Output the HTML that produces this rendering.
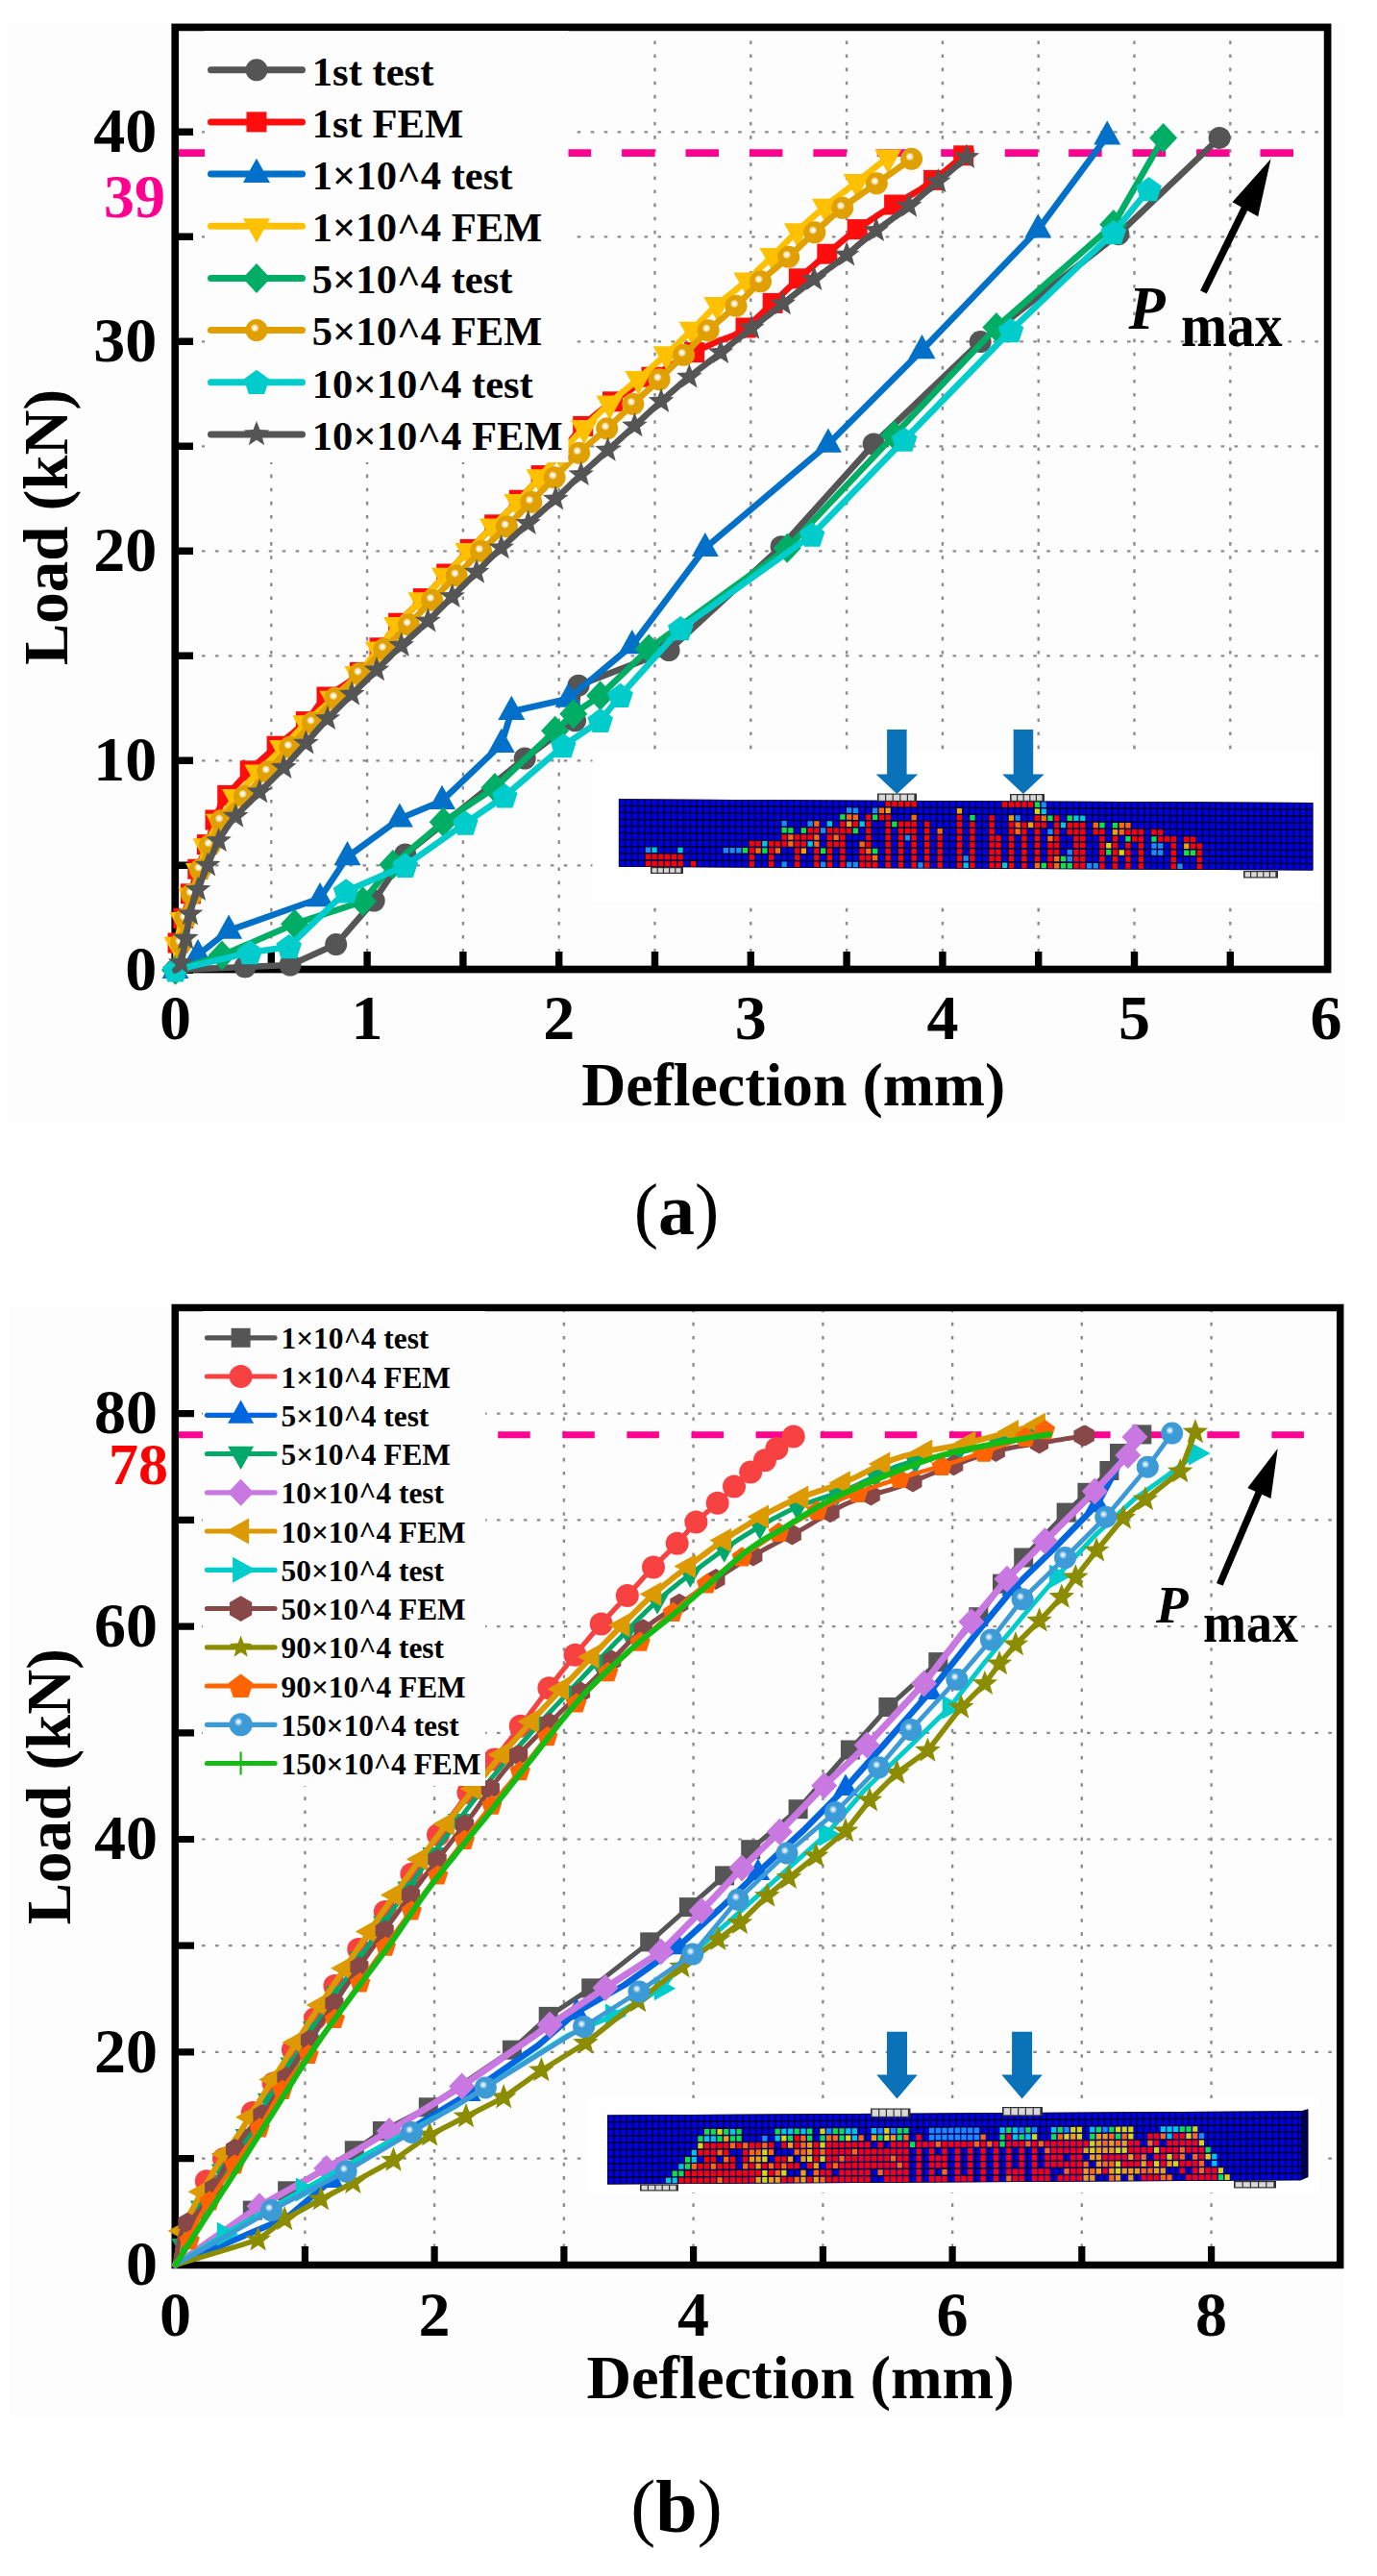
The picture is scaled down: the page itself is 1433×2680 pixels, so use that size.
<!DOCTYPE html>
<html><head><meta charset="utf-8"><title>Load-deflection curves</title>
<style>html,body{margin:0;padding:0;background:#fff;overflow:hidden}svg{display:block}text{font-family:"Liberation Serif",serif;font-weight:bold}</style>
</head><body>
<svg width="1433" height="2680" viewBox="0 0 1433 2680">
<defs>
<radialGradient id="hl"><stop offset="0" stop-color="#fff" stop-opacity="1"/><stop offset="0.5" stop-color="#fff" stop-opacity="0.8"/><stop offset="1" stop-color="#fff" stop-opacity="0"/></radialGradient>
<radialGradient id="hl2"><stop offset="0" stop-color="#fff" stop-opacity="0.95"/><stop offset="0.4" stop-color="#fff" stop-opacity="0.7"/><stop offset="1" stop-color="#fff" stop-opacity="0"/></radialGradient>
<pattern id="meshA" x="0" y="0" width="6.752" height="7.05" patternUnits="userSpaceOnUse"><rect width="6.752" height="7.05" fill="#000028"/><rect x="0.75" y="0.75" width="5.25" height="5.55" fill="#0000e6"/></pattern>
<pattern id="meshB" x="0" y="0" width="6.722" height="7.2" patternUnits="userSpaceOnUse"><rect width="6.722" height="7.2" fill="#000028"/><rect x="0.75" y="0.75" width="5.22" height="5.7" fill="#0000e6"/></pattern>
</defs>
<rect x="0" y="0" width="1433" height="2680" fill="#ffffff"/><rect x="7" y="24" width="1394" height="1144" fill="#fdfdfd"/><rect x="10" y="1357" width="1389" height="1157" fill="#fdfdfd"/><path d="M282.3,1004.8 V32 M382.1,1004.8 V32 M481.9,1004.8 V32 M581.7,1004.8 V32 M681.5,1004.8 V32 M781.3,1004.8 V32 M881.1,1004.8 V32 M980.9,1004.8 V32 M1080.7,1004.8 V32 M1180.5,1004.8 V32 M1280.3,1004.8 V32" stroke="#8c8c8c" stroke-width="2.4" stroke-dasharray="3.6 10.5" fill="none"/><path d="M182.05,900.3 H1378 M182.05,791.3 H1378 M182.05,682.3 H1378 M182.05,573.3 H1378 M182.05,464.3 H1378 M182.05,355.3 H1378 M182.05,246.3 H1378 M182.05,137.3 H1378" stroke="#8c8c8c" stroke-width="2.2" stroke-dasharray="3.6 10.356" fill="none"/><path d="M182,159.1 H1346" stroke="#ff0090" stroke-width="7.6" stroke-dasharray="34.5 31.94" fill="none"/><rect x="616.5" y="783" width="756.5" height="155" fill="#ffffff"/><g transform="translate(643.9,831.3) skewY(0.301)"><rect x="0" y="0" width="722.5" height="70.5" fill="#000028"/><rect x="0" y="0" width="722.5" height="70.5" fill="url(#meshA)"/><rect x="27.8" y="50.1" width="5.3" height="5.5" fill="#1a8cf0"/><rect x="27.8" y="57.1" width="5.3" height="5.5" fill="#ff0000"/><rect x="27.8" y="64.2" width="5.3" height="5.5" fill="#ff0000"/><rect x="34.5" y="50.1" width="5.3" height="5.5" fill="#00c8d8"/><rect x="34.5" y="57.1" width="5.3" height="5.5" fill="#ff0000"/><rect x="34.5" y="64.2" width="5.3" height="5.5" fill="#ff0000"/><rect x="41.3" y="57.1" width="5.3" height="5.5" fill="#ff0000"/><rect x="41.3" y="64.2" width="5.3" height="5.5" fill="#ff0000"/><rect x="48" y="57.1" width="5.3" height="5.5" fill="#ff0000"/><rect x="48" y="64.2" width="5.3" height="5.5" fill="#ff0000"/><rect x="54.8" y="57.1" width="5.3" height="5.5" fill="#ff0000"/><rect x="54.8" y="64.2" width="5.3" height="5.5" fill="#ff0000"/><rect x="61.5" y="50.1" width="5.3" height="5.5" fill="#00c8d8"/><rect x="61.5" y="57.1" width="5.3" height="5.5" fill="#ff0000"/><rect x="61.5" y="64.2" width="5.3" height="5.5" fill="#ff0000"/><rect x="75" y="64.2" width="5.3" height="5.5" fill="#ff0000"/><rect x="108.8" y="50.1" width="5.3" height="5.5" fill="#1a8cf0"/><rect x="115.5" y="50.1" width="5.3" height="5.5" fill="#1a8cf0"/><rect x="122.3" y="50.1" width="5.3" height="5.5" fill="#1a8cf0"/><rect x="129" y="50.1" width="5.3" height="5.5" fill="#10e040"/><rect x="135.8" y="43" width="5.3" height="5.5" fill="#ff0000"/><rect x="135.8" y="50.1" width="5.3" height="5.5" fill="#ff0000"/><rect x="135.8" y="57.1" width="5.3" height="5.5" fill="#ff0000"/><rect x="135.8" y="64.2" width="5.3" height="5.5" fill="#ff0000"/><rect x="142.5" y="43" width="5.3" height="5.5" fill="#ff0000"/><rect x="142.5" y="50.1" width="5.3" height="5.5" fill="#ff6a00"/><rect x="149.3" y="43" width="5.3" height="5.5" fill="#00c8d8"/><rect x="149.3" y="50.1" width="5.3" height="5.5" fill="#10e040"/><rect x="156.1" y="43" width="5.3" height="5.5" fill="#ff0000"/><rect x="156.1" y="50.1" width="5.3" height="5.5" fill="#ff0000"/><rect x="156.1" y="57.1" width="5.3" height="5.5" fill="#ff0000"/><rect x="156.1" y="64.2" width="5.3" height="5.5" fill="#ff0000"/><rect x="162.8" y="43" width="5.3" height="5.5" fill="#ff0000"/><rect x="162.8" y="50.1" width="5.3" height="5.5" fill="#ff6a00"/><rect x="169.6" y="21.9" width="5.3" height="5.5" fill="#1a8cf0"/><rect x="169.6" y="28.9" width="5.3" height="5.5" fill="#10e040"/><rect x="169.6" y="36" width="5.3" height="5.5" fill="#ff0000"/><rect x="169.6" y="43" width="5.3" height="5.5" fill="#ff0000"/><rect x="169.6" y="64.2" width="5.3" height="5.5" fill="#1a8cf0"/><rect x="176.3" y="28.9" width="5.3" height="5.5" fill="#10e040"/><rect x="176.3" y="36" width="5.3" height="5.5" fill="#ff6a00"/><rect x="176.3" y="43" width="5.3" height="5.5" fill="#ff6a00"/><rect x="183.1" y="36" width="5.3" height="5.5" fill="#ff0000"/><rect x="183.1" y="43" width="5.3" height="5.5" fill="#ff0000"/><rect x="183.1" y="50.1" width="5.3" height="5.5" fill="#ff0000"/><rect x="183.1" y="57.1" width="5.3" height="5.5" fill="#ff0000"/><rect x="183.1" y="64.2" width="5.3" height="5.5" fill="#ff0000"/><rect x="189.8" y="28.9" width="5.3" height="5.5" fill="#10e040"/><rect x="189.8" y="36" width="5.3" height="5.5" fill="#ff0000"/><rect x="189.8" y="43" width="5.3" height="5.5" fill="#ff0000"/><rect x="189.8" y="50.1" width="5.3" height="5.5" fill="#f0a000"/><rect x="196.6" y="21.9" width="5.3" height="5.5" fill="#1a8cf0"/><rect x="196.6" y="28.9" width="5.3" height="5.5" fill="#ff0000"/><rect x="196.6" y="36" width="5.3" height="5.5" fill="#ff0000"/><rect x="196.6" y="43" width="5.3" height="5.5" fill="#00c8d8"/><rect x="203.3" y="21.9" width="5.3" height="5.5" fill="#ff6a00"/><rect x="203.3" y="28.9" width="5.3" height="5.5" fill="#ff0000"/><rect x="203.3" y="36" width="5.3" height="5.5" fill="#ff6a00"/><rect x="203.3" y="43" width="5.3" height="5.5" fill="#ff6a00"/><rect x="203.3" y="50.1" width="5.3" height="5.5" fill="#ff0000"/><rect x="203.3" y="57.1" width="5.3" height="5.5" fill="#ff0000"/><rect x="203.3" y="64.2" width="5.3" height="5.5" fill="#ff0000"/><rect x="210.1" y="28.9" width="5.3" height="5.5" fill="#1a8cf0"/><rect x="210.1" y="50.1" width="5.3" height="5.5" fill="#10e040"/><rect x="210.1" y="64.2" width="5.3" height="5.5" fill="#1a8cf0"/><rect x="216.8" y="21.9" width="5.3" height="5.5" fill="#00c8d8"/><rect x="216.8" y="28.9" width="5.3" height="5.5" fill="#ff0000"/><rect x="216.8" y="36" width="5.3" height="5.5" fill="#ff0000"/><rect x="216.8" y="43" width="5.3" height="5.5" fill="#ff0000"/><rect x="216.8" y="50.1" width="5.3" height="5.5" fill="#ff0000"/><rect x="216.8" y="57.1" width="5.3" height="5.5" fill="#ff0000"/><rect x="216.8" y="64.2" width="5.3" height="5.5" fill="#ff0000"/><rect x="223.6" y="28.9" width="5.3" height="5.5" fill="#ff0000"/><rect x="223.6" y="36" width="5.3" height="5.5" fill="#ff6a00"/><rect x="223.6" y="43" width="5.3" height="5.5" fill="#ff0000"/><rect x="230.3" y="14.8" width="5.3" height="5.5" fill="#10e040"/><rect x="230.3" y="21.9" width="5.3" height="5.5" fill="#ff0000"/><rect x="230.3" y="28.9" width="5.3" height="5.5" fill="#ff0000"/><rect x="230.3" y="36" width="5.3" height="5.5" fill="#ff0000"/><rect x="230.3" y="43" width="5.3" height="5.5" fill="#ff0000"/><rect x="230.3" y="50.1" width="5.3" height="5.5" fill="#ff0000"/><rect x="230.3" y="57.1" width="5.3" height="5.5" fill="#ff0000"/><rect x="230.3" y="64.2" width="5.3" height="5.5" fill="#ff0000"/><rect x="237.1" y="7.8" width="5.3" height="5.5" fill="#1a8cf0"/><rect x="237.1" y="14.8" width="5.3" height="5.5" fill="#ff6a00"/><rect x="237.1" y="21.9" width="5.3" height="5.5" fill="#f0a000"/><rect x="237.1" y="28.9" width="5.3" height="5.5" fill="#ff0000"/><rect x="237.1" y="64.2" width="5.3" height="5.5" fill="#1a8cf0"/><rect x="243.8" y="7.8" width="5.3" height="5.5" fill="#1a8cf0"/><rect x="243.8" y="14.8" width="5.3" height="5.5" fill="#ff6a00"/><rect x="243.8" y="21.9" width="5.3" height="5.5" fill="#ff0000"/><rect x="243.8" y="28.9" width="5.3" height="5.5" fill="#10e040"/><rect x="243.8" y="64.2" width="5.3" height="5.5" fill="#1a8cf0"/><rect x="250.6" y="21.9" width="5.3" height="5.5" fill="#00c8d8"/><rect x="250.6" y="43" width="5.3" height="5.5" fill="#ff6a00"/><rect x="250.6" y="50.1" width="5.3" height="5.5" fill="#ff0000"/><rect x="250.6" y="57.1" width="5.3" height="5.5" fill="#ff0000"/><rect x="250.6" y="64.2" width="5.3" height="5.5" fill="#ff0000"/><rect x="257.3" y="14.8" width="5.3" height="5.5" fill="#ff0000"/><rect x="257.3" y="21.9" width="5.3" height="5.5" fill="#ff0000"/><rect x="257.3" y="28.9" width="5.3" height="5.5" fill="#ff0000"/><rect x="257.3" y="36" width="5.3" height="5.5" fill="#ff0000"/><rect x="257.3" y="43" width="5.3" height="5.5" fill="#ff0000"/><rect x="257.3" y="50.1" width="5.3" height="5.5" fill="#ff6a00"/><rect x="257.3" y="57.1" width="5.3" height="5.5" fill="#ff0000"/><rect x="257.3" y="64.2" width="5.3" height="5.5" fill="#ff0000"/><rect x="264.1" y="7.8" width="5.3" height="5.5" fill="#1a8cf0"/><rect x="264.1" y="14.8" width="5.3" height="5.5" fill="#10e040"/><rect x="264.1" y="50.1" width="5.3" height="5.5" fill="#10e040"/><rect x="264.1" y="57.1" width="5.3" height="5.5" fill="#ff6a00"/><rect x="264.1" y="64.2" width="5.3" height="5.5" fill="#ff0000"/><rect x="270.8" y="7.8" width="5.3" height="5.5" fill="#ff6a00"/><rect x="270.8" y="14.8" width="5.3" height="5.5" fill="#ff0000"/><rect x="277.6" y="0.8" width="5.3" height="5.5" fill="#ff0000"/><rect x="277.6" y="7.8" width="5.3" height="5.5" fill="#f0a000"/><rect x="277.6" y="14.8" width="5.3" height="5.5" fill="#ff0000"/><rect x="277.6" y="21.9" width="5.3" height="5.5" fill="#ff0000"/><rect x="277.6" y="28.9" width="5.3" height="5.5" fill="#ff0000"/><rect x="277.6" y="36" width="5.3" height="5.5" fill="#ff0000"/><rect x="277.6" y="43" width="5.3" height="5.5" fill="#ff0000"/><rect x="277.6" y="50.1" width="5.3" height="5.5" fill="#ff0000"/><rect x="277.6" y="57.1" width="5.3" height="5.5" fill="#ff0000"/><rect x="277.6" y="64.2" width="5.3" height="5.5" fill="#ff0000"/><rect x="284.3" y="0.8" width="5.3" height="5.5" fill="#ff0000"/><rect x="284.3" y="21.9" width="5.3" height="5.5" fill="#10e040"/><rect x="291.1" y="0.8" width="5.3" height="5.5" fill="#ff0000"/><rect x="291.1" y="21.9" width="5.3" height="5.5" fill="#ff0000"/><rect x="291.1" y="28.9" width="5.3" height="5.5" fill="#ff0000"/><rect x="291.1" y="36" width="5.3" height="5.5" fill="#ff0000"/><rect x="291.1" y="43" width="5.3" height="5.5" fill="#ff0000"/><rect x="291.1" y="50.1" width="5.3" height="5.5" fill="#ff0000"/><rect x="291.1" y="57.1" width="5.3" height="5.5" fill="#ff0000"/><rect x="291.1" y="64.2" width="5.3" height="5.5" fill="#ff0000"/><rect x="297.9" y="0.8" width="5.3" height="5.5" fill="#ff0000"/><rect x="297.9" y="21.9" width="5.3" height="5.5" fill="#ff0000"/><rect x="297.9" y="28.9" width="5.3" height="5.5" fill="#ff0000"/><rect x="297.9" y="36" width="5.3" height="5.5" fill="#1a8cf0"/><rect x="304.6" y="0.8" width="5.3" height="5.5" fill="#ff0000"/><rect x="304.6" y="14.8" width="5.3" height="5.5" fill="#ff6a00"/><rect x="304.6" y="21.9" width="5.3" height="5.5" fill="#ff0000"/><rect x="304.6" y="28.9" width="5.3" height="5.5" fill="#ff0000"/><rect x="304.6" y="36" width="5.3" height="5.5" fill="#ff0000"/><rect x="304.6" y="43" width="5.3" height="5.5" fill="#ff0000"/><rect x="304.6" y="50.1" width="5.3" height="5.5" fill="#ff0000"/><rect x="304.6" y="57.1" width="5.3" height="5.5" fill="#ff0000"/><rect x="304.6" y="64.2" width="5.3" height="5.5" fill="#ff0000"/><rect x="311.4" y="64.2" width="5.3" height="5.5" fill="#1a8cf0"/><rect x="318.1" y="21.9" width="5.3" height="5.5" fill="#ff0000"/><rect x="318.1" y="28.9" width="5.3" height="5.5" fill="#ff0000"/><rect x="318.1" y="36" width="5.3" height="5.5" fill="#ff0000"/><rect x="318.1" y="43" width="5.3" height="5.5" fill="#ff0000"/><rect x="318.1" y="50.1" width="5.3" height="5.5" fill="#ff0000"/><rect x="318.1" y="57.1" width="5.3" height="5.5" fill="#ff0000"/><rect x="318.1" y="64.2" width="5.3" height="5.5" fill="#ff0000"/><rect x="331.6" y="28.9" width="5.3" height="5.5" fill="#ff6a00"/><rect x="331.6" y="36" width="5.3" height="5.5" fill="#ff0000"/><rect x="331.6" y="43" width="5.3" height="5.5" fill="#ff0000"/><rect x="331.6" y="50.1" width="5.3" height="5.5" fill="#ff0000"/><rect x="331.6" y="57.1" width="5.3" height="5.5" fill="#ff0000"/><rect x="331.6" y="64.2" width="5.3" height="5.5" fill="#ff0000"/><rect x="351.9" y="7.8" width="5.3" height="5.5" fill="#f0a000"/><rect x="351.9" y="14.8" width="5.3" height="5.5" fill="#ff0000"/><rect x="351.9" y="21.9" width="5.3" height="5.5" fill="#ff0000"/><rect x="351.9" y="28.9" width="5.3" height="5.5" fill="#ff0000"/><rect x="351.9" y="36" width="5.3" height="5.5" fill="#ff0000"/><rect x="351.9" y="43" width="5.3" height="5.5" fill="#ff0000"/><rect x="351.9" y="50.1" width="5.3" height="5.5" fill="#ff0000"/><rect x="351.9" y="57.1" width="5.3" height="5.5" fill="#ff0000"/><rect x="351.9" y="64.2" width="5.3" height="5.5" fill="#ff0000"/><rect x="358.6" y="57.1" width="5.3" height="5.5" fill="#1a8cf0"/><rect x="358.6" y="64.2" width="5.3" height="5.5" fill="#00c8d8"/><rect x="365.4" y="14.8" width="5.3" height="5.5" fill="#10e040"/><rect x="365.4" y="21.9" width="5.3" height="5.5" fill="#ff0000"/><rect x="365.4" y="28.9" width="5.3" height="5.5" fill="#ff0000"/><rect x="365.4" y="36" width="5.3" height="5.5" fill="#ff0000"/><rect x="365.4" y="43" width="5.3" height="5.5" fill="#ff0000"/><rect x="365.4" y="50.1" width="5.3" height="5.5" fill="#ff0000"/><rect x="365.4" y="57.1" width="5.3" height="5.5" fill="#ff0000"/><rect x="365.4" y="64.2" width="5.3" height="5.5" fill="#ff0000"/><rect x="385.6" y="14.8" width="5.3" height="5.5" fill="#ff0000"/><rect x="385.6" y="21.9" width="5.3" height="5.5" fill="#ff0000"/><rect x="385.6" y="28.9" width="5.3" height="5.5" fill="#ff0000"/><rect x="385.6" y="36" width="5.3" height="5.5" fill="#ff0000"/><rect x="385.6" y="43" width="5.3" height="5.5" fill="#ff0000"/><rect x="385.6" y="50.1" width="5.3" height="5.5" fill="#ff0000"/><rect x="385.6" y="57.1" width="5.3" height="5.5" fill="#ff0000"/><rect x="385.6" y="64.2" width="5.3" height="5.5" fill="#ff0000"/><rect x="392.4" y="36" width="5.3" height="5.5" fill="#ff0000"/><rect x="392.4" y="43" width="5.3" height="5.5" fill="#ff0000"/><rect x="392.4" y="50.1" width="5.3" height="5.5" fill="#ff0000"/><rect x="392.4" y="57.1" width="5.3" height="5.5" fill="#ff0000"/><rect x="392.4" y="64.2" width="5.3" height="5.5" fill="#ff0000"/><rect x="399.1" y="0.8" width="5.3" height="5.5" fill="#ff0000"/><rect x="399.1" y="64.2" width="5.3" height="5.5" fill="#00c8d8"/><rect x="405.9" y="0.8" width="5.3" height="5.5" fill="#ff0000"/><rect x="405.9" y="14.8" width="5.3" height="5.5" fill="#f0a000"/><rect x="405.9" y="21.9" width="5.3" height="5.5" fill="#ff0000"/><rect x="405.9" y="28.9" width="5.3" height="5.5" fill="#ff0000"/><rect x="405.9" y="36" width="5.3" height="5.5" fill="#ff0000"/><rect x="405.9" y="43" width="5.3" height="5.5" fill="#ff0000"/><rect x="405.9" y="50.1" width="5.3" height="5.5" fill="#ff0000"/><rect x="405.9" y="57.1" width="5.3" height="5.5" fill="#ff0000"/><rect x="405.9" y="64.2" width="5.3" height="5.5" fill="#ff0000"/><rect x="412.6" y="0.8" width="5.3" height="5.5" fill="#ff0000"/><rect x="412.6" y="14.8" width="5.3" height="5.5" fill="#1a8cf0"/><rect x="412.6" y="21.9" width="5.3" height="5.5" fill="#ff6a00"/><rect x="412.6" y="28.9" width="5.3" height="5.5" fill="#ff6a00"/><rect x="419.4" y="0.8" width="5.3" height="5.5" fill="#ff0000"/><rect x="419.4" y="21.9" width="5.3" height="5.5" fill="#ff0000"/><rect x="419.4" y="28.9" width="5.3" height="5.5" fill="#ff0000"/><rect x="419.4" y="36" width="5.3" height="5.5" fill="#ff0000"/><rect x="419.4" y="43" width="5.3" height="5.5" fill="#ff0000"/><rect x="419.4" y="50.1" width="5.3" height="5.5" fill="#ff0000"/><rect x="419.4" y="57.1" width="5.3" height="5.5" fill="#ff0000"/><rect x="419.4" y="64.2" width="5.3" height="5.5" fill="#ff0000"/><rect x="426.1" y="0.8" width="5.3" height="5.5" fill="#ff0000"/><rect x="426.1" y="21.9" width="5.3" height="5.5" fill="#f0a000"/><rect x="432.9" y="0.8" width="5.3" height="5.5" fill="#10e040"/><rect x="432.9" y="7.8" width="5.3" height="5.5" fill="#d8d800"/><rect x="432.9" y="14.8" width="5.3" height="5.5" fill="#ff0000"/><rect x="432.9" y="21.9" width="5.3" height="5.5" fill="#ff0000"/><rect x="432.9" y="28.9" width="5.3" height="5.5" fill="#ff0000"/><rect x="432.9" y="36" width="5.3" height="5.5" fill="#ff0000"/><rect x="432.9" y="43" width="5.3" height="5.5" fill="#ff0000"/><rect x="432.9" y="50.1" width="5.3" height="5.5" fill="#ff0000"/><rect x="432.9" y="57.1" width="5.3" height="5.5" fill="#ff0000"/><rect x="432.9" y="64.2" width="5.3" height="5.5" fill="#ff6a00"/><rect x="439.7" y="0.8" width="5.3" height="5.5" fill="#1a8cf0"/><rect x="439.7" y="7.8" width="5.3" height="5.5" fill="#00c8d8"/><rect x="439.7" y="14.8" width="5.3" height="5.5" fill="#ff6a00"/><rect x="439.7" y="21.9" width="5.3" height="5.5" fill="#ff0000"/><rect x="439.7" y="64.2" width="5.3" height="5.5" fill="#10e040"/><rect x="446.4" y="14.8" width="5.3" height="5.5" fill="#10e040"/><rect x="446.4" y="28.9" width="5.3" height="5.5" fill="#1a8cf0"/><rect x="446.4" y="36" width="5.3" height="5.5" fill="#ff6a00"/><rect x="446.4" y="43" width="5.3" height="5.5" fill="#ff0000"/><rect x="446.4" y="50.1" width="5.3" height="5.5" fill="#ff0000"/><rect x="446.4" y="57.1" width="5.3" height="5.5" fill="#ff0000"/><rect x="446.4" y="64.2" width="5.3" height="5.5" fill="#ff0000"/><rect x="453.2" y="14.8" width="5.3" height="5.5" fill="#ff0000"/><rect x="453.2" y="21.9" width="5.3" height="5.5" fill="#ff0000"/><rect x="453.2" y="28.9" width="5.3" height="5.5" fill="#ff0000"/><rect x="453.2" y="36" width="5.3" height="5.5" fill="#ff0000"/><rect x="453.2" y="43" width="5.3" height="5.5" fill="#ff0000"/><rect x="453.2" y="50.1" width="5.3" height="5.5" fill="#ff0000"/><rect x="453.2" y="57.1" width="5.3" height="5.5" fill="#ff6a00"/><rect x="453.2" y="64.2" width="5.3" height="5.5" fill="#ff6a00"/><rect x="459.9" y="21.9" width="5.3" height="5.5" fill="#00c8d8"/><rect x="459.9" y="57.1" width="5.3" height="5.5" fill="#10e040"/><rect x="459.9" y="64.2" width="5.3" height="5.5" fill="#10e040"/><rect x="466.7" y="14.8" width="5.3" height="5.5" fill="#10e040"/><rect x="466.7" y="21.9" width="5.3" height="5.5" fill="#ff0000"/><rect x="466.7" y="28.9" width="5.3" height="5.5" fill="#ff0000"/><rect x="466.7" y="50.1" width="5.3" height="5.5" fill="#1a8cf0"/><rect x="466.7" y="57.1" width="5.3" height="5.5" fill="#1a8cf0"/><rect x="466.7" y="64.2" width="5.3" height="5.5" fill="#10e040"/><rect x="473.4" y="14.8" width="5.3" height="5.5" fill="#00c8d8"/><rect x="473.4" y="21.9" width="5.3" height="5.5" fill="#ff0000"/><rect x="473.4" y="28.9" width="5.3" height="5.5" fill="#ff0000"/><rect x="473.4" y="36" width="5.3" height="5.5" fill="#ff0000"/><rect x="473.4" y="43" width="5.3" height="5.5" fill="#ff0000"/><rect x="473.4" y="50.1" width="5.3" height="5.5" fill="#ff0000"/><rect x="473.4" y="57.1" width="5.3" height="5.5" fill="#ff0000"/><rect x="473.4" y="64.2" width="5.3" height="5.5" fill="#ff0000"/><rect x="480.2" y="14.8" width="5.3" height="5.5" fill="#00c8d8"/><rect x="480.2" y="21.9" width="5.3" height="5.5" fill="#ff0000"/><rect x="480.2" y="28.9" width="5.3" height="5.5" fill="#ff0000"/><rect x="480.2" y="36" width="5.3" height="5.5" fill="#ff0000"/><rect x="480.2" y="43" width="5.3" height="5.5" fill="#ff0000"/><rect x="480.2" y="50.1" width="5.3" height="5.5" fill="#ff0000"/><rect x="480.2" y="57.1" width="5.3" height="5.5" fill="#ff0000"/><rect x="480.2" y="64.2" width="5.3" height="5.5" fill="#ff0000"/><rect x="486.9" y="64.2" width="5.3" height="5.5" fill="#1a8cf0"/><rect x="493.7" y="21.9" width="5.3" height="5.5" fill="#ff6a00"/><rect x="493.7" y="28.9" width="5.3" height="5.5" fill="#ff0000"/><rect x="493.7" y="64.2" width="5.3" height="5.5" fill="#1a8cf0"/><rect x="500.4" y="21.9" width="5.3" height="5.5" fill="#10e040"/><rect x="500.4" y="28.9" width="5.3" height="5.5" fill="#ff0000"/><rect x="500.4" y="36" width="5.3" height="5.5" fill="#ff0000"/><rect x="500.4" y="43" width="5.3" height="5.5" fill="#ff0000"/><rect x="500.4" y="50.1" width="5.3" height="5.5" fill="#ff0000"/><rect x="500.4" y="57.1" width="5.3" height="5.5" fill="#ff0000"/><rect x="500.4" y="64.2" width="5.3" height="5.5" fill="#ff0000"/><rect x="507.2" y="43" width="5.3" height="5.5" fill="#d8d800"/><rect x="507.2" y="50.1" width="5.3" height="5.5" fill="#10e040"/><rect x="513.9" y="21.9" width="5.3" height="5.5" fill="#10e040"/><rect x="513.9" y="28.9" width="5.3" height="5.5" fill="#f0a000"/><rect x="513.9" y="36" width="5.3" height="5.5" fill="#ff0000"/><rect x="513.9" y="43" width="5.3" height="5.5" fill="#ff0000"/><rect x="513.9" y="50.1" width="5.3" height="5.5" fill="#ff0000"/><rect x="513.9" y="57.1" width="5.3" height="5.5" fill="#ff0000"/><rect x="513.9" y="64.2" width="5.3" height="5.5" fill="#ff0000"/><rect x="520.7" y="21.9" width="5.3" height="5.5" fill="#ff6a00"/><rect x="520.7" y="28.9" width="5.3" height="5.5" fill="#ff6a00"/><rect x="520.7" y="50.1" width="5.3" height="5.5" fill="#d8d800"/><rect x="527.4" y="21.9" width="5.3" height="5.5" fill="#ff6a00"/><rect x="527.4" y="28.9" width="5.3" height="5.5" fill="#ff0000"/><rect x="527.4" y="36" width="5.3" height="5.5" fill="#10e040"/><rect x="527.4" y="43" width="5.3" height="5.5" fill="#ff0000"/><rect x="527.4" y="50.1" width="5.3" height="5.5" fill="#ff0000"/><rect x="527.4" y="57.1" width="5.3" height="5.5" fill="#ff0000"/><rect x="527.4" y="64.2" width="5.3" height="5.5" fill="#ff0000"/><rect x="534.2" y="28.9" width="5.3" height="5.5" fill="#ff0000"/><rect x="534.2" y="36" width="5.3" height="5.5" fill="#ff0000"/><rect x="540.9" y="28.9" width="5.3" height="5.5" fill="#ff0000"/><rect x="540.9" y="36" width="5.3" height="5.5" fill="#ff0000"/><rect x="540.9" y="43" width="5.3" height="5.5" fill="#ff0000"/><rect x="540.9" y="50.1" width="5.3" height="5.5" fill="#ff0000"/><rect x="540.9" y="57.1" width="5.3" height="5.5" fill="#ff0000"/><rect x="540.9" y="64.2" width="5.3" height="5.5" fill="#ff0000"/><rect x="554.4" y="28.9" width="5.3" height="5.5" fill="#ff0000"/><rect x="554.4" y="36" width="5.3" height="5.5" fill="#10e040"/><rect x="554.4" y="43" width="5.3" height="5.5" fill="#1a8cf0"/><rect x="554.4" y="50.1" width="5.3" height="5.5" fill="#1a8cf0"/><rect x="561.2" y="28.9" width="5.3" height="5.5" fill="#ff0000"/><rect x="561.2" y="36" width="5.3" height="5.5" fill="#ff0000"/><rect x="561.2" y="43" width="5.3" height="5.5" fill="#1a8cf0"/><rect x="561.2" y="50.1" width="5.3" height="5.5" fill="#1a8cf0"/><rect x="567.9" y="36" width="5.3" height="5.5" fill="#ff0000"/><rect x="574.7" y="36" width="5.3" height="5.5" fill="#ff0000"/><rect x="574.7" y="43" width="5.3" height="5.5" fill="#ff0000"/><rect x="574.7" y="50.1" width="5.3" height="5.5" fill="#ff0000"/><rect x="574.7" y="57.1" width="5.3" height="5.5" fill="#ff0000"/><rect x="574.7" y="64.2" width="5.3" height="5.5" fill="#ff0000"/><rect x="581.5" y="64.2" width="5.3" height="5.5" fill="#1a8cf0"/><rect x="588.2" y="36" width="5.3" height="5.5" fill="#ff0000"/><rect x="588.2" y="43" width="5.3" height="5.5" fill="#f0a000"/><rect x="588.2" y="50.1" width="5.3" height="5.5" fill="#10e040"/><rect x="595" y="36" width="5.3" height="5.5" fill="#ff0000"/><rect x="595" y="43" width="5.3" height="5.5" fill="#ff0000"/><rect x="595" y="50.1" width="5.3" height="5.5" fill="#10e040"/><rect x="601.7" y="43" width="5.3" height="5.5" fill="#ff0000"/><rect x="601.7" y="50.1" width="5.3" height="5.5" fill="#ff0000"/><rect x="601.7" y="57.1" width="5.3" height="5.5" fill="#ff0000"/><rect x="601.7" y="64.2" width="5.3" height="5.5" fill="#ff0000"/></g><rect x="913" y="825.5" width="41" height="8.5" fill="#303030"/><rect x="914.6" y="826.7" width="6.4" height="6.1" fill="#d8d8d8"/><rect x="922.2" y="826.7" width="6.4" height="6.1" fill="#d8d8d8"/><rect x="929.8" y="826.7" width="6.4" height="6.1" fill="#d8d8d8"/><rect x="937.4" y="826.7" width="6.4" height="6.1" fill="#d8d8d8"/><rect x="945" y="826.7" width="6.4" height="6.1" fill="#d8d8d8"/><rect x="1051" y="826" width="36" height="8" fill="#303030"/><rect x="1052.6" y="827.2" width="5.4" height="5.6" fill="#d8d8d8"/><rect x="1059.2" y="827.2" width="5.4" height="5.6" fill="#d8d8d8"/><rect x="1065.8" y="827.2" width="5.4" height="5.6" fill="#d8d8d8"/><rect x="1072.4" y="827.2" width="5.4" height="5.6" fill="#d8d8d8"/><rect x="1079" y="827.2" width="5.4" height="5.6" fill="#d8d8d8"/><rect x="677" y="902" width="34" height="7" fill="#303030"/><rect x="678.6" y="903.2" width="5" height="4.6" fill="#d8d8d8"/><rect x="684.8" y="903.2" width="5" height="4.6" fill="#d8d8d8"/><rect x="691" y="903.2" width="5" height="4.6" fill="#d8d8d8"/><rect x="697.2" y="903.2" width="5" height="4.6" fill="#d8d8d8"/><rect x="703.4" y="903.2" width="5" height="4.6" fill="#d8d8d8"/><rect x="1294" y="906" width="36" height="7.5" fill="#303030"/><rect x="1295.6" y="907.2" width="5.4" height="5.1" fill="#d8d8d8"/><rect x="1302.2" y="907.2" width="5.4" height="5.1" fill="#d8d8d8"/><rect x="1308.8" y="907.2" width="5.4" height="5.1" fill="#d8d8d8"/><rect x="1315.4" y="907.2" width="5.4" height="5.1" fill="#d8d8d8"/><rect x="1322" y="907.2" width="5.4" height="5.1" fill="#d8d8d8"/><polygon points="923.1,759 943.6,759 943.6,805.4 955.2,805.4 933.4,826 911.6,805.4 923.1,805.4" fill="#0a72b8"/><polygon points="1054.7,759 1075.2,759 1075.2,805.4 1086.7,805.4 1064.9,826 1043.1,805.4 1054.7,805.4" fill="#0a72b8"/><rect x="182.25" y="28.4" width="1199.35" height="980.1" fill="none" stroke="#000" stroke-width="7.7"/><path d="M186,1009.3 H201 M186,900.3 H201 M186,791.3 H201 M186,682.3 H201 M186,573.3 H201 M186,464.3 H201 M186,355.3 H201 M186,246.3 H201 M186,137.3 H201 M282.3,1005 V990 M382.1,1005 V990 M481.9,1005 V990 M581.7,1005 V990 M681.5,1005 V990 M781.3,1005 V990 M881.1,1005 V990 M980.9,1005 V990 M1080.7,1005 V990 M1180.5,1005 V990 M1280.3,1005 V990" stroke="#000" stroke-width="7.4" fill="none"/><path d="M182.5,1009.3 L255,1006 L302,1004 L349.7,982.6 L389.2,937.1 L421.7,889 L546.2,789 L598.5,749.8 L602,713.2 L696.1,676.6 L813.1,568.7 L909.2,462 L1020.2,355.6 L1163.9,243.7 L1269.1,143.4" fill="none" stroke="#555555" stroke-width="6.6" stroke-linejoin="round" stroke-linecap="round"/><circle cx="182.5" cy="1009.3" r="11.5" fill="#555555"/><circle cx="255" cy="1006" r="11.5" fill="#555555"/><circle cx="302" cy="1004" r="11.5" fill="#555555"/><circle cx="349.7" cy="982.6" r="11.5" fill="#555555"/><circle cx="389.2" cy="937.1" r="11.5" fill="#555555"/><circle cx="421.7" cy="889" r="11.5" fill="#555555"/><circle cx="546.2" cy="789" r="11.5" fill="#555555"/><circle cx="598.5" cy="749.8" r="11.5" fill="#555555"/><circle cx="602" cy="713.2" r="11.5" fill="#555555"/><circle cx="696.1" cy="676.6" r="11.5" fill="#555555"/><circle cx="813.1" cy="568.7" r="11.5" fill="#555555"/><circle cx="909.2" cy="462" r="11.5" fill="#555555"/><circle cx="1020.2" cy="355.6" r="11.5" fill="#555555"/><circle cx="1163.9" cy="243.7" r="11.5" fill="#555555"/><circle cx="1269.1" cy="143.4" r="11.5" fill="#555555"/><path d="M182.5,1009.3 L182.7,1007.3 L182.9,1004.6 L183.2,1001.4 L183.5,997.9 L183.8,994.1 L184.1,990.2 L184.5,986.3 L184.9,982.6 L185.4,979.1 L185.8,976 L186.3,973.3 L186.8,970.7 L187.3,968.3 L187.9,966 L188.5,963.8 L189.1,961.6 L189.7,959.5 L190.3,957.3 L190.9,955 L191.6,952.7 L192.3,950.3 L193,947.8 L193.7,945.4 L194.4,942.9 L195.2,940.4 L195.9,937.9 L196.7,935.5 L197.4,933 L198.2,930.5 L198.9,928 L199.6,925.5 L200.3,923 L201,920.5 L201.7,918 L202.4,915.6 L203.1,913.1 L203.8,910.6 L204.6,908.1 L205.3,905.7 L206.1,903.3 L206.9,900.9 L207.8,898.6 L208.6,896.3 L209.5,894.1 L210.4,891.8 L211.3,889.5 L212.2,887.2 L213.1,884.9 L214,882.5 L214.9,880.1 L215.8,877.6 L216.6,875 L217.5,872.4 L218.3,869.7 L219.2,867 L220,864.3 L220.9,861.7 L221.8,859 L222.7,856.5 L223.6,854 L224.5,851.6 L225.3,849.3 L226.1,847.1 L226.8,845 L227.7,842.8 L228.5,840.6 L229.6,838.4 L230.7,836.2 L232.1,833.9 L233.7,831.4 L235.6,828.8 L237.7,826.1 L240,823.4 L242.4,820.5 L245,817.7 L247.6,814.8 L250.3,811.9 L253,809.1 L255.7,806.4 L258.3,803.7 L260.8,801.1 L263.3,798.7 L265.8,796.2 L268.3,793.9 L270.9,791.5 L273.4,789.2 L276.1,786.8 L278.8,784.4 L281.6,781.9 L284.5,779.3 L287.6,776.6 L290.9,773.9 L294.3,771.1 L297.9,768.2 L301.4,765.3 L305,762.5 L308.4,759.6 L311.7,756.8 L314.8,754.1 L317.6,751.4 L320.1,748.8 L322.2,746.3 L324.2,743.8 L326,741.3 L327.7,738.9 L329.4,736.5 L331.1,734.1 L333.1,731.7 L335.2,729.4 L337.6,727 L340.3,724.7 L343.3,722.4 L346.5,720.3 L349.9,718.1 L353.3,715.9 L356.7,713.7 L360.1,711.5 L363.4,709.2 L366.5,706.9 L369.4,704.4 L372.1,701.8 L374.7,699.2 L377.2,696.4 L379.5,693.6 L381.9,690.8 L384.1,687.9 L386.4,685 L388.6,682.2 L390.8,679.3 L393,676.5 L395.2,673.7 L397.3,670.9 L399.4,668 L401.5,665.2 L403.6,662.4 L405.6,659.6 L407.7,656.8 L409.8,654 L412,651.3 L414.2,648.7 L416.5,646.1 L418.9,643.6 L421.2,641.2 L423.7,638.8 L426.1,636.4 L428.6,634.1 L431.1,631.7 L433.6,629.3 L436.1,626.8 L438.6,624.3 L441.1,621.7 L443.7,619.1 L446.2,616.4 L448.8,613.7 L451.4,611 L454,608.2 L456.6,605.5 L459.1,602.8 L461.7,600.1 L464.2,597.5 L466.7,594.9 L469.1,592.3 L471.6,589.8 L474,587.2 L476.4,584.7 L478.8,582.1 L481.2,579.6 L483.7,577.1 L486.1,574.5 L488.6,572 L491.1,569.4 L493.6,566.9 L496.2,564.3 L498.7,561.8 L501.3,559.2 L503.8,556.6 L506.4,554.1 L509,551.5 L511.5,549 L514.1,546.4 L516.7,543.8 L519.3,541.3 L521.9,538.7 L524.5,536.2 L527.1,533.6 L529.6,531 L532.2,528.5 L534.8,525.9 L537.2,523.4 L539.7,520.8 L542.1,518.2 L544.5,515.7 L546.8,513.1 L549.1,510.6 L551.4,508.1 L553.6,505.5 L555.9,503 L558.1,500.4 L560.4,497.9 L562.6,495.3 L564.8,492.8 L567,490.2 L569.2,487.7 L571.3,485.2 L573.5,482.7 L575.6,480.1 L577.8,477.6 L580,475 L582.2,472.4 L584.5,469.7 L586.8,467 L589.1,464.2 L591.3,461.3 L593.6,458.5 L596,455.6 L598.3,452.7 L600.8,449.8 L603.3,447 L605.9,444.2 L608.6,441.5 L611.4,438.8 L614.3,436.2 L617.2,433.6 L620.2,431.1 L623.3,428.6 L626.5,426 L629.7,423.5 L633.1,421 L636.5,418.5 L640,416 L643.7,413.5 L647.4,410.9 L651.4,408.4 L655.4,405.9 L659.5,403.3 L663.6,400.8 L667.7,398.3 L671.9,395.9 L676,393.4 L680,391 L684.1,388.6 L688.2,386.1 L692.5,383.6 L696.7,381.1 L700.9,378.7 L705.1,376.3 L709.1,374 L713,371.9 L716.6,369.8 L720,368 L723.1,366.4 L725.9,364.9 L728.6,363.6 L731,362.4 L733.4,361.3 L735.7,360.2 L737.9,359.2 L740.2,358.2 L742.5,357.1 L745,356 L747.5,354.9 L750.1,353.9 L752.6,353.1 L755.1,352.2 L757.7,351.3 L760.2,350.3 L762.8,349.2 L765.5,348 L768.2,346.5 L770.9,344.8 L773.7,342.8 L776.6,340.5 L779.6,338.1 L782.6,335.4 L785.6,332.7 L788.6,329.9 L791.6,327 L794.6,324.2 L797.6,321.4 L800.5,318.7 L803.4,316.1 L806.2,313.4 L809,310.8 L811.8,308.1 L814.6,305.5 L817.3,302.9 L820.1,300.2 L822.8,297.6 L825.6,295 L828.4,292.5 L831.2,290 L833.9,287.5 L836.7,285.1 L839.4,282.7 L842.1,280.3 L844.9,277.9 L847.7,275.5 L850.5,273.1 L853.4,270.6 L856.3,268.1 L859.3,265.6 L862.2,263 L865.2,260.4 L868.2,257.8 L871.3,255.2 L874.4,252.5 L877.6,249.9 L880.8,247.2 L884.2,244.6 L887.6,242 L891.1,239.4 L894.8,236.8 L898.5,234.1 L902.4,231.5 L906.3,228.8 L910.2,226.2 L914.1,223.6 L918.1,221 L922.1,218.4 L926,215.9 L930,213.4 L934,211 L938,208.6 L942.1,206.3 L946.2,203.9 L950.2,201.6 L954.3,199.2 L958.3,196.7 L962.2,194.1 L966.1,191.5 L970.1,188.6 L974.2,185.4 L978.5,182 L982.7,178.6 L986.9,175.1 L990.9,171.8 L994.5,168.7 L997.8,165.9 L1000.5,163.6 L1002.7,161.8" fill="none" stroke="#ff0d0d" stroke-width="6.6" stroke-linejoin="round" stroke-linecap="round"/><rect x="992.2" y="151.3" width="21" height="21" fill="#ff0d0d"/><rect x="961.1" y="176.9" width="21" height="21" fill="#ff0d0d"/><rect x="920.1" y="202.5" width="21" height="21" fill="#ff0d0d"/><rect x="881.7" y="228.1" width="21" height="21" fill="#ff0d0d"/><rect x="850.3" y="253.7" width="21" height="21" fill="#ff0d0d"/><rect x="820.9" y="279.3" width="21" height="21" fill="#ff0d0d"/><rect x="793.6" y="304.9" width="21" height="21" fill="#ff0d0d"/><rect x="765.5" y="330.5" width="21" height="21" fill="#ff0d0d"/><rect x="712.1" y="356.1" width="21" height="21" fill="#ff0d0d"/><rect x="667.5" y="381.7" width="21" height="21" fill="#ff0d0d"/><rect x="627" y="407.3" width="21" height="21" fill="#ff0d0d"/><rect x="596.2" y="432.9" width="21" height="21" fill="#ff0d0d"/><rect x="574.6" y="458.5" width="21" height="21" fill="#ff0d0d"/><rect x="552.7" y="484.1" width="21" height="21" fill="#ff0d0d"/><rect x="529.8" y="509.7" width="21" height="21" fill="#ff0d0d"/><rect x="504.2" y="535.3" width="21" height="21" fill="#ff0d0d"/><rect x="478.7" y="560.9" width="21" height="21" fill="#ff0d0d"/><rect x="454.2" y="586.5" width="21" height="21" fill="#ff0d0d"/><rect x="429.8" y="612.1" width="21" height="21" fill="#ff0d0d"/><rect x="404.1" y="637.7" width="21" height="21" fill="#ff0d0d"/><rect x="384.6" y="663.3" width="21" height="21" fill="#ff0d0d"/><rect x="363.9" y="688.9" width="21" height="21" fill="#ff0d0d"/><rect x="329.5" y="714.5" width="21" height="21" fill="#ff0d0d"/><rect x="307.9" y="740.1" width="21" height="21" fill="#ff0d0d"/><rect x="277.6" y="765.7" width="21" height="21" fill="#ff0d0d"/><rect x="249.7" y="791.3" width="21" height="21" fill="#ff0d0d"/><rect x="226.2" y="816.9" width="21" height="21" fill="#ff0d0d"/><rect x="213.5" y="842.5" width="21" height="21" fill="#ff0d0d"/><rect x="204.9" y="868.1" width="21" height="21" fill="#ff0d0d"/><rect x="195.3" y="893.7" width="21" height="21" fill="#ff0d0d"/><rect x="187.9" y="919.3" width="21" height="21" fill="#ff0d0d"/><rect x="180.3" y="944.9" width="21" height="21" fill="#ff0d0d"/><rect x="174.6" y="970.5" width="21" height="21" fill="#ff0d0d"/><path d="M182.5,1009.3 L206,993.5 L238.1,968 L333,934.5 L361.5,891.5 L415.9,851.8 L460,833.2 L521.8,774.2 L532.3,740.2 L591.5,727 L657.8,671.4 L733.8,570.3 L861.9,462 L959.5,364.4 L1080.3,238.7 L1152.2,141.8" fill="none" stroke="#0070c8" stroke-width="6.6" stroke-linejoin="round" stroke-linecap="round"/><polygon points="182.5,992.9 168.5,1018.1 196.5,1018.1" fill="#0070c8"/><polygon points="206,977.1 192,1002.3 220,1002.3" fill="#0070c8"/><polygon points="238.1,951.6 224.1,976.8 252.1,976.8" fill="#0070c8"/><polygon points="333,918.1 319,943.3 347,943.3" fill="#0070c8"/><polygon points="361.5,875.1 347.5,900.3 375.5,900.3" fill="#0070c8"/><polygon points="415.9,835.4 401.9,860.6 429.9,860.6" fill="#0070c8"/><polygon points="460,816.8 446,842 474,842" fill="#0070c8"/><polygon points="521.8,757.8 507.8,783 535.8,783" fill="#0070c8"/><polygon points="532.3,723.8 518.3,749 546.3,749" fill="#0070c8"/><polygon points="591.5,710.6 577.5,735.8 605.5,735.8" fill="#0070c8"/><polygon points="657.8,655 643.8,680.2 671.8,680.2" fill="#0070c8"/><polygon points="733.8,553.9 719.8,579.1 747.8,579.1" fill="#0070c8"/><polygon points="861.9,445.6 847.9,470.8 875.9,470.8" fill="#0070c8"/><polygon points="959.5,348 945.5,373.2 973.5,373.2" fill="#0070c8"/><polygon points="1080.3,222.3 1066.3,247.5 1094.3,247.5" fill="#0070c8"/><polygon points="1152.2,125.4 1138.2,150.6 1166.2,150.6" fill="#0070c8"/><path d="M182.5,1009.3 L182.7,1007 L182.9,1003.9 L183.1,1000.3 L183.4,996.2 L183.7,991.8 L184,987.3 L184.4,982.9 L184.8,978.7 L185.3,974.9 L185.8,971.6 L186.4,968.8 L187,966.3 L187.7,964 L188.4,961.9 L189.1,960 L189.9,958.1 L190.7,956.2 L191.5,954.2 L192.3,952.1 L193.1,949.8 L193.9,947.4 L194.8,944.8 L195.7,942.2 L196.6,939.6 L197.5,936.9 L198.4,934.2 L199.3,931.6 L200.1,928.9 L201,926.3 L201.8,923.7 L202.6,921.2 L203.3,918.6 L204.1,916.1 L204.8,913.7 L205.5,911.2 L206.2,908.7 L206.9,906.3 L207.6,903.8 L208.3,901.4 L209,899 L209.7,896.6 L210.4,894.2 L211,891.9 L211.6,889.6 L212.3,887.3 L213,884.9 L213.7,882.6 L214.5,880.3 L215.3,878 L216.3,875.7 L217.4,873.4 L218.5,871.1 L219.7,868.8 L220.9,866.5 L222.3,864.2 L223.6,861.9 L225,859.6 L226.5,857.2 L227.9,854.9 L229.4,852.5 L230.9,850.1 L232.4,847.6 L234,845.2 L235.6,842.7 L237.2,840.2 L238.9,837.7 L240.6,835.2 L242.4,832.7 L244.2,830.2 L246.1,827.8 L248.1,825.4 L250.1,823 L252.2,820.6 L254.4,818.2 L256.6,815.8 L258.8,813.5 L261.1,811.1 L263.4,808.8 L265.7,806.4 L268,804 L270.3,801.6 L272.7,799.3 L275.1,796.9 L277.5,794.6 L279.9,792.2 L282.4,789.9 L284.9,787.5 L287.3,785.1 L289.8,782.6 L292.3,780.1 L294.8,777.5 L297.3,774.9 L299.8,772.1 L302.3,769.4 L304.8,766.6 L307.3,763.8 L309.9,761.1 L312.4,758.4 L315,755.7 L317.6,753.1 L320.2,750.6 L322.8,748.1 L325.5,745.7 L328.2,743.3 L330.8,740.9 L333.5,738.5 L336.2,736.2 L338.9,733.8 L341.5,731.4 L344.1,729 L346.7,726.6 L349.3,724.2 L351.8,721.8 L354.4,719.4 L356.9,716.9 L359.5,714.5 L362,712 L364.5,709.5 L366.9,707 L369.4,704.4 L371.8,701.7 L374.3,699 L376.7,696.3 L379.1,693.5 L381.5,690.6 L383.8,687.8 L386.1,685 L388.5,682.1 L390.7,679.3 L393,676.5 L395.2,673.7 L397.3,670.9 L399.4,668 L401.5,665.2 L403.6,662.4 L405.6,659.6 L407.7,656.8 L409.8,654 L412,651.3 L414.2,648.7 L416.5,646.1 L418.9,643.6 L421.2,641.2 L423.7,638.8 L426.1,636.4 L428.6,634.1 L431.1,631.7 L433.6,629.3 L436.1,626.8 L438.6,624.3 L441.1,621.7 L443.7,619.1 L446.2,616.4 L448.8,613.7 L451.4,611 L454,608.2 L456.6,605.5 L459.1,602.8 L461.7,600.1 L464.2,597.5 L466.7,594.9 L469.1,592.3 L471.6,589.8 L474,587.2 L476.4,584.7 L478.8,582.1 L481.2,579.6 L483.7,577.1 L486.1,574.5 L488.6,572 L491.1,569.4 L493.6,566.9 L496.2,564.3 L498.7,561.8 L501.3,559.2 L503.8,556.6 L506.4,554.1 L509,551.5 L511.5,549 L514.1,546.4 L516.7,543.8 L519.3,541.3 L521.9,538.7 L524.5,536.2 L527.1,533.6 L529.6,531 L532.2,528.5 L534.8,525.9 L537.2,523.4 L539.7,520.8 L542.1,518.2 L544.5,515.7 L546.8,513.1 L549.1,510.6 L551.4,508.1 L553.6,505.5 L555.9,503 L558.1,500.4 L560.4,497.9 L562.6,495.3 L564.8,492.7 L567,490.2 L569.1,487.7 L571.3,485.1 L573.4,482.6 L575.5,480 L577.7,477.5 L579.9,474.9 L582.2,472.3 L584.5,469.7 L586.9,467.1 L589.4,464.4 L591.9,461.7 L594.5,459 L597.1,456.3 L599.7,453.6 L602.3,450.9 L604.9,448.2 L607.5,445.6 L610.1,443 L612.6,440.5 L615.2,438 L617.7,435.5 L620.2,433 L622.8,430.6 L625.3,428.2 L627.8,425.8 L630.4,423.4 L633,421 L635.6,418.6 L638.2,416.2 L640.9,413.9 L643.6,411.6 L646.3,409.3 L649,407 L651.8,404.7 L654.5,402.4 L657.3,400.1 L660,397.8 L662.8,395.4 L665.6,393 L668.3,390.6 L671.1,388.2 L673.9,385.8 L676.7,383.4 L679.5,380.9 L682.3,378.5 L685.1,376 L687.9,373.5 L690.7,371 L693.5,368.5 L696.3,365.9 L699.1,363.3 L701.9,360.6 L704.8,358 L707.6,355.4 L710.4,352.7 L713.1,350.1 L715.9,347.4 L718.6,344.8 L721.3,342.2 L723.9,339.5 L726.4,336.9 L729,334.3 L731.5,331.6 L734.1,329 L736.7,326.4 L739.3,323.8 L742,321.2 L744.7,318.7 L747.5,316.2 L750.4,313.8 L753.3,311.4 L756.3,309 L759.3,306.6 L762.4,304.2 L765.4,301.8 L768.4,299.4 L771.4,296.9 L774.4,294.3 L777.4,291.6 L780.4,288.9 L783.4,286.1 L786.4,283.3 L789.4,280.5 L792.4,277.6 L795.4,274.8 L798.3,271.9 L801.2,269.1 L804,266.4 L806.7,263.7 L809.4,261 L812,258.4 L814.5,255.8 L817,253.2 L819.6,250.6 L822.1,248 L824.7,245.4 L827.4,242.8 L830.1,240.2 L832.9,237.6 L835.8,234.9 L838.7,232.3 L841.6,229.7 L844.6,227 L847.6,224.4 L850.7,221.8 L853.7,219.2 L856.7,216.6 L859.8,214.1 L862.9,211.6 L865.9,209.1 L869,206.7 L872.1,204.3 L875.2,201.9 L878.4,199.5 L881.5,197.1 L884.7,194.7 L887.9,192.2 L891.1,189.7 L894.5,187 L898.1,184.2 L901.9,181.2 L905.8,178.1 L909.6,175.1 L913.3,172.2 L916.6,169.6 L919.7,167.2 L922.2,165.2 L924.2,163.6" fill="none" stroke="#ffc000" stroke-width="6.6" stroke-linejoin="round" stroke-linecap="round"/><polygon points="924.2,180.7 910.2,155.5 938.2,155.5" fill="#ffc000"/><polygon points="891.7,206.3 877.7,181.1 905.7,181.1" fill="#ffc000"/><polygon points="859,231.9 845,206.7 873,206.7" fill="#ffc000"/><polygon points="829.9,257.5 815.9,232.3 843.9,232.3" fill="#ffc000"/><polygon points="804.4,283.1 790.4,257.9 818.4,257.9" fill="#ffc000"/><polygon points="777.4,308.7 763.4,283.5 791.4,283.5" fill="#ffc000"/><polygon points="746.4,334.3 732.4,309.1 760.4,309.1" fill="#ffc000"/><polygon points="720.6,359.9 706.6,334.7 734.6,334.7" fill="#ffc000"/><polygon points="693.6,385.5 679.6,360.3 707.6,360.3" fill="#ffc000"/><polygon points="664.4,411.1 650.4,385.9 678.4,385.9" fill="#ffc000"/><polygon points="634.5,436.7 620.5,411.5 648.5,411.5" fill="#ffc000"/><polygon points="607.9,462.3 593.9,437.1 621.9,437.1" fill="#ffc000"/><polygon points="583.5,487.9 569.5,462.7 597.5,462.7" fill="#ffc000"/><polygon points="561.6,513.5 547.6,488.3 575.6,488.3" fill="#ffc000"/><polygon points="538.5,539.1 524.5,513.9 552.5,513.9" fill="#ffc000"/><polygon points="512.9,564.7 498.9,539.5 526.9,539.5" fill="#ffc000"/><polygon points="487.4,590.3 473.4,565.1 501.4,565.1" fill="#ffc000"/><polygon points="463,615.9 449,590.7 477,590.7" fill="#ffc000"/><polygon points="438.5,641.5 424.5,616.3 452.5,616.3" fill="#ffc000"/><polygon points="413.1,667.1 399.1,641.9 427.1,641.9" fill="#ffc000"/><polygon points="393.7,692.7 379.7,667.5 407.7,667.5" fill="#ffc000"/><polygon points="372.3,718.3 358.3,693.1 386.3,693.1" fill="#ffc000"/><polygon points="346.4,743.9 332.4,718.7 360.4,718.7" fill="#ffc000"/><polygon points="318.3,769.5 304.3,744.3 332.3,744.3" fill="#ffc000"/><polygon points="294.3,795.1 280.3,769.9 308.3,769.9" fill="#ffc000"/><polygon points="268.4,820.7 254.4,795.5 282.4,795.5" fill="#ffc000"/><polygon points="245,846.3 231,821.1 259,821.1" fill="#ffc000"/><polygon points="228,871.9 214,846.7 242,846.7" fill="#ffc000"/><polygon points="214.4,897.5 200.4,872.3 228.4,872.3" fill="#ffc000"/><polygon points="207,923.1 193,897.9 221,897.9" fill="#ffc000"/><polygon points="199.2,948.7 185.2,923.5 213.2,923.5" fill="#ffc000"/><polygon points="190.2,974.3 176.2,949.1 204.2,949.1" fill="#ffc000"/><polygon points="184.4,999.9 170.4,974.7 198.4,974.7" fill="#ffc000"/><path d="M182.5,1009.3 L231,994 L306.6,961.2 L377.5,937.8 L408.9,899.4 L461.2,855.3 L514.9,819.5 L577.6,760.3 L596.8,742.8 L624.7,723.7 L675.2,674.9 L819.2,570.3 L930.5,452.8 L1036.9,340.6 L1158.8,233.6 L1210.6,143.4" fill="none" stroke="#00ad65" stroke-width="6.6" stroke-linejoin="round" stroke-linecap="round"/><polygon points="182.5,993.8 197,1009.3 182.5,1024.8 168,1009.3" fill="#00ad65"/><polygon points="231,978.5 245.5,994 231,1009.5 216.5,994" fill="#00ad65"/><polygon points="306.6,945.7 321.1,961.2 306.6,976.7 292.1,961.2" fill="#00ad65"/><polygon points="377.5,922.3 392,937.8 377.5,953.3 363,937.8" fill="#00ad65"/><polygon points="408.9,883.9 423.4,899.4 408.9,914.9 394.4,899.4" fill="#00ad65"/><polygon points="461.2,839.8 475.7,855.3 461.2,870.8 446.7,855.3" fill="#00ad65"/><polygon points="514.9,804 529.4,819.5 514.9,835 500.4,819.5" fill="#00ad65"/><polygon points="577.6,744.8 592.1,760.3 577.6,775.8 563.1,760.3" fill="#00ad65"/><polygon points="596.8,727.3 611.3,742.8 596.8,758.3 582.3,742.8" fill="#00ad65"/><polygon points="624.7,708.2 639.2,723.7 624.7,739.2 610.2,723.7" fill="#00ad65"/><polygon points="675.2,659.4 689.7,674.9 675.2,690.4 660.7,674.9" fill="#00ad65"/><polygon points="819.2,554.8 833.7,570.3 819.2,585.8 804.7,570.3" fill="#00ad65"/><polygon points="930.5,437.3 945,452.8 930.5,468.3 916,452.8" fill="#00ad65"/><polygon points="1036.9,325.1 1051.4,340.6 1036.9,356.1 1022.4,340.6" fill="#00ad65"/><polygon points="1158.8,218.1 1173.3,233.6 1158.8,249.1 1144.3,233.6" fill="#00ad65"/><polygon points="1210.6,127.9 1225.1,143.4 1210.6,158.9 1196.1,143.4" fill="#00ad65"/><path d="M182.5,1009.3 L182.7,1008.6 L182.9,1007.8 L183.2,1007 L183.4,1006.1 L183.8,1005 L184.1,1003.6 L184.5,1002 L185,1000.1 L185.5,997.7 L186,995 L186.6,991.7 L187.3,987.7 L188,983.3 L188.8,978.5 L189.7,973.5 L190.5,968.4 L191.4,963.4 L192.3,958.5 L193.1,954 L194,950 L194.9,946.4 L195.8,942.9 L196.7,939.6 L197.6,936.5 L198.5,933.6 L199.4,930.7 L200.3,927.9 L201.2,925.2 L202.1,922.6 L203,920 L203.8,917.5 L204.6,915.1 L205.4,912.8 L206.2,910.6 L207,908.5 L207.8,906.4 L208.6,904.3 L209.4,902.3 L210.2,900.2 L211,898 L211.8,895.8 L212.7,893.7 L213.5,891.6 L214.3,889.4 L215.2,887.3 L216.1,885.2 L217,883 L217.9,880.7 L218.9,878.4 L220,876 L221.1,873.5 L222.2,870.9 L223.2,868.2 L224.4,865.4 L225.5,862.6 L226.8,859.9 L228.2,857.1 L229.6,854.3 L231.3,851.6 L233.1,849 L235.1,846.5 L237.4,844 L239.8,841.5 L242.3,839.1 L245,836.8 L247.7,834.4 L250.4,832 L253.1,829.6 L255.8,827.1 L258.3,824.6 L260.8,822 L263.3,819.5 L265.7,816.8 L268.2,814.2 L270.7,811.6 L273.1,808.9 L275.5,806.2 L277.9,803.6 L280.3,801 L282.7,798.4 L285,795.8 L287.3,793.3 L289.6,790.8 L291.9,788.3 L294.1,785.7 L296.3,783.2 L298.6,780.7 L300.8,778.2 L303.1,775.7 L305.4,773.2 L307.7,770.7 L310.1,768.1 L312.4,765.6 L314.8,763.1 L317.1,760.5 L319.5,758 L321.9,755.5 L324.2,752.9 L326.6,750.4 L328.9,747.9 L331.2,745.4 L333.5,742.9 L335.8,740.4 L338.1,737.9 L340.4,735.4 L342.7,732.9 L345,730.4 L347.3,727.9 L349.7,725.5 L352,723 L354.4,720.6 L356.7,718.2 L359.1,715.8 L361.5,713.4 L363.9,711 L366.3,708.6 L368.7,706.2 L371.1,703.8 L373.6,701.4 L376,699 L378.5,696.6 L380.9,694.1 L383.4,691.6 L385.9,689.2 L388.4,686.7 L390.8,684.2 L393.4,681.7 L395.9,679.2 L398.4,676.7 L400.9,674.2 L403.4,671.7 L406,669.1 L408.6,666.6 L411.2,664 L413.8,661.4 L416.4,658.9 L419,656.3 L421.5,653.7 L424,651.2 L426.5,648.7 L428.9,646.2 L431.3,643.8 L433.6,641.3 L435.8,638.9 L438.1,636.5 L440.4,634.1 L442.6,631.7 L444.9,629.2 L447.3,626.8 L449.7,624.3 L452.2,621.8 L454.7,619.3 L457.2,616.7 L459.8,614.1 L462.4,611.6 L465,609 L467.6,606.4 L470.1,603.8 L472.7,601.3 L475.3,598.7 L477.8,596.1 L480.4,593.6 L482.9,591 L485.4,588.5 L488,585.9 L490.5,583.3 L493.1,580.8 L495.6,578.2 L498.2,575.7 L500.8,573.1 L503.4,570.5 L506.1,568 L508.8,565.4 L511.5,562.9 L514.2,560.4 L516.9,557.8 L519.6,555.3 L522.3,552.7 L525,550.2 L527.6,547.6 L530.2,545 L532.8,542.5 L535.4,539.9 L537.9,537.4 L540.5,534.8 L543,532.2 L545.6,529.7 L548.1,527.1 L550.6,524.6 L553.1,522 L555.6,519.4 L558,516.9 L560.5,514.3 L562.9,511.8 L565.3,509.2 L567.7,506.7 L570.1,504.1 L572.5,501.5 L575,499 L577.5,496.4 L580,493.8 L582.5,491.2 L585,488.7 L587.6,486.1 L590.1,483.5 L592.7,480.9 L595.3,478.3 L597.9,475.8 L600.6,473.2 L603.3,470.6 L606.1,468 L609,465.5 L611.9,462.9 L614.9,460.3 L617.9,457.8 L620.9,455.2 L623.9,452.6 L626.9,450.1 L629.8,447.5 L632.6,445 L635.4,442.5 L638.1,439.9 L640.8,437.4 L643.5,434.9 L646.1,432.3 L648.8,429.8 L651.4,427.3 L654,424.8 L656.7,422.3 L659.3,419.8 L661.9,417.3 L664.6,414.9 L667.2,412.5 L669.8,410.1 L672.4,407.7 L675.1,405.3 L677.7,402.8 L680.3,400.4 L682.9,397.9 L685.5,395.4 L688.1,392.9 L690.7,390.3 L693.3,387.7 L695.9,385 L698.5,382.4 L701.2,379.8 L703.8,377.1 L706.4,374.5 L709,371.8 L711.6,369.2 L714.2,366.6 L716.8,363.9 L719.4,361.3 L722,358.7 L724.6,356 L727.2,353.4 L729.8,350.8 L732.5,348.2 L735.1,345.6 L737.8,343.1 L740.5,340.6 L743.3,338.1 L746.1,335.7 L748.9,333.3 L751.7,330.9 L754.5,328.5 L757.3,326.1 L760.1,323.7 L762.9,321.2 L765.6,318.7 L768.3,316.1 L770.9,313.5 L773.5,310.9 L776.1,308.3 L778.7,305.6 L781.3,302.9 L783.9,300.3 L786.5,297.7 L789.1,295.1 L791.8,292.5 L794.5,290 L797.3,287.5 L800,285.1 L802.8,282.7 L805.6,280.3 L808.5,277.9 L811.3,275.5 L814.1,273.1 L816.9,270.6 L819.7,268.1 L822.5,265.6 L825.3,263 L828,260.4 L830.8,257.8 L833.5,255.2 L836.3,252.5 L839.1,249.9 L841.9,247.2 L844.7,244.6 L847.6,242 L850.5,239.4 L853.3,236.8 L856.2,234.1 L859.1,231.5 L862,228.8 L865,226.2 L867.9,223.6 L871,221 L874.1,218.4 L877.2,215.9 L880.4,213.4 L883.7,210.9 L887,208.5 L890.4,206.1 L893.8,203.7 L897.2,201.3 L900.7,198.9 L904.2,196.5 L907.7,194 L911.3,191.5 L915.1,188.8 L919.2,186 L923.4,182.9 L927.8,179.9 L932.1,176.9 L936.2,174 L940.1,171.3 L943.5,168.9 L946.4,166.9 L948.6,165.3" fill="none" stroke="#e0a000" stroke-width="6.6" stroke-linejoin="round" stroke-linecap="round"/><circle cx="948.6" cy="165.3" r="11.5" fill="#e0a000"/><circle cx="946.8" cy="163" r="4.6" fill="url(#hl)"/><circle cx="912.3" cy="190.8" r="11.5" fill="#e0a000"/><circle cx="910.4" cy="188.5" r="4.6" fill="url(#hl)"/><circle cx="876.7" cy="216.3" r="11.5" fill="#e0a000"/><circle cx="874.9" cy="214" r="4.6" fill="url(#hl)"/><circle cx="847.8" cy="241.8" r="11.5" fill="#e0a000"/><circle cx="846" cy="239.5" r="4.6" fill="url(#hl)"/><circle cx="820.6" cy="267.3" r="11.5" fill="#e0a000"/><circle cx="818.7" cy="265" r="4.6" fill="url(#hl)"/><circle cx="791.5" cy="292.8" r="11.5" fill="#e0a000"/><circle cx="789.6" cy="290.5" r="4.6" fill="url(#hl)"/><circle cx="766" cy="318.3" r="11.5" fill="#e0a000"/><circle cx="764.2" cy="316" r="4.6" fill="url(#hl)"/><circle cx="737.1" cy="343.8" r="11.5" fill="#e0a000"/><circle cx="735.2" cy="341.5" r="4.6" fill="url(#hl)"/><circle cx="711.5" cy="369.3" r="11.5" fill="#e0a000"/><circle cx="709.7" cy="367" r="4.6" fill="url(#hl)"/><circle cx="686.1" cy="394.8" r="11.5" fill="#e0a000"/><circle cx="684.3" cy="392.5" r="4.6" fill="url(#hl)"/><circle cx="658.8" cy="420.3" r="11.5" fill="#e0a000"/><circle cx="656.9" cy="418" r="4.6" fill="url(#hl)"/><circle cx="631.7" cy="445.8" r="11.5" fill="#e0a000"/><circle cx="629.9" cy="443.5" r="4.6" fill="url(#hl)"/><circle cx="602.6" cy="471.3" r="11.5" fill="#e0a000"/><circle cx="600.7" cy="469" r="4.6" fill="url(#hl)"/><circle cx="577.1" cy="496.8" r="11.5" fill="#e0a000"/><circle cx="575.3" cy="494.5" r="4.6" fill="url(#hl)"/><circle cx="552.8" cy="522.3" r="11.5" fill="#e0a000"/><circle cx="551" cy="520" r="4.6" fill="url(#hl)"/><circle cx="527.4" cy="547.8" r="11.5" fill="#e0a000"/><circle cx="525.6" cy="545.5" r="4.6" fill="url(#hl)"/><circle cx="500.6" cy="573.3" r="11.5" fill="#e0a000"/><circle cx="498.8" cy="571" r="4.6" fill="url(#hl)"/><circle cx="475.2" cy="598.8" r="11.5" fill="#e0a000"/><circle cx="473.4" cy="596.5" r="4.6" fill="url(#hl)"/><circle cx="449.7" cy="624.3" r="11.5" fill="#e0a000"/><circle cx="447.9" cy="622" r="4.6" fill="url(#hl)"/><circle cx="425.4" cy="649.8" r="11.5" fill="#e0a000"/><circle cx="423.6" cy="647.5" r="4.6" fill="url(#hl)"/><circle cx="399.8" cy="675.3" r="11.5" fill="#e0a000"/><circle cx="398" cy="673" r="4.6" fill="url(#hl)"/><circle cx="374.2" cy="700.8" r="11.5" fill="#e0a000"/><circle cx="372.4" cy="698.5" r="4.6" fill="url(#hl)"/><circle cx="348.9" cy="726.3" r="11.5" fill="#e0a000"/><circle cx="347" cy="724" r="4.6" fill="url(#hl)"/><circle cx="325.3" cy="751.8" r="11.5" fill="#e0a000"/><circle cx="323.4" cy="749.5" r="4.6" fill="url(#hl)"/><circle cx="301.7" cy="777.3" r="11.5" fill="#e0a000"/><circle cx="299.8" cy="775" r="4.6" fill="url(#hl)"/><circle cx="278.7" cy="802.8" r="11.5" fill="#e0a000"/><circle cx="276.8" cy="800.5" r="4.6" fill="url(#hl)"/><circle cx="254.5" cy="828.3" r="11.5" fill="#e0a000"/><circle cx="252.6" cy="826" r="4.6" fill="url(#hl)"/><circle cx="230" cy="853.8" r="11.5" fill="#e0a000"/><circle cx="228.1" cy="851.5" r="4.6" fill="url(#hl)"/><circle cx="218.5" cy="879.3" r="11.5" fill="#e0a000"/><circle cx="216.7" cy="877" r="4.6" fill="url(#hl)"/><circle cx="208.4" cy="904.8" r="11.5" fill="#e0a000"/><circle cx="206.5" cy="902.5" r="4.6" fill="url(#hl)"/><circle cx="199.6" cy="930.3" r="11.5" fill="#e0a000"/><circle cx="197.7" cy="928" r="4.6" fill="url(#hl)"/><circle cx="192.8" cy="955.8" r="11.5" fill="#e0a000"/><circle cx="191" cy="953.5" r="4.6" fill="url(#hl)"/><circle cx="188.4" cy="981.3" r="11.5" fill="#e0a000"/><circle cx="186.5" cy="979" r="4.6" fill="url(#hl)"/><path d="M182.5,1009.3 L260,991 L300.7,984.9 L360.1,927.3 L421.7,900.6 L484.4,856.4 L525.3,828.2 L586.3,776 L624.7,749.8 L645.6,723.7 L708.3,654 L845.1,556.5 L941.2,457.4 L1052,343.9 L1158.8,242 L1195.6,196.9" fill="none" stroke="#00cccc" stroke-width="6.6" stroke-linejoin="round" stroke-linecap="round"/><polygon points="182.5,996.3 195.8,1006 190.7,1021.6 174.3,1021.6 169.2,1006" fill="#00cccc"/><polygon points="260,978 273.3,987.7 268.2,1003.3 251.8,1003.3 246.7,987.7" fill="#00cccc"/><polygon points="300.7,971.9 314,981.6 308.9,997.2 292.5,997.2 287.4,981.6" fill="#00cccc"/><polygon points="360.1,914.3 373.4,924 368.3,939.6 351.9,939.6 346.8,924" fill="#00cccc"/><polygon points="421.7,887.6 435,897.3 429.9,912.9 413.5,912.9 408.4,897.3" fill="#00cccc"/><polygon points="484.4,843.4 497.7,853.1 492.6,868.7 476.2,868.7 471.1,853.1" fill="#00cccc"/><polygon points="525.3,815.2 538.6,824.9 533.5,840.5 517.1,840.5 512,824.9" fill="#00cccc"/><polygon points="586.3,763 599.6,772.7 594.5,788.3 578.1,788.3 573,772.7" fill="#00cccc"/><polygon points="624.7,736.8 638,746.5 632.9,762.1 616.5,762.1 611.4,746.5" fill="#00cccc"/><polygon points="645.6,710.7 658.9,720.4 653.8,736 637.4,736 632.3,720.4" fill="#00cccc"/><polygon points="708.3,641 721.6,650.7 716.5,666.3 700.1,666.3 695,650.7" fill="#00cccc"/><polygon points="845.1,543.5 858.4,553.2 853.3,568.8 836.9,568.8 831.8,553.2" fill="#00cccc"/><polygon points="941.2,444.4 954.5,454.1 949.4,469.7 933,469.7 927.9,454.1" fill="#00cccc"/><polygon points="1052,330.9 1065.3,340.6 1060.2,356.2 1043.8,356.2 1038.7,340.6" fill="#00cccc"/><polygon points="1158.8,229 1172.1,238.7 1167,254.3 1150.6,254.3 1145.5,238.7" fill="#00cccc"/><polygon points="1195.6,183.9 1208.9,193.6 1203.8,209.2 1187.4,209.2 1182.3,193.6" fill="#00cccc"/><path d="M182.5,1009.3 L182.9,1008.9 L183.3,1008.7 L183.8,1008.6 L184.3,1008.4 L185,1008 L185.6,1007.3 L186.4,1006.3 L187.1,1004.8 L187.9,1002.7 L188.7,1000 L189.6,996.4 L190.5,991.8 L191.5,986.5 L192.5,980.8 L193.6,974.7 L194.6,968.5 L195.7,962.4 L196.8,956.7 L197.9,951.4 L198.9,946.9 L199.9,943 L200.9,939.4 L202,936.2 L203,933.2 L204,930.4 L205.1,927.8 L206.1,925.3 L207.1,922.9 L208,920.4 L209,917.9 L209.9,915.4 L210.8,913.1 L211.7,910.8 L212.6,908.7 L213.4,906.6 L214.2,904.5 L215.1,902.4 L216,900.3 L216.9,898.2 L217.8,896.1 L218.7,893.9 L219.7,891.7 L220.6,889.5 L221.6,887.3 L222.5,885.2 L223.5,883 L224.5,880.8 L225.6,878.6 L226.7,876.4 L227.9,874.3 L229.1,872.2 L230.3,870.1 L231.5,868 L232.8,866 L234.1,863.9 L235.4,861.8 L236.9,859.8 L238.4,857.6 L240,855.5 L241.8,853.3 L243.7,851.1 L245.7,848.8 L247.9,846.5 L250.1,844.2 L252.4,841.8 L254.7,839.4 L257.1,837.1 L259.6,834.7 L262,832.2 L264.4,829.8 L266.8,827.3 L269.3,824.8 L271.9,822.3 L274.5,819.7 L277.1,817.1 L279.7,814.6 L282.3,812 L284.8,809.5 L287.3,807 L289.7,804.5 L292,802.1 L294.2,799.8 L296.4,797.5 L298.5,795.2 L300.6,793 L302.7,790.7 L304.8,788.4 L307,786 L309.2,783.6 L311.5,781 L313.9,778.3 L316.4,775.5 L318.9,772.6 L321.4,769.7 L324,766.7 L326.6,763.7 L329.2,760.7 L331.8,757.8 L334.3,754.9 L336.8,752.2 L339.3,749.6 L341.7,747 L344.1,744.5 L346.5,742.1 L348.9,739.6 L351.2,737.2 L353.6,734.8 L356.1,732.4 L358.5,730 L361,727.5 L363.5,725 L366.1,722.5 L368.6,720 L371.2,717.5 L373.8,714.9 L376.4,712.4 L379,709.8 L381.6,707.3 L384.3,704.6 L387,702 L389.7,699.3 L392.5,696.5 L395.3,693.7 L398.1,690.8 L401,688 L403.8,685.1 L406.6,682.3 L409.4,679.5 L412.2,676.8 L414.9,674.2 L417.5,671.7 L420.2,669.3 L422.7,667 L425.3,664.7 L427.8,662.5 L430.3,660.2 L432.8,658 L435.3,655.7 L437.9,653.4 L440.4,651 L443,648.5 L445.5,646 L448.1,643.5 L450.6,640.9 L453.2,638.3 L455.8,635.7 L458.3,633.1 L460.9,630.6 L463.4,628 L466,625.4 L468.6,622.8 L471.1,620.3 L473.7,617.7 L476.2,615.2 L478.7,612.6 L481.3,610.1 L483.8,607.6 L486.4,605 L488.9,602.5 L491.5,599.9 L494,597.3 L496.6,594.8 L499.1,592.2 L501.6,589.7 L504.1,587.1 L506.7,584.5 L509.2,582 L511.8,579.4 L514.4,576.9 L517.1,574.3 L519.8,571.7 L522.5,569.2 L525.2,566.7 L528,564.1 L530.8,561.6 L533.6,559 L536.4,556.5 L539.2,553.9 L542.1,551.3 L545,548.7 L547.9,546.1 L550.9,543.4 L554,540.7 L557.1,538 L560.2,535.4 L563.3,532.7 L566.3,530 L569.3,527.3 L572.3,524.6 L575.2,522 L578,519.4 L580.7,516.8 L583.4,514.2 L586.1,511.7 L588.7,509.1 L591.3,506.6 L593.9,504 L596.5,501.5 L599.2,499 L601.9,496.4 L604.6,493.8 L607.4,491.3 L610.2,488.7 L613,486.1 L615.8,483.6 L618.7,481 L621.5,478.5 L624.3,475.9 L627,473.4 L629.8,470.9 L632.5,468.4 L635.2,466 L637.9,463.5 L640.6,461.1 L643.2,458.7 L645.9,456.3 L648.5,453.9 L651.2,451.4 L653.9,449 L656.6,446.5 L659.3,444 L662.1,441.5 L664.8,438.9 L667.6,436.3 L670.4,433.8 L673.1,431.2 L675.9,428.6 L678.7,426 L681.6,423.5 L684.4,420.9 L687.2,418.3 L690.1,415.8 L692.9,413.2 L695.8,410.6 L698.7,408.1 L701.6,405.5 L704.5,403 L707.4,400.4 L710.4,397.9 L713.4,395.4 L716.4,392.9 L719.5,390.5 L722.6,388.1 L725.7,385.6 L728.8,383.2 L731.9,380.8 L735.1,378.4 L738.3,376 L741.5,373.5 L744.7,371 L747.9,368.4 L751.2,365.8 L754.6,363.2 L757.9,360.6 L761.2,357.9 L764.6,355.2 L767.9,352.6 L771.3,350 L774.6,347.4 L777.8,344.8 L781,342.3 L784.2,339.8 L787.3,337.4 L790.4,335 L793.5,332.6 L796.6,330.2 L799.7,327.8 L802.8,325.4 L806,322.9 L809.2,320.4 L812.4,317.9 L815.7,315.3 L819,312.6 L822.3,310 L825.6,307.3 L829,304.7 L832.3,302.1 L835.7,299.4 L839,296.8 L842.3,294.3 L845.6,291.8 L848.9,289.3 L852.3,286.9 L855.6,284.5 L859,282.1 L862.3,279.7 L865.6,277.3 L868.9,274.9 L872.2,272.4 L875.4,269.9 L878.6,267.3 L881.8,264.7 L884.9,262.1 L888,259.5 L891.1,256.8 L894.2,254.1 L897.3,251.5 L900.4,248.9 L903.6,246.3 L906.8,243.7 L910,241.2 L913.3,238.7 L916.7,236.3 L920,233.9 L923.4,231.5 L926.7,229.1 L930,226.7 L933.4,224.3 L936.7,221.8 L939.9,219.3 L943.1,216.8 L946.2,214.2 L949.3,211.7 L952.4,209.2 L955.5,206.6 L958.6,204 L961.7,201.3 L964.8,198.7 L968,196 L971.3,193.2 L974.8,190.2 L978.6,187 L982.6,183.6 L986.6,180.2 L990.6,176.8 L994.5,173.5 L998,170.4 L1001.2,167.7 L1003.9,165.4 L1006,163.6" fill="none" stroke="#555555" stroke-width="6.6" stroke-linejoin="round" stroke-linecap="round"/><polygon points="1006,149.6 1009.5,158.8 1019.3,159.3 1011.6,165.4 1014.2,174.9 1006,169.5 997.8,174.9 1000.4,165.4 992.7,159.3 1002.5,158.8" fill="#555555"/><polygon points="976.3,175 979.7,184.2 989.6,184.7 981.9,190.8 984.5,200.3 976.3,194.9 968,200.3 970.7,190.8 962.9,184.7 972.8,184.2" fill="#555555"/><polygon points="946,200.4 949.5,209.6 959.4,210.1 951.6,216.2 954.3,225.7 946,220.3 937.8,225.7 940.5,216.2 932.7,210.1 942.6,209.6" fill="#555555"/><polygon points="911.9,225.8 915.4,235 925.2,235.5 917.5,241.6 920.1,251.1 911.9,245.7 903.7,251.1 906.3,241.6 898.6,235.5 908.5,235" fill="#555555"/><polygon points="881.2,251.2 884.7,260.4 894.5,260.9 886.8,267 889.4,276.5 881.2,271.1 873,276.5 875.6,267 867.9,260.9 877.8,260.4" fill="#555555"/><polygon points="847.2,276.6 850.7,285.8 860.6,286.3 852.8,292.4 855.5,301.9 847.2,296.5 839,301.9 841.7,292.4 833.9,286.3 843.8,285.8" fill="#555555"/><polygon points="814.8,302 818.2,311.2 828.1,311.7 820.4,317.8 823,327.3 814.8,321.9 806.5,327.3 809.2,317.8 801.5,311.7 811.3,311.2" fill="#555555"/><polygon points="782.1,327.4 785.6,336.6 795.5,337.1 787.7,343.2 790.4,352.7 782.1,347.3 773.9,352.7 776.6,343.2 768.8,337.1 778.7,336.6" fill="#555555"/><polygon points="750,352.8 753.5,362 763.3,362.5 755.6,368.6 758.3,378.1 750,372.7 741.8,378.1 744.4,368.6 736.7,362.5 746.6,362" fill="#555555"/><polygon points="717.3,378.2 720.8,387.4 730.6,387.9 722.9,394 725.6,403.5 717.3,398.1 709.1,403.5 711.7,394 704,387.9 713.9,387.4" fill="#555555"/><polygon points="688.1,403.6 691.5,412.8 701.4,413.3 693.7,419.4 696.3,428.9 688.1,423.5 679.8,428.9 682.5,419.4 674.7,413.3 684.6,412.8" fill="#555555"/><polygon points="660.4,429 663.9,438.2 673.7,438.7 666,444.8 668.6,454.3 660.4,448.9 652.2,454.3 654.8,444.8 647.1,438.7 657,438.2" fill="#555555"/><polygon points="632.5,454.4 636,463.6 645.9,464.1 638.1,470.2 640.8,479.7 632.5,474.3 624.3,479.7 627,470.2 619.2,464.1 629.1,463.6" fill="#555555"/><polygon points="604.7,479.8 608.1,489 618,489.5 610.3,495.6 612.9,505.1 604.7,499.7 596.5,505.1 599.1,495.6 591.4,489.5 601.2,489" fill="#555555"/><polygon points="578.2,505.2 581.7,514.4 591.5,514.9 583.8,521 586.4,530.5 578.2,525.1 570,530.5 572.6,521 564.9,514.9 574.8,514.4" fill="#555555"/><polygon points="549.6,530.6 553.1,539.8 562.9,540.3 555.2,546.4 557.8,555.9 549.6,550.5 541.4,555.9 544,546.4 536.3,540.3 546.2,539.8" fill="#555555"/><polygon points="521.6,556 525.1,565.2 535,565.7 527.2,571.8 529.9,581.3 521.6,575.9 513.4,581.3 516.1,571.8 508.3,565.7 518.2,565.2" fill="#555555"/><polygon points="496,581.4 499.4,590.6 509.3,591.1 501.6,597.2 504.2,606.7 496,601.3 487.7,606.7 490.4,597.2 482.7,591.1 492.5,590.6" fill="#555555"/><polygon points="470.6,606.8 474.1,616 483.9,616.5 476.2,622.6 478.8,632.1 470.6,626.7 462.4,632.1 465,622.6 457.3,616.5 467.1,616" fill="#555555"/><polygon points="445.3,632.2 448.8,641.4 458.7,641.9 450.9,648 453.6,657.5 445.3,652.1 437.1,657.5 439.8,648 432,641.9 441.9,641.4" fill="#555555"/><polygon points="417.7,657.6 421.1,666.8 431,667.3 423.2,673.4 425.9,682.9 417.7,677.5 409.4,682.9 412.1,673.4 404.3,667.3 414.2,666.8" fill="#555555"/><polygon points="392,683 395.5,692.2 405.3,692.7 397.6,698.8 400.2,708.3 392,702.9 383.8,708.3 386.4,698.8 378.7,692.7 388.6,692.2" fill="#555555"/><polygon points="366.1,708.4 369.6,717.6 379.5,718.1 371.7,724.2 374.4,733.7 366.1,728.3 357.9,733.7 360.6,724.2 352.8,718.1 362.7,717.6" fill="#555555"/><polygon points="340.9,733.8 344.4,743 354.2,743.5 346.5,749.6 349.2,759.1 340.9,753.7 332.7,759.1 335.3,749.6 327.6,743.5 337.5,743" fill="#555555"/><polygon points="318.4,759.2 321.8,768.4 331.7,768.9 324,775 326.6,784.5 318.4,779.1 310.1,784.5 312.8,775 305,768.9 314.9,768.4" fill="#555555"/><polygon points="295.3,784.6 298.8,793.8 308.6,794.3 300.9,800.4 303.6,809.9 295.3,804.5 287.1,809.9 289.7,800.4 282,794.3 291.9,793.8" fill="#555555"/><polygon points="270.2,810 273.6,819.2 283.5,819.7 275.8,825.8 278.4,835.3 270.2,829.9 261.9,835.3 264.6,825.8 256.9,819.7 266.7,819.2" fill="#555555"/><polygon points="245.2,835.4 248.6,844.6 258.5,845.1 250.8,851.2 253.4,860.7 245.2,855.3 236.9,860.7 239.6,851.2 231.9,845.1 241.7,844.6" fill="#555555"/><polygon points="227.6,860.8 231.1,870 240.9,870.5 233.2,876.6 235.9,886.1 227.6,880.7 219.4,886.1 222,876.6 214.3,870.5 224.2,870" fill="#555555"/><polygon points="216,886.2 219.5,895.4 229.4,895.9 221.6,902 224.3,911.5 216,906.1 207.8,911.5 210.5,902 202.7,895.9 212.6,895.4" fill="#555555"/><polygon points="206,911.6 209.4,920.8 219.3,921.3 211.5,927.4 214.2,936.9 206,931.5 197.7,936.9 200.4,927.4 192.6,921.3 202.5,920.8" fill="#555555"/><polygon points="198,937 201.4,946.2 211.3,946.7 203.6,952.8 206.2,962.3 198,956.9 189.7,962.3 192.4,952.8 184.6,946.7 194.5,946.2" fill="#555555"/><polygon points="193.3,962.4 196.7,971.6 206.6,972.1 198.8,978.2 201.5,987.7 193.3,982.3 185,987.7 187.7,978.2 179.9,972.1 189.8,971.6" fill="#555555"/><polygon points="188.2,987.8 191.6,997 201.5,997.5 193.8,1003.6 196.4,1013.1 188.2,1007.7 179.9,1013.1 182.6,1003.6 174.9,997.5 184.7,997" fill="#555555"/><rect x="213" y="32" width="378.5" height="449" fill="#fdfdfd"/><path d="M219.5,72.8 L314.5,72.8" fill="none" stroke="#555555" stroke-width="7" stroke-linejoin="round" stroke-linecap="round"/><circle cx="267" cy="72.8" r="11.5" fill="#555555"/><text x="324.8" y="88.6" font-size="42.6" fill="#000">1st test</text><path d="M219.5,126.9 L314.5,126.9" fill="none" stroke="#ff0d0d" stroke-width="7" stroke-linejoin="round" stroke-linecap="round"/><rect x="256.5" y="116.4" width="21" height="21" fill="#ff0d0d"/><text x="324.8" y="142.8" font-size="42.6" fill="#000">1st FEM</text><path d="M219.5,181.1 L314.5,181.1" fill="none" stroke="#0070c8" stroke-width="7" stroke-linejoin="round" stroke-linecap="round"/><polygon points="267,164.7 253,189.9 281,189.9" fill="#0070c8"/><text x="324.8" y="196.9" font-size="42.6" fill="#000">1×10^4 test</text><path d="M219.5,235.2 L314.5,235.2" fill="none" stroke="#ffc000" stroke-width="7" stroke-linejoin="round" stroke-linecap="round"/><polygon points="267,252.4 253,227.2 281,227.2" fill="#ffc000"/><text x="324.8" y="251.1" font-size="42.6" fill="#000">1×10^4 FEM</text><path d="M219.5,289.4 L314.5,289.4" fill="none" stroke="#00ad65" stroke-width="7" stroke-linejoin="round" stroke-linecap="round"/><polygon points="267,273.9 281.5,289.4 267,304.9 252.5,289.4" fill="#00ad65"/><text x="324.8" y="305.2" font-size="42.6" fill="#000">5×10^4 test</text><path d="M219.5,343.6 L314.5,343.6" fill="none" stroke="#e0a000" stroke-width="7" stroke-linejoin="round" stroke-linecap="round"/><circle cx="267" cy="343.6" r="11.5" fill="#e0a000"/><circle cx="265.2" cy="341.2" r="4.6" fill="url(#hl)"/><text x="324.8" y="359.4" font-size="42.6" fill="#000">5×10^4 FEM</text><path d="M219.5,397.7 L314.5,397.7" fill="none" stroke="#00cccc" stroke-width="7" stroke-linejoin="round" stroke-linecap="round"/><polygon points="267,384.7 280.3,394.4 275.2,410 258.8,410 253.7,394.4" fill="#00cccc"/><text x="324.8" y="413.5" font-size="42.6" fill="#000">10×10^4 test</text><path d="M219.5,451.9 L314.5,451.9" fill="none" stroke="#555555" stroke-width="7" stroke-linejoin="round" stroke-linecap="round"/><polygon points="267,437.9 270.5,447.1 280.3,447.5 272.6,453.7 275.2,463.2 267,457.7 258.8,463.2 261.4,453.7 253.7,447.5 263.5,447.1" fill="#555555"/><text x="324.8" y="467.7" font-size="42.6" fill="#000">10×10^4 FEM</text><text x="163.2" y="1029.9" font-size="66" text-anchor="end" fill="#000">0</text><text x="163.2" y="811.9" font-size="66" text-anchor="end" fill="#000">10</text><text x="163.2" y="593.9" font-size="66" text-anchor="end" fill="#000">20</text><text x="163.2" y="375.9" font-size="66" text-anchor="end" fill="#000">30</text><text x="163.2" y="157.9" font-size="66" text-anchor="end" fill="#000">40</text><text x="182.5" y="1081" font-size="66" text-anchor="middle" fill="#000">0</text><text x="382.1" y="1081" font-size="66" text-anchor="middle" fill="#000">1</text><text x="581.7" y="1081" font-size="66" text-anchor="middle" fill="#000">2</text><text x="781.3" y="1081" font-size="66" text-anchor="middle" fill="#000">3</text><text x="980.9" y="1081" font-size="66" text-anchor="middle" fill="#000">4</text><text x="1180.5" y="1081" font-size="66" text-anchor="middle" fill="#000">5</text><text x="1380.1" y="1081" font-size="66" text-anchor="middle" fill="#000">6</text><text x="172" y="225.8" font-size="64" text-anchor="end" fill="#ff0090">39</text><text transform="translate(70.4,548.5) rotate(-90)" font-size="65" text-anchor="middle" fill="#000">Load (kN)</text><text x="825.7" y="1149.8" font-size="63.8" text-anchor="middle" fill="#000">Deflection (mm)</text><text x="704.1" y="1283.5" font-size="76" text-anchor="middle" fill="#000"><tspan font-weight="normal">(</tspan>a<tspan font-weight="normal">)</tspan></text><path d="M1252.4,303.8 L1300,207" fill="none" stroke="#000" stroke-width="7.4" stroke-linejoin="round" stroke-linecap="butt"/><polygon points="1322.6,165.2 1282.5,210.3 1309.2,225.3" fill="#000"/><text x="1174.5" y="341.7" font-size="62.5" font-style="italic" fill="#000">P</text><text transform="translate(1229,359.6) scale(0.915,1)" font-size="63" fill="#000">max</text><path d="M317.4,2352.3 V1364 M452.1,2352.3 V1364 M586.9,2352.3 V1364 M721.6,2352.3 V1364 M856.4,2352.3 V1364 M991.1,2352.3 V1364 M1125.8,2352.3 V1364 M1260.6,2352.3 V1364" stroke="#8c8c8c" stroke-width="2.4" stroke-dasharray="3.6 10.5" fill="none"/><path d="M182.05,2245.6 H1390 M182.05,2134.9 H1390 M182.05,2024.2 H1390 M182.05,1913.5 H1390 M182.05,1802.8 H1390 M182.05,1692.1 H1390 M182.05,1581.4 H1390 M182.05,1470.7 H1390" stroke="#8c8c8c" stroke-width="2.2" stroke-dasharray="3.6 10.356" fill="none"/><path d="M182.7,1492.8 H1359" stroke="#ff0090" stroke-width="7" stroke-dasharray="33.5 33.6" fill="none"/><rect x="612" y="2183" width="761" height="98" fill="#ffffff"/><g transform="translate(632,2200.5) skewY(-0.333)"><rect x="0" y="0" width="722" height="72" fill="#000028"/><rect x="0" y="0" width="722" height="72" fill="url(#meshB)"/><rect x="60.9" y="65.5" width="5.2" height="5.7" fill="#00c8d8"/><rect x="67.6" y="58.4" width="5.2" height="5.7" fill="#10e040"/><rect x="67.6" y="65.5" width="5.2" height="5.7" fill="#00c8d8"/><rect x="74.3" y="51.1" width="5.2" height="5.7" fill="#00c8d8"/><rect x="74.3" y="58.4" width="5.2" height="5.7" fill="#10e040"/><rect x="74.3" y="65.5" width="5.2" height="5.7" fill="#ff0000"/><rect x="81" y="44" width="5.2" height="5.7" fill="#10e040"/><rect x="81" y="51.1" width="5.2" height="5.7" fill="#10e040"/><rect x="81" y="58.4" width="5.2" height="5.7" fill="#ff0000"/><rect x="81" y="65.5" width="5.2" height="5.7" fill="#ff0000"/><rect x="87.7" y="36.8" width="5.2" height="5.7" fill="#00c8d8"/><rect x="87.7" y="44" width="5.2" height="5.7" fill="#00c8d8"/><rect x="87.7" y="51.1" width="5.2" height="5.7" fill="#ff6a00"/><rect x="87.7" y="58.4" width="5.2" height="5.7" fill="#ff0000"/><rect x="87.7" y="65.5" width="5.2" height="5.7" fill="#ff0000"/><rect x="94.3" y="22.4" width="5.2" height="5.7" fill="#10e040"/><rect x="94.3" y="29.6" width="5.2" height="5.7" fill="#d8d800"/><rect x="94.3" y="36.8" width="5.2" height="5.7" fill="#ff0000"/><rect x="94.3" y="51.1" width="5.2" height="5.7" fill="#ff0000"/><rect x="94.3" y="58.4" width="5.2" height="5.7" fill="#ff0000"/><rect x="94.3" y="65.5" width="5.2" height="5.7" fill="#ff0000"/><rect x="101" y="15.2" width="5.2" height="5.7" fill="#10e040"/><rect x="101" y="22.4" width="5.2" height="5.7" fill="#00c8d8"/><rect x="101" y="29.6" width="5.2" height="5.7" fill="#ff0000"/><rect x="101" y="36.8" width="5.2" height="5.7" fill="#ff0000"/><rect x="101" y="44" width="5.2" height="5.7" fill="#ff0000"/><rect x="101" y="51.1" width="5.2" height="5.7" fill="#ff0000"/><rect x="101" y="58.4" width="5.2" height="5.7" fill="#ff0000"/><rect x="101" y="65.5" width="5.2" height="5.7" fill="#ff0000"/><rect x="107.7" y="15.2" width="5.2" height="5.7" fill="#10e040"/><rect x="107.7" y="22.4" width="5.2" height="5.7" fill="#00c8d8"/><rect x="107.7" y="29.6" width="5.2" height="5.7" fill="#ff0000"/><rect x="107.7" y="36.8" width="5.2" height="5.7" fill="#ff0000"/><rect x="107.7" y="44" width="5.2" height="5.7" fill="#ff0000"/><rect x="107.7" y="51.1" width="5.2" height="5.7" fill="#ff6a00"/><rect x="107.7" y="58.4" width="5.2" height="5.7" fill="#ff0000"/><rect x="107.7" y="65.5" width="5.2" height="5.7" fill="#ff0000"/><rect x="114.4" y="15.2" width="5.2" height="5.7" fill="#d8d800"/><rect x="114.4" y="22.4" width="5.2" height="5.7" fill="#10e040"/><rect x="114.4" y="29.6" width="5.2" height="5.7" fill="#ff0000"/><rect x="114.4" y="36.8" width="5.2" height="5.7" fill="#ff6a00"/><rect x="114.4" y="51.1" width="5.2" height="5.7" fill="#ff0000"/><rect x="114.4" y="58.4" width="5.2" height="5.7" fill="#ff0000"/><rect x="114.4" y="65.5" width="5.2" height="5.7" fill="#ff6a00"/><rect x="121.1" y="15.2" width="5.2" height="5.7" fill="#10e040"/><rect x="121.1" y="22.4" width="5.2" height="5.7" fill="#f0a000"/><rect x="121.1" y="29.6" width="5.2" height="5.7" fill="#ff0000"/><rect x="121.1" y="36.8" width="5.2" height="5.7" fill="#ff0000"/><rect x="121.1" y="44" width="5.2" height="5.7" fill="#ff6a00"/><rect x="121.1" y="51.1" width="5.2" height="5.7" fill="#ff0000"/><rect x="121.1" y="58.4" width="5.2" height="5.7" fill="#ff0000"/><rect x="121.1" y="65.5" width="5.2" height="5.7" fill="#ff0000"/><rect x="127.8" y="15.2" width="5.2" height="5.7" fill="#00c8d8"/><rect x="127.8" y="22.4" width="5.2" height="5.7" fill="#10e040"/><rect x="127.8" y="29.6" width="5.2" height="5.7" fill="#ff6a00"/><rect x="127.8" y="44" width="5.2" height="5.7" fill="#ff0000"/><rect x="127.8" y="51.1" width="5.2" height="5.7" fill="#ff0000"/><rect x="127.8" y="58.4" width="5.2" height="5.7" fill="#ff0000"/><rect x="127.8" y="65.5" width="5.2" height="5.7" fill="#ff0000"/><rect x="134.5" y="15.2" width="5.2" height="5.7" fill="#10e040"/><rect x="134.5" y="22.4" width="5.2" height="5.7" fill="#10e040"/><rect x="134.5" y="29.6" width="5.2" height="5.7" fill="#ff0000"/><rect x="134.5" y="58.4" width="5.2" height="5.7" fill="#ff0000"/><rect x="134.5" y="65.5" width="5.2" height="5.7" fill="#ff0000"/><rect x="141.1" y="29.6" width="5.2" height="5.7" fill="#ff6a00"/><rect x="141.1" y="36.8" width="5.2" height="5.7" fill="#ff0000"/><rect x="141.1" y="44" width="5.2" height="5.7" fill="#ff0000"/><rect x="141.1" y="51.1" width="5.2" height="5.7" fill="#ff6a00"/><rect x="141.1" y="58.4" width="5.2" height="5.7" fill="#ff0000"/><rect x="141.1" y="65.5" width="5.2" height="5.7" fill="#ff0000"/><rect x="147.8" y="29.6" width="5.2" height="5.7" fill="#ff0000"/><rect x="147.8" y="36.8" width="5.2" height="5.7" fill="#ff6a00"/><rect x="147.8" y="44" width="5.2" height="5.7" fill="#f0a000"/><rect x="147.8" y="51.1" width="5.2" height="5.7" fill="#ff0000"/><rect x="147.8" y="58.4" width="5.2" height="5.7" fill="#ff0000"/><rect x="147.8" y="65.5" width="5.2" height="5.7" fill="#ff0000"/><rect x="154.5" y="29.6" width="5.2" height="5.7" fill="#ff0000"/><rect x="154.5" y="36.8" width="5.2" height="5.7" fill="#ff6a00"/><rect x="154.5" y="44" width="5.2" height="5.7" fill="#f0a000"/><rect x="154.5" y="51.1" width="5.2" height="5.7" fill="#f0a000"/><rect x="154.5" y="58.4" width="5.2" height="5.7" fill="#ff0000"/><rect x="154.5" y="65.5" width="5.2" height="5.7" fill="#f0a000"/><rect x="161.2" y="22.4" width="5.2" height="5.7" fill="#1a8cf0"/><rect x="161.2" y="29.6" width="5.2" height="5.7" fill="#ff6a00"/><rect x="161.2" y="36.8" width="5.2" height="5.7" fill="#d8d800"/><rect x="161.2" y="44" width="5.2" height="5.7" fill="#d8d800"/><rect x="161.2" y="51.1" width="5.2" height="5.7" fill="#ff0000"/><rect x="161.2" y="58.4" width="5.2" height="5.7" fill="#d8d800"/><rect x="161.2" y="65.5" width="5.2" height="5.7" fill="#d8d800"/><rect x="167.9" y="29.6" width="5.2" height="5.7" fill="#ff0000"/><rect x="167.9" y="36.8" width="5.2" height="5.7" fill="#ff6a00"/><rect x="167.9" y="51.1" width="5.2" height="5.7" fill="#ff6a00"/><rect x="167.9" y="58.4" width="5.2" height="5.7" fill="#ff0000"/><rect x="167.9" y="65.5" width="5.2" height="5.7" fill="#f0a000"/><rect x="174.6" y="15.2" width="5.2" height="5.7" fill="#10e040"/><rect x="174.6" y="22.4" width="5.2" height="5.7" fill="#00c8d8"/><rect x="174.6" y="44" width="5.2" height="5.7" fill="#ff0000"/><rect x="174.6" y="51.1" width="5.2" height="5.7" fill="#ff0000"/><rect x="174.6" y="58.4" width="5.2" height="5.7" fill="#ff6a00"/><rect x="174.6" y="65.5" width="5.2" height="5.7" fill="#f0a000"/><rect x="181.2" y="15.2" width="5.2" height="5.7" fill="#00c8d8"/><rect x="181.2" y="22.4" width="5.2" height="5.7" fill="#d8d800"/><rect x="181.2" y="29.6" width="5.2" height="5.7" fill="#ff0000"/><rect x="181.2" y="44" width="5.2" height="5.7" fill="#ff0000"/><rect x="181.2" y="51.1" width="5.2" height="5.7" fill="#ff6a00"/><rect x="181.2" y="58.4" width="5.2" height="5.7" fill="#d8d800"/><rect x="181.2" y="65.5" width="5.2" height="5.7" fill="#ff0000"/><rect x="187.9" y="15.2" width="5.2" height="5.7" fill="#00c8d8"/><rect x="187.9" y="22.4" width="5.2" height="5.7" fill="#10e040"/><rect x="187.9" y="29.6" width="5.2" height="5.7" fill="#f0a000"/><rect x="187.9" y="44" width="5.2" height="5.7" fill="#f0a000"/><rect x="187.9" y="51.1" width="5.2" height="5.7" fill="#ff0000"/><rect x="187.9" y="65.5" width="5.2" height="5.7" fill="#ff0000"/><rect x="194.6" y="15.2" width="5.2" height="5.7" fill="#10e040"/><rect x="194.6" y="22.4" width="5.2" height="5.7" fill="#ff0000"/><rect x="194.6" y="29.6" width="5.2" height="5.7" fill="#ff0000"/><rect x="194.6" y="36.8" width="5.2" height="5.7" fill="#ff6a00"/><rect x="194.6" y="51.1" width="5.2" height="5.7" fill="#ff0000"/><rect x="194.6" y="65.5" width="5.2" height="5.7" fill="#ff6a00"/><rect x="201.3" y="15.2" width="5.2" height="5.7" fill="#00c8d8"/><rect x="201.3" y="22.4" width="5.2" height="5.7" fill="#ff6a00"/><rect x="201.3" y="29.6" width="5.2" height="5.7" fill="#ff6a00"/><rect x="201.3" y="36.8" width="5.2" height="5.7" fill="#ff6a00"/><rect x="201.3" y="44" width="5.2" height="5.7" fill="#f0a000"/><rect x="201.3" y="58.4" width="5.2" height="5.7" fill="#f0a000"/><rect x="201.3" y="65.5" width="5.2" height="5.7" fill="#f0a000"/><rect x="208" y="15.2" width="5.2" height="5.7" fill="#10e040"/><rect x="208" y="22.4" width="5.2" height="5.7" fill="#10e040"/><rect x="208" y="29.6" width="5.2" height="5.7" fill="#f0a000"/><rect x="208" y="36.8" width="5.2" height="5.7" fill="#f0a000"/><rect x="208" y="44" width="5.2" height="5.7" fill="#d8d800"/><rect x="208" y="51.1" width="5.2" height="5.7" fill="#ff0000"/><rect x="208" y="65.5" width="5.2" height="5.7" fill="#ff0000"/><rect x="214.7" y="29.6" width="5.2" height="5.7" fill="#ff0000"/><rect x="214.7" y="36.8" width="5.2" height="5.7" fill="#ff0000"/><rect x="214.7" y="44" width="5.2" height="5.7" fill="#ff0000"/><rect x="214.7" y="51.1" width="5.2" height="5.7" fill="#f0a000"/><rect x="214.7" y="58.4" width="5.2" height="5.7" fill="#ff6a00"/><rect x="214.7" y="65.5" width="5.2" height="5.7" fill="#f0a000"/><rect x="221.4" y="15.2" width="5.2" height="5.7" fill="#d8d800"/><rect x="221.4" y="22.4" width="5.2" height="5.7" fill="#10e040"/><rect x="221.4" y="29.6" width="5.2" height="5.7" fill="#d8d800"/><rect x="221.4" y="36.8" width="5.2" height="5.7" fill="#ff6a00"/><rect x="221.4" y="44" width="5.2" height="5.7" fill="#d8d800"/><rect x="221.4" y="58.4" width="5.2" height="5.7" fill="#ff0000"/><rect x="221.4" y="65.5" width="5.2" height="5.7" fill="#ff6a00"/><rect x="228" y="15.2" width="5.2" height="5.7" fill="#1a8cf0"/><rect x="228" y="22.4" width="5.2" height="5.7" fill="#ff6a00"/><rect x="228" y="29.6" width="5.2" height="5.7" fill="#ff0000"/><rect x="228" y="36.8" width="5.2" height="5.7" fill="#ff0000"/><rect x="228" y="44" width="5.2" height="5.7" fill="#ff0000"/><rect x="228" y="51.1" width="5.2" height="5.7" fill="#ff0000"/><rect x="228" y="58.4" width="5.2" height="5.7" fill="#ff0000"/><rect x="228" y="65.5" width="5.2" height="5.7" fill="#ff0000"/><rect x="234.7" y="15.2" width="5.2" height="5.7" fill="#10e040"/><rect x="234.7" y="22.4" width="5.2" height="5.7" fill="#ff6a00"/><rect x="234.7" y="29.6" width="5.2" height="5.7" fill="#ff0000"/><rect x="234.7" y="36.8" width="5.2" height="5.7" fill="#ff0000"/><rect x="234.7" y="44" width="5.2" height="5.7" fill="#ff0000"/><rect x="234.7" y="51.1" width="5.2" height="5.7" fill="#ff6a00"/><rect x="234.7" y="65.5" width="5.2" height="5.7" fill="#ff0000"/><rect x="241.4" y="15.2" width="5.2" height="5.7" fill="#10e040"/><rect x="241.4" y="22.4" width="5.2" height="5.7" fill="#10e040"/><rect x="241.4" y="29.6" width="5.2" height="5.7" fill="#ff0000"/><rect x="241.4" y="36.8" width="5.2" height="5.7" fill="#ff0000"/><rect x="241.4" y="44" width="5.2" height="5.7" fill="#ff6a00"/><rect x="241.4" y="51.1" width="5.2" height="5.7" fill="#ff0000"/><rect x="241.4" y="58.4" width="5.2" height="5.7" fill="#ff0000"/><rect x="241.4" y="65.5" width="5.2" height="5.7" fill="#ff0000"/><rect x="248.1" y="15.2" width="5.2" height="5.7" fill="#00c8d8"/><rect x="248.1" y="22.4" width="5.2" height="5.7" fill="#d8d800"/><rect x="248.1" y="29.6" width="5.2" height="5.7" fill="#ff0000"/><rect x="248.1" y="36.8" width="5.2" height="5.7" fill="#ff0000"/><rect x="248.1" y="44" width="5.2" height="5.7" fill="#ff0000"/><rect x="248.1" y="51.1" width="5.2" height="5.7" fill="#ff0000"/><rect x="248.1" y="58.4" width="5.2" height="5.7" fill="#ff0000"/><rect x="248.1" y="65.5" width="5.2" height="5.7" fill="#ff0000"/><rect x="254.8" y="15.2" width="5.2" height="5.7" fill="#00c8d8"/><rect x="254.8" y="22.4" width="5.2" height="5.7" fill="#00c8d8"/><rect x="254.8" y="29.6" width="5.2" height="5.7" fill="#ff0000"/><rect x="254.8" y="36.8" width="5.2" height="5.7" fill="#ff6a00"/><rect x="254.8" y="44" width="5.2" height="5.7" fill="#ff0000"/><rect x="254.8" y="51.1" width="5.2" height="5.7" fill="#ff0000"/><rect x="254.8" y="58.4" width="5.2" height="5.7" fill="#ff0000"/><rect x="254.8" y="65.5" width="5.2" height="5.7" fill="#ff0000"/><rect x="261.5" y="22.4" width="5.2" height="5.7" fill="#ff6a00"/><rect x="261.5" y="29.6" width="5.2" height="5.7" fill="#ff0000"/><rect x="261.5" y="36.8" width="5.2" height="5.7" fill="#ff0000"/><rect x="261.5" y="44" width="5.2" height="5.7" fill="#ff0000"/><rect x="261.5" y="51.1" width="5.2" height="5.7" fill="#ff0000"/><rect x="261.5" y="58.4" width="5.2" height="5.7" fill="#ff0000"/><rect x="261.5" y="65.5" width="5.2" height="5.7" fill="#ff0000"/><rect x="268.2" y="29.6" width="5.2" height="5.7" fill="#ff0000"/><rect x="268.2" y="36.8" width="5.2" height="5.7" fill="#ff0000"/><rect x="268.2" y="44" width="5.2" height="5.7" fill="#ff0000"/><rect x="268.2" y="51.1" width="5.2" height="5.7" fill="#ff0000"/><rect x="268.2" y="58.4" width="5.2" height="5.7" fill="#ff0000"/><rect x="268.2" y="65.5" width="5.2" height="5.7" fill="#ff0000"/><rect x="274.8" y="15.2" width="5.2" height="5.7" fill="#00c8d8"/><rect x="274.8" y="22.4" width="5.2" height="5.7" fill="#f0a000"/><rect x="274.8" y="36.8" width="5.2" height="5.7" fill="#ff0000"/><rect x="274.8" y="44" width="5.2" height="5.7" fill="#ff0000"/><rect x="274.8" y="51.1" width="5.2" height="5.7" fill="#ff0000"/><rect x="281.5" y="15.2" width="5.2" height="5.7" fill="#1a8cf0"/><rect x="281.5" y="22.4" width="5.2" height="5.7" fill="#10e040"/><rect x="281.5" y="29.6" width="5.2" height="5.7" fill="#ff0000"/><rect x="281.5" y="36.8" width="5.2" height="5.7" fill="#ff0000"/><rect x="281.5" y="44" width="5.2" height="5.7" fill="#ff0000"/><rect x="281.5" y="51.1" width="5.2" height="5.7" fill="#ff0000"/><rect x="281.5" y="58.4" width="5.2" height="5.7" fill="#ff6a00"/><rect x="288.2" y="15.2" width="5.2" height="5.7" fill="#d8d800"/><rect x="288.2" y="22.4" width="5.2" height="5.7" fill="#d8d800"/><rect x="288.2" y="36.8" width="5.2" height="5.7" fill="#ff0000"/><rect x="288.2" y="44" width="5.2" height="5.7" fill="#ff0000"/><rect x="288.2" y="51.1" width="5.2" height="5.7" fill="#ff0000"/><rect x="288.2" y="58.4" width="5.2" height="5.7" fill="#ff0000"/><rect x="288.2" y="65.5" width="5.2" height="5.7" fill="#ff0000"/><rect x="294.9" y="15.2" width="5.2" height="5.7" fill="#1a8cf0"/><rect x="294.9" y="22.4" width="5.2" height="5.7" fill="#f0a000"/><rect x="294.9" y="29.6" width="5.2" height="5.7" fill="#ff0000"/><rect x="294.9" y="36.8" width="5.2" height="5.7" fill="#ff0000"/><rect x="294.9" y="44" width="5.2" height="5.7" fill="#ff6a00"/><rect x="294.9" y="51.1" width="5.2" height="5.7" fill="#ff0000"/><rect x="294.9" y="58.4" width="5.2" height="5.7" fill="#ff0000"/><rect x="294.9" y="65.5" width="5.2" height="5.7" fill="#ff0000"/><rect x="301.6" y="15.2" width="5.2" height="5.7" fill="#10e040"/><rect x="301.6" y="22.4" width="5.2" height="5.7" fill="#10e040"/><rect x="301.6" y="29.6" width="5.2" height="5.7" fill="#ff0000"/><rect x="301.6" y="36.8" width="5.2" height="5.7" fill="#ff0000"/><rect x="301.6" y="44" width="5.2" height="5.7" fill="#ff0000"/><rect x="301.6" y="51.1" width="5.2" height="5.7" fill="#ff6a00"/><rect x="301.6" y="58.4" width="5.2" height="5.7" fill="#ff0000"/><rect x="301.6" y="65.5" width="5.2" height="5.7" fill="#ff0000"/><rect x="308.3" y="15.2" width="5.2" height="5.7" fill="#10e040"/><rect x="308.3" y="22.4" width="5.2" height="5.7" fill="#ff6a00"/><rect x="308.3" y="29.6" width="5.2" height="5.7" fill="#ff0000"/><rect x="308.3" y="36.8" width="5.2" height="5.7" fill="#ff0000"/><rect x="308.3" y="44" width="5.2" height="5.7" fill="#ff0000"/><rect x="308.3" y="51.1" width="5.2" height="5.7" fill="#ff0000"/><rect x="308.3" y="58.4" width="5.2" height="5.7" fill="#ff0000"/><rect x="308.3" y="65.5" width="5.2" height="5.7" fill="#ff0000"/><rect x="315" y="29.6" width="5.2" height="5.7" fill="#10e040"/><rect x="321.6" y="22.4" width="5.2" height="5.7" fill="#ff0000"/><rect x="321.6" y="29.6" width="5.2" height="5.7" fill="#ff0000"/><rect x="321.6" y="36.8" width="5.2" height="5.7" fill="#ff0000"/><rect x="321.6" y="44" width="5.2" height="5.7" fill="#ff0000"/><rect x="321.6" y="51.1" width="5.2" height="5.7" fill="#ff0000"/><rect x="321.6" y="58.4" width="5.2" height="5.7" fill="#ff0000"/><rect x="321.6" y="65.5" width="5.2" height="5.7" fill="#ff0000"/><rect x="328.3" y="29.6" width="5.2" height="5.7" fill="#ff0000"/><rect x="335" y="15.2" width="5.2" height="5.7" fill="#1a8cf0"/><rect x="335" y="22.4" width="5.2" height="5.7" fill="#1a8cf0"/><rect x="335" y="29.6" width="5.2" height="5.7" fill="#ff0000"/><rect x="335" y="36.8" width="5.2" height="5.7" fill="#ff0000"/><rect x="335" y="44" width="5.2" height="5.7" fill="#ff0000"/><rect x="335" y="51.1" width="5.2" height="5.7" fill="#ff0000"/><rect x="335" y="58.4" width="5.2" height="5.7" fill="#ff0000"/><rect x="335" y="65.5" width="5.2" height="5.7" fill="#ff0000"/><rect x="341.7" y="15.2" width="5.2" height="5.7" fill="#1a8cf0"/><rect x="341.7" y="22.4" width="5.2" height="5.7" fill="#1a8cf0"/><rect x="341.7" y="29.6" width="5.2" height="5.7" fill="#ff6a00"/><rect x="341.7" y="44" width="5.2" height="5.7" fill="#ff0000"/><rect x="341.7" y="51.1" width="5.2" height="5.7" fill="#ff0000"/><rect x="341.7" y="65.5" width="5.2" height="5.7" fill="#ff0000"/><rect x="348.4" y="15.2" width="5.2" height="5.7" fill="#1a8cf0"/><rect x="348.4" y="22.4" width="5.2" height="5.7" fill="#1a8cf0"/><rect x="348.4" y="29.6" width="5.2" height="5.7" fill="#ff0000"/><rect x="348.4" y="36.8" width="5.2" height="5.7" fill="#ff0000"/><rect x="348.4" y="44" width="5.2" height="5.7" fill="#ff0000"/><rect x="348.4" y="51.1" width="5.2" height="5.7" fill="#ff0000"/><rect x="348.4" y="58.4" width="5.2" height="5.7" fill="#ff6a00"/><rect x="348.4" y="65.5" width="5.2" height="5.7" fill="#ff0000"/><rect x="355.1" y="15.2" width="5.2" height="5.7" fill="#1a8cf0"/><rect x="355.1" y="22.4" width="5.2" height="5.7" fill="#1a8cf0"/><rect x="355.1" y="29.6" width="5.2" height="5.7" fill="#ff0000"/><rect x="361.8" y="15.2" width="5.2" height="5.7" fill="#1a8cf0"/><rect x="361.8" y="22.4" width="5.2" height="5.7" fill="#1a8cf0"/><rect x="361.8" y="29.6" width="5.2" height="5.7" fill="#ff0000"/><rect x="361.8" y="36.8" width="5.2" height="5.7" fill="#ff0000"/><rect x="361.8" y="44" width="5.2" height="5.7" fill="#ff0000"/><rect x="361.8" y="51.1" width="5.2" height="5.7" fill="#ff0000"/><rect x="361.8" y="58.4" width="5.2" height="5.7" fill="#ff0000"/><rect x="361.8" y="65.5" width="5.2" height="5.7" fill="#ff0000"/><rect x="368.4" y="15.2" width="5.2" height="5.7" fill="#1a8cf0"/><rect x="368.4" y="22.4" width="5.2" height="5.7" fill="#1a8cf0"/><rect x="368.4" y="29.6" width="5.2" height="5.7" fill="#ff0000"/><rect x="368.4" y="65.5" width="5.2" height="5.7" fill="#ff0000"/><rect x="375.1" y="15.2" width="5.2" height="5.7" fill="#1a8cf0"/><rect x="375.1" y="22.4" width="5.2" height="5.7" fill="#1a8cf0"/><rect x="375.1" y="29.6" width="5.2" height="5.7" fill="#ff0000"/><rect x="375.1" y="36.8" width="5.2" height="5.7" fill="#ff0000"/><rect x="375.1" y="44" width="5.2" height="5.7" fill="#ff0000"/><rect x="375.1" y="51.1" width="5.2" height="5.7" fill="#ff0000"/><rect x="375.1" y="58.4" width="5.2" height="5.7" fill="#ff0000"/><rect x="375.1" y="65.5" width="5.2" height="5.7" fill="#ff0000"/><rect x="381.8" y="15.2" width="5.2" height="5.7" fill="#1a8cf0"/><rect x="381.8" y="22.4" width="5.2" height="5.7" fill="#1a8cf0"/><rect x="381.8" y="29.6" width="5.2" height="5.7" fill="#ff6a00"/><rect x="388.5" y="22.4" width="5.2" height="5.7" fill="#ff6a00"/><rect x="388.5" y="29.6" width="5.2" height="5.7" fill="#ff0000"/><rect x="388.5" y="36.8" width="5.2" height="5.7" fill="#ff0000"/><rect x="388.5" y="44" width="5.2" height="5.7" fill="#ff0000"/><rect x="388.5" y="51.1" width="5.2" height="5.7" fill="#ff0000"/><rect x="388.5" y="58.4" width="5.2" height="5.7" fill="#ff0000"/><rect x="388.5" y="65.5" width="5.2" height="5.7" fill="#ff0000"/><rect x="395.2" y="29.6" width="5.2" height="5.7" fill="#ff6a00"/><rect x="401.9" y="29.6" width="5.2" height="5.7" fill="#ff0000"/><rect x="401.9" y="36.8" width="5.2" height="5.7" fill="#ff0000"/><rect x="401.9" y="44" width="5.2" height="5.7" fill="#ff0000"/><rect x="401.9" y="51.1" width="5.2" height="5.7" fill="#ff0000"/><rect x="401.9" y="58.4" width="5.2" height="5.7" fill="#ff0000"/><rect x="401.9" y="65.5" width="5.2" height="5.7" fill="#ff0000"/><rect x="408.5" y="15.2" width="5.2" height="5.7" fill="#00c8d8"/><rect x="408.5" y="22.4" width="5.2" height="5.7" fill="#10e040"/><rect x="408.5" y="29.6" width="5.2" height="5.7" fill="#10e040"/><rect x="415.2" y="15.2" width="5.2" height="5.7" fill="#10e040"/><rect x="415.2" y="22.4" width="5.2" height="5.7" fill="#ff0000"/><rect x="415.2" y="29.6" width="5.2" height="5.7" fill="#ff0000"/><rect x="415.2" y="36.8" width="5.2" height="5.7" fill="#ff0000"/><rect x="415.2" y="44" width="5.2" height="5.7" fill="#ff0000"/><rect x="415.2" y="51.1" width="5.2" height="5.7" fill="#ff0000"/><rect x="415.2" y="58.4" width="5.2" height="5.7" fill="#ff0000"/><rect x="415.2" y="65.5" width="5.2" height="5.7" fill="#ff6a00"/><rect x="421.9" y="15.2" width="5.2" height="5.7" fill="#00c8d8"/><rect x="421.9" y="22.4" width="5.2" height="5.7" fill="#00c8d8"/><rect x="421.9" y="29.6" width="5.2" height="5.7" fill="#ff0000"/><rect x="421.9" y="58.4" width="5.2" height="5.7" fill="#ff0000"/><rect x="421.9" y="65.5" width="5.2" height="5.7" fill="#ff0000"/><rect x="428.6" y="15.2" width="5.2" height="5.7" fill="#1a8cf0"/><rect x="428.6" y="22.4" width="5.2" height="5.7" fill="#10e040"/><rect x="428.6" y="29.6" width="5.2" height="5.7" fill="#ff0000"/><rect x="428.6" y="36.8" width="5.2" height="5.7" fill="#ff0000"/><rect x="428.6" y="44" width="5.2" height="5.7" fill="#ff0000"/><rect x="428.6" y="51.1" width="5.2" height="5.7" fill="#ff0000"/><rect x="428.6" y="58.4" width="5.2" height="5.7" fill="#ff0000"/><rect x="428.6" y="65.5" width="5.2" height="5.7" fill="#ff0000"/><rect x="435.3" y="15.2" width="5.2" height="5.7" fill="#10e040"/><rect x="435.3" y="22.4" width="5.2" height="5.7" fill="#00c8d8"/><rect x="435.3" y="29.6" width="5.2" height="5.7" fill="#ff6a00"/><rect x="442" y="15.2" width="5.2" height="5.7" fill="#1a8cf0"/><rect x="442" y="22.4" width="5.2" height="5.7" fill="#d8d800"/><rect x="442" y="29.6" width="5.2" height="5.7" fill="#ff0000"/><rect x="442" y="36.8" width="5.2" height="5.7" fill="#ff0000"/><rect x="442" y="44" width="5.2" height="5.7" fill="#ff0000"/><rect x="442" y="51.1" width="5.2" height="5.7" fill="#ff0000"/><rect x="442" y="58.4" width="5.2" height="5.7" fill="#ff0000"/><rect x="442" y="65.5" width="5.2" height="5.7" fill="#ff0000"/><rect x="448.7" y="29.6" width="5.2" height="5.7" fill="#ff6a00"/><rect x="448.7" y="58.4" width="5.2" height="5.7" fill="#ff0000"/><rect x="448.7" y="65.5" width="5.2" height="5.7" fill="#ff0000"/><rect x="455.3" y="29.6" width="5.2" height="5.7" fill="#ff0000"/><rect x="455.3" y="36.8" width="5.2" height="5.7" fill="#ff6a00"/><rect x="455.3" y="44" width="5.2" height="5.7" fill="#ff0000"/><rect x="455.3" y="51.1" width="5.2" height="5.7" fill="#ff0000"/><rect x="455.3" y="58.4" width="5.2" height="5.7" fill="#ff0000"/><rect x="455.3" y="65.5" width="5.2" height="5.7" fill="#ff0000"/><rect x="462" y="15.2" width="5.2" height="5.7" fill="#00c8d8"/><rect x="462" y="22.4" width="5.2" height="5.7" fill="#10e040"/><rect x="462" y="29.6" width="5.2" height="5.7" fill="#ff0000"/><rect x="462" y="36.8" width="5.2" height="5.7" fill="#ff0000"/><rect x="462" y="44" width="5.2" height="5.7" fill="#ff0000"/><rect x="462" y="51.1" width="5.2" height="5.7" fill="#ff0000"/><rect x="468.7" y="15.2" width="5.2" height="5.7" fill="#10e040"/><rect x="468.7" y="22.4" width="5.2" height="5.7" fill="#ff6a00"/><rect x="468.7" y="29.6" width="5.2" height="5.7" fill="#ff0000"/><rect x="468.7" y="36.8" width="5.2" height="5.7" fill="#ff0000"/><rect x="468.7" y="44" width="5.2" height="5.7" fill="#ff0000"/><rect x="468.7" y="51.1" width="5.2" height="5.7" fill="#ff0000"/><rect x="468.7" y="65.5" width="5.2" height="5.7" fill="#ff0000"/><rect x="475.4" y="15.2" width="5.2" height="5.7" fill="#1a8cf0"/><rect x="475.4" y="22.4" width="5.2" height="5.7" fill="#d8d800"/><rect x="475.4" y="29.6" width="5.2" height="5.7" fill="#ff0000"/><rect x="475.4" y="36.8" width="5.2" height="5.7" fill="#ff0000"/><rect x="475.4" y="51.1" width="5.2" height="5.7" fill="#ff0000"/><rect x="475.4" y="58.4" width="5.2" height="5.7" fill="#ff6a00"/><rect x="475.4" y="65.5" width="5.2" height="5.7" fill="#ff0000"/><rect x="482.1" y="15.2" width="5.2" height="5.7" fill="#d8d800"/><rect x="482.1" y="22.4" width="5.2" height="5.7" fill="#f0a000"/><rect x="482.1" y="29.6" width="5.2" height="5.7" fill="#ff0000"/><rect x="482.1" y="36.8" width="5.2" height="5.7" fill="#ff0000"/><rect x="482.1" y="44" width="5.2" height="5.7" fill="#ff0000"/><rect x="482.1" y="51.1" width="5.2" height="5.7" fill="#ff0000"/><rect x="482.1" y="58.4" width="5.2" height="5.7" fill="#ff0000"/><rect x="482.1" y="65.5" width="5.2" height="5.7" fill="#ff0000"/><rect x="488.8" y="15.2" width="5.2" height="5.7" fill="#d8d800"/><rect x="488.8" y="22.4" width="5.2" height="5.7" fill="#d8d800"/><rect x="488.8" y="29.6" width="5.2" height="5.7" fill="#ff0000"/><rect x="488.8" y="36.8" width="5.2" height="5.7" fill="#ff0000"/><rect x="488.8" y="44" width="5.2" height="5.7" fill="#ff0000"/><rect x="488.8" y="51.1" width="5.2" height="5.7" fill="#ff0000"/><rect x="488.8" y="58.4" width="5.2" height="5.7" fill="#ff0000"/><rect x="488.8" y="65.5" width="5.2" height="5.7" fill="#ff0000"/><rect x="495.5" y="29.6" width="5.2" height="5.7" fill="#ff0000"/><rect x="495.5" y="36.8" width="5.2" height="5.7" fill="#f0a000"/><rect x="495.5" y="51.1" width="5.2" height="5.7" fill="#ff6a00"/><rect x="495.5" y="58.4" width="5.2" height="5.7" fill="#f0a000"/><rect x="495.5" y="65.5" width="5.2" height="5.7" fill="#f0a000"/><rect x="502.1" y="15.2" width="5.2" height="5.7" fill="#00c8d8"/><rect x="502.1" y="22.4" width="5.2" height="5.7" fill="#10e040"/><rect x="502.1" y="29.6" width="5.2" height="5.7" fill="#d8d800"/><rect x="502.1" y="36.8" width="5.2" height="5.7" fill="#d8d800"/><rect x="502.1" y="44" width="5.2" height="5.7" fill="#f0a000"/><rect x="502.1" y="58.4" width="5.2" height="5.7" fill="#ff6a00"/><rect x="502.1" y="65.5" width="5.2" height="5.7" fill="#f0a000"/><rect x="508.8" y="15.2" width="5.2" height="5.7" fill="#10e040"/><rect x="508.8" y="22.4" width="5.2" height="5.7" fill="#f0a000"/><rect x="508.8" y="29.6" width="5.2" height="5.7" fill="#f0a000"/><rect x="508.8" y="36.8" width="5.2" height="5.7" fill="#f0a000"/><rect x="508.8" y="44" width="5.2" height="5.7" fill="#f0a000"/><rect x="508.8" y="51.1" width="5.2" height="5.7" fill="#f0a000"/><rect x="508.8" y="58.4" width="5.2" height="5.7" fill="#f0a000"/><rect x="515.5" y="15.2" width="5.2" height="5.7" fill="#1a8cf0"/><rect x="515.5" y="22.4" width="5.2" height="5.7" fill="#f0a000"/><rect x="515.5" y="29.6" width="5.2" height="5.7" fill="#ff6a00"/><rect x="515.5" y="36.8" width="5.2" height="5.7" fill="#f0a000"/><rect x="515.5" y="44" width="5.2" height="5.7" fill="#ff0000"/><rect x="515.5" y="51.1" width="5.2" height="5.7" fill="#ff6a00"/><rect x="515.5" y="58.4" width="5.2" height="5.7" fill="#ff0000"/><rect x="522.2" y="15.2" width="5.2" height="5.7" fill="#10e040"/><rect x="522.2" y="22.4" width="5.2" height="5.7" fill="#ff6a00"/><rect x="522.2" y="29.6" width="5.2" height="5.7" fill="#f0a000"/><rect x="522.2" y="36.8" width="5.2" height="5.7" fill="#f0a000"/><rect x="522.2" y="44" width="5.2" height="5.7" fill="#ff0000"/><rect x="522.2" y="51.1" width="5.2" height="5.7" fill="#ff6a00"/><rect x="522.2" y="58.4" width="5.2" height="5.7" fill="#f0a000"/><rect x="522.2" y="65.5" width="5.2" height="5.7" fill="#ff6a00"/><rect x="528.9" y="15.2" width="5.2" height="5.7" fill="#d8d800"/><rect x="528.9" y="22.4" width="5.2" height="5.7" fill="#10e040"/><rect x="528.9" y="29.6" width="5.2" height="5.7" fill="#ff6a00"/><rect x="528.9" y="36.8" width="5.2" height="5.7" fill="#d8d800"/><rect x="528.9" y="44" width="5.2" height="5.7" fill="#ff0000"/><rect x="528.9" y="51.1" width="5.2" height="5.7" fill="#d8d800"/><rect x="528.9" y="58.4" width="5.2" height="5.7" fill="#d8d800"/><rect x="528.9" y="65.5" width="5.2" height="5.7" fill="#f0a000"/><rect x="535.6" y="15.2" width="5.2" height="5.7" fill="#d8d800"/><rect x="535.6" y="22.4" width="5.2" height="5.7" fill="#ff6a00"/><rect x="535.6" y="29.6" width="5.2" height="5.7" fill="#f0a000"/><rect x="535.6" y="36.8" width="5.2" height="5.7" fill="#d8d800"/><rect x="535.6" y="44" width="5.2" height="5.7" fill="#ff0000"/><rect x="535.6" y="51.1" width="5.2" height="5.7" fill="#ff0000"/><rect x="535.6" y="58.4" width="5.2" height="5.7" fill="#f0a000"/><rect x="542.2" y="15.2" width="5.2" height="5.7" fill="#d8d800"/><rect x="542.2" y="22.4" width="5.2" height="5.7" fill="#d8d800"/><rect x="542.2" y="29.6" width="5.2" height="5.7" fill="#ff0000"/><rect x="542.2" y="36.8" width="5.2" height="5.7" fill="#ff0000"/><rect x="542.2" y="44" width="5.2" height="5.7" fill="#f0a000"/><rect x="542.2" y="51.1" width="5.2" height="5.7" fill="#ff0000"/><rect x="542.2" y="58.4" width="5.2" height="5.7" fill="#f0a000"/><rect x="542.2" y="65.5" width="5.2" height="5.7" fill="#f0a000"/><rect x="548.9" y="29.6" width="5.2" height="5.7" fill="#ff0000"/><rect x="548.9" y="36.8" width="5.2" height="5.7" fill="#ff0000"/><rect x="548.9" y="44" width="5.2" height="5.7" fill="#ff0000"/><rect x="548.9" y="51.1" width="5.2" height="5.7" fill="#ff0000"/><rect x="548.9" y="58.4" width="5.2" height="5.7" fill="#f0a000"/><rect x="555.6" y="36.8" width="5.2" height="5.7" fill="#ff0000"/><rect x="555.6" y="44" width="5.2" height="5.7" fill="#ff6a00"/><rect x="555.6" y="51.1" width="5.2" height="5.7" fill="#f0a000"/><rect x="555.6" y="58.4" width="5.2" height="5.7" fill="#ff6a00"/><rect x="555.6" y="65.5" width="5.2" height="5.7" fill="#ff0000"/><rect x="562.3" y="22.4" width="5.2" height="5.7" fill="#ff0000"/><rect x="562.3" y="29.6" width="5.2" height="5.7" fill="#ff6a00"/><rect x="562.3" y="36.8" width="5.2" height="5.7" fill="#ff0000"/><rect x="562.3" y="51.1" width="5.2" height="5.7" fill="#ff0000"/><rect x="562.3" y="58.4" width="5.2" height="5.7" fill="#ff6a00"/><rect x="562.3" y="65.5" width="5.2" height="5.7" fill="#ff0000"/><rect x="569" y="22.4" width="5.2" height="5.7" fill="#ff0000"/><rect x="569" y="29.6" width="5.2" height="5.7" fill="#ff0000"/><rect x="569" y="36.8" width="5.2" height="5.7" fill="#d8d800"/><rect x="569" y="44" width="5.2" height="5.7" fill="#ff0000"/><rect x="569" y="51.1" width="5.2" height="5.7" fill="#d8d800"/><rect x="569" y="58.4" width="5.2" height="5.7" fill="#f0a000"/><rect x="569" y="65.5" width="5.2" height="5.7" fill="#ff0000"/><rect x="575.7" y="15.2" width="5.2" height="5.7" fill="#00c8d8"/><rect x="575.7" y="22.4" width="5.2" height="5.7" fill="#ff6a00"/><rect x="575.7" y="36.8" width="5.2" height="5.7" fill="#ff0000"/><rect x="575.7" y="44" width="5.2" height="5.7" fill="#ff0000"/><rect x="575.7" y="51.1" width="5.2" height="5.7" fill="#ff0000"/><rect x="575.7" y="58.4" width="5.2" height="5.7" fill="#f0a000"/><rect x="575.7" y="65.5" width="5.2" height="5.7" fill="#ff6a00"/><rect x="582.4" y="15.2" width="5.2" height="5.7" fill="#00c8d8"/><rect x="582.4" y="22.4" width="5.2" height="5.7" fill="#00c8d8"/><rect x="582.4" y="29.6" width="5.2" height="5.7" fill="#ff0000"/><rect x="582.4" y="36.8" width="5.2" height="5.7" fill="#ff0000"/><rect x="582.4" y="44" width="5.2" height="5.7" fill="#d8d800"/><rect x="582.4" y="51.1" width="5.2" height="5.7" fill="#f0a000"/><rect x="582.4" y="65.5" width="5.2" height="5.7" fill="#ff6a00"/><rect x="589" y="15.2" width="5.2" height="5.7" fill="#00c8d8"/><rect x="589" y="22.4" width="5.2" height="5.7" fill="#ff0000"/><rect x="589" y="29.6" width="5.2" height="5.7" fill="#ff0000"/><rect x="589" y="36.8" width="5.2" height="5.7" fill="#ff0000"/><rect x="589" y="44" width="5.2" height="5.7" fill="#ff0000"/><rect x="589" y="51.1" width="5.2" height="5.7" fill="#d8d800"/><rect x="595.7" y="15.2" width="5.2" height="5.7" fill="#10e040"/><rect x="595.7" y="22.4" width="5.2" height="5.7" fill="#ff0000"/><rect x="595.7" y="29.6" width="5.2" height="5.7" fill="#ff0000"/><rect x="595.7" y="36.8" width="5.2" height="5.7" fill="#ff6a00"/><rect x="595.7" y="44" width="5.2" height="5.7" fill="#ff6a00"/><rect x="595.7" y="51.1" width="5.2" height="5.7" fill="#ff0000"/><rect x="595.7" y="58.4" width="5.2" height="5.7" fill="#ff0000"/><rect x="602.4" y="15.2" width="5.2" height="5.7" fill="#10e040"/><rect x="602.4" y="22.4" width="5.2" height="5.7" fill="#d8d800"/><rect x="602.4" y="29.6" width="5.2" height="5.7" fill="#ff0000"/><rect x="602.4" y="36.8" width="5.2" height="5.7" fill="#ff0000"/><rect x="602.4" y="51.1" width="5.2" height="5.7" fill="#ff0000"/><rect x="602.4" y="65.5" width="5.2" height="5.7" fill="#ff0000"/><rect x="609.1" y="15.2" width="5.2" height="5.7" fill="#d8d800"/><rect x="609.1" y="22.4" width="5.2" height="5.7" fill="#ff6a00"/><rect x="609.1" y="29.6" width="5.2" height="5.7" fill="#ff0000"/><rect x="609.1" y="36.8" width="5.2" height="5.7" fill="#ff0000"/><rect x="609.1" y="44" width="5.2" height="5.7" fill="#ff6a00"/><rect x="609.1" y="51.1" width="5.2" height="5.7" fill="#ff0000"/><rect x="609.1" y="58.4" width="5.2" height="5.7" fill="#ff0000"/><rect x="609.1" y="65.5" width="5.2" height="5.7" fill="#ff0000"/><rect x="615.8" y="22.4" width="5.2" height="5.7" fill="#1a8cf0"/><rect x="615.8" y="29.6" width="5.2" height="5.7" fill="#d8d800"/><rect x="615.8" y="36.8" width="5.2" height="5.7" fill="#ff0000"/><rect x="615.8" y="44" width="5.2" height="5.7" fill="#ff0000"/><rect x="615.8" y="51.1" width="5.2" height="5.7" fill="#ff6a00"/><rect x="615.8" y="58.4" width="5.2" height="5.7" fill="#ff6a00"/><rect x="615.8" y="65.5" width="5.2" height="5.7" fill="#ff0000"/><rect x="622.5" y="36.8" width="5.2" height="5.7" fill="#10e040"/><rect x="622.5" y="44" width="5.2" height="5.7" fill="#d8d800"/><rect x="622.5" y="58.4" width="5.2" height="5.7" fill="#ff0000"/><rect x="622.5" y="65.5" width="5.2" height="5.7" fill="#ff0000"/><rect x="629.2" y="44" width="5.2" height="5.7" fill="#00c8d8"/><rect x="629.2" y="51.1" width="5.2" height="5.7" fill="#00c8d8"/><rect x="629.2" y="58.4" width="5.2" height="5.7" fill="#ff0000"/><rect x="629.2" y="65.5" width="5.2" height="5.7" fill="#ff0000"/><rect x="635.8" y="58.4" width="5.2" height="5.7" fill="#d8d800"/><rect x="635.8" y="65.5" width="5.2" height="5.7" fill="#10e040"/><rect x="642.5" y="65.5" width="5.2" height="5.7" fill="#d8d800"/></g><polygon points="1354,2196.3 1361.5,2194 1361.5,2265 1354,2268.3" fill="#000048"/><rect x="906" y="2193.5" width="41.5" height="9.5" fill="#303030"/><rect x="907.6" y="2194.7" width="6.5" height="7.1" fill="#d8d8d8"/><rect x="915.3" y="2194.7" width="6.5" height="7.1" fill="#d8d8d8"/><rect x="923" y="2194.7" width="6.5" height="7.1" fill="#d8d8d8"/><rect x="930.7" y="2194.7" width="6.5" height="7.1" fill="#d8d8d8"/><rect x="938.4" y="2194.7" width="6.5" height="7.1" fill="#d8d8d8"/><rect x="1043" y="2192" width="42" height="9.5" fill="#303030"/><rect x="1044.6" y="2193.2" width="6.6" height="7.1" fill="#d8d8d8"/><rect x="1052.4" y="2193.2" width="6.6" height="7.1" fill="#d8d8d8"/><rect x="1060.2" y="2193.2" width="6.6" height="7.1" fill="#d8d8d8"/><rect x="1068" y="2193.2" width="6.6" height="7.1" fill="#d8d8d8"/><rect x="1075.8" y="2193.2" width="6.6" height="7.1" fill="#d8d8d8"/><rect x="666" y="2272.5" width="40" height="7" fill="#303030"/><rect x="667.6" y="2273.7" width="6.2" height="4.6" fill="#d8d8d8"/><rect x="675" y="2273.7" width="6.2" height="4.6" fill="#d8d8d8"/><rect x="682.4" y="2273.7" width="6.2" height="4.6" fill="#d8d8d8"/><rect x="689.8" y="2273.7" width="6.2" height="4.6" fill="#d8d8d8"/><rect x="697.2" y="2273.7" width="6.2" height="4.6" fill="#d8d8d8"/><rect x="1284" y="2269" width="44" height="7.5" fill="#303030"/><rect x="1285.6" y="2270.2" width="7" height="5.1" fill="#d8d8d8"/><rect x="1293.8" y="2270.2" width="7" height="5.1" fill="#d8d8d8"/><rect x="1302" y="2270.2" width="7" height="5.1" fill="#d8d8d8"/><rect x="1310.2" y="2270.2" width="7" height="5.1" fill="#d8d8d8"/><rect x="1318.4" y="2270.2" width="7" height="5.1" fill="#d8d8d8"/><polygon points="923,2113.7 944,2113.7 944,2158.4 954.8,2158.4 933.5,2183.4 912.2,2158.4 923,2158.4" fill="#0a72b8"/><polygon points="1053.1,2113.7 1074.1,2113.7 1074.1,2158.4 1084.8,2158.4 1063.6,2183.4 1042.3,2158.4 1053.1,2158.4" fill="#0a72b8"/><rect x="182.25" y="1360.5" width="1212.45" height="996" fill="none" stroke="#000" stroke-width="7.5"/><path d="M186,2356.3 H202 M186,2245.6 H202 M186,2134.9 H202 M186,2024.2 H202 M186,1913.5 H202 M186,1802.8 H202 M186,1692.1 H202 M186,1581.4 H202 M186,1470.7 H202 M317.4,2353 V2337 M452.1,2353 V2337 M586.9,2353 V2337 M721.6,2353 V2337 M856.4,2353 V2337 M991.1,2353 V2337 M1125.8,2353 V2337 M1260.6,2353 V2337" stroke="#000" stroke-width="7.2" fill="none"/><path d="M182.6,2356.3 L262.8,2299.6 L299.1,2279.3 L368.8,2237.3 L397.9,2217 L445.8,2192.3 L532.9,2132.7 L570.7,2097.9 L615.2,2068.4 L676.2,2020.4 L716.9,1984.1 L754.1,1951.4 L781.2,1924.2 L830.6,1882.2 L884.9,1820.5 L924.4,1776 L976.3,1729.1 L1018.3,1682.2 L1043,1647.7 L1065.2,1620.5 L1109.6,1573.6 L1131.4,1552.8 L1154.4,1530 L1165,1512 L1188.3,1492.4" fill="none" stroke="#555555" stroke-width="5" stroke-linejoin="round" stroke-linecap="round"/><rect x="252.8" y="2289.6" width="20" height="20" fill="#555555"/><rect x="289.1" y="2269.3" width="20" height="20" fill="#555555"/><rect x="358.8" y="2227.3" width="20" height="20" fill="#555555"/><rect x="387.9" y="2207" width="20" height="20" fill="#555555"/><rect x="435.8" y="2182.3" width="20" height="20" fill="#555555"/><rect x="522.9" y="2122.7" width="20" height="20" fill="#555555"/><rect x="560.7" y="2087.9" width="20" height="20" fill="#555555"/><rect x="605.2" y="2058.4" width="20" height="20" fill="#555555"/><rect x="666.2" y="2010.4" width="20" height="20" fill="#555555"/><rect x="706.9" y="1974.1" width="20" height="20" fill="#555555"/><rect x="744.1" y="1941.4" width="20" height="20" fill="#555555"/><rect x="771.2" y="1914.2" width="20" height="20" fill="#555555"/><rect x="820.6" y="1872.2" width="20" height="20" fill="#555555"/><rect x="874.9" y="1810.5" width="20" height="20" fill="#555555"/><rect x="914.4" y="1766" width="20" height="20" fill="#555555"/><rect x="966.3" y="1719.1" width="20" height="20" fill="#555555"/><rect x="1008.3" y="1672.2" width="20" height="20" fill="#555555"/><rect x="1033" y="1637.7" width="20" height="20" fill="#555555"/><rect x="1055.2" y="1610.5" width="20" height="20" fill="#555555"/><rect x="1099.6" y="1563.6" width="20" height="20" fill="#555555"/><rect x="1121.4" y="1542.8" width="20" height="20" fill="#555555"/><rect x="1144.4" y="1520" width="20" height="20" fill="#555555"/><rect x="1155" y="1502" width="20" height="20" fill="#555555"/><rect x="1178.3" y="1482.4" width="20" height="20" fill="#555555"/><path d="M182.6,2356.3 L184,2352.7 L185.8,2347.9 L188,2342.1 L190.4,2335.7 L192.9,2329 L195.4,2322.3 L197.8,2315.8 L200,2310 L202,2304.5 L203.8,2299 L205.6,2293.5 L207.4,2288.2 L209.2,2283 L211,2278 L212.9,2273.4 L214.9,2269.2 L216.9,2265.6 L218.9,2262.7 L220.9,2260.3 L223,2258 L225.2,2255.7 L227.6,2253 L230.2,2249.9 L233,2245.9 L236.2,2241 L239.8,2235.2 L243.7,2229 L247.7,2222.4 L251.7,2215.8 L255.6,2209.3 L259.4,2203.3 L262.8,2198 L265.9,2193.4 L268.8,2189.3 L271.6,2185.5 L274.3,2181.9 L276.9,2178.5 L279.4,2175 L282,2171.4 L284.6,2167.5 L287.2,2163.3 L289.7,2159 L292.2,2154.6 L294.7,2150.2 L297.1,2145.7 L299.7,2141.3 L302.2,2136.9 L304.9,2132.6 L307.7,2128.4 L310.5,2124.3 L313.5,2120.3 L316.4,2116.2 L319.4,2112.2 L322.3,2108.2 L325.2,2104.1 L328,2100 L330.7,2095.8 L333.2,2091.7 L335.7,2087.5 L338.1,2083.3 L340.6,2079 L343.1,2074.7 L345.8,2070.3 L348.5,2065.9 L351.4,2061.4 L354.3,2056.7 L357.3,2052.1 L360.4,2047.3 L363.5,2042.5 L366.7,2037.7 L369.9,2032.9 L373.2,2028.1 L376.5,2023.3 L379.9,2018.4 L383.3,2013.5 L386.8,2008.6 L390.3,2003.7 L393.8,1998.7 L397.3,1993.8 L400.8,1988.9 L404.2,1984 L407.7,1979.1 L411.2,1974.3 L414.6,1969.4 L418.1,1964.5 L421.5,1959.6 L425,1954.7 L428.4,1949.7 L431.8,1944.7 L435.2,1939.7 L438.6,1934.7 L442,1929.6 L445.4,1924.6 L448.8,1919.4 L452.4,1914.3 L456,1909 L459.8,1903.6 L463.7,1898 L467.7,1892.3 L471.7,1886.6 L475.8,1881 L479.8,1875.4 L483.6,1870.1 L487.4,1865 L491,1860.2 L494.5,1855.7 L497.9,1851.3 L501.3,1847.1 L504.6,1843 L507.9,1838.8 L511.2,1834.7 L514.6,1830.4 L518,1826.1 L521.3,1821.9 L524.7,1817.6 L528,1813.4 L531.4,1809.1 L534.7,1804.8 L538.2,1800.4 L541.7,1795.8 L545.3,1791.1 L549,1786.2 L552.8,1781.1 L556.6,1776 L560.3,1771 L564.1,1765.9 L567.8,1761 L571.4,1756.3 L574.9,1751.7 L578.4,1747.2 L581.7,1742.9 L585.1,1738.5 L588.4,1734.3 L591.8,1730.1 L595.1,1725.9 L598.5,1721.7 L601.9,1717.6 L605.3,1713.4 L608.7,1709.4 L612.1,1705.3 L615.5,1701.3 L618.9,1697.4 L622.3,1693.5 L625.7,1689.6 L629.1,1685.8 L632.5,1682 L635.9,1678.3 L639.3,1674.6 L642.6,1671 L646,1667.3 L649.4,1663.7 L652.8,1660 L656.2,1656.3 L659.7,1652.5 L663.1,1648.7 L666.5,1644.9 L670,1641.1 L673.4,1637.5 L676.7,1633.9 L680,1630.4 L683.2,1627.1 L686.5,1623.8 L689.7,1620.7 L692.8,1617.6 L695.9,1614.6 L698.9,1611.6 L701.9,1608.6 L704.7,1605.7 L707.4,1602.8 L709.9,1599.9 L712.3,1597.1 L714.7,1594.3 L717,1591.5 L719.4,1588.8 L721.8,1586.1 L724.4,1583.5 L727.1,1580.9 L729.9,1578.3 L732.8,1575.8 L735.7,1573.3 L738.6,1570.8 L741.4,1568.4 L744.1,1566 L746.7,1563.7 L749.1,1561.4 L751.4,1559.1 L753.6,1556.9 L755.7,1554.7 L757.7,1552.6 L759.8,1550.5 L761.9,1548.4 L764,1546.4 L766.2,1544.4 L768.4,1542.5 L770.6,1540.6 L772.8,1538.7 L774.9,1536.9 L777.1,1535.1 L779.2,1533.3 L781.2,1531.6 L783.2,1529.9 L785.1,1528.4 L787,1526.8 L788.9,1525.3 L790.7,1523.8 L792.5,1522.3 L794.3,1520.8 L796,1519.3 L797.6,1517.8 L799.2,1516.2 L800.6,1514.7 L802,1513.1 L803.5,1511.5 L805,1510 L806.6,1508.4 L808.4,1506.9 L810.4,1505.3 L812.8,1503.5 L815.3,1501.7 L817.8,1500 L820.3,1498.3 L822.5,1496.8 L824.3,1495.5 L825.7,1494.6" fill="none" stroke="#f84242" stroke-width="5.2" stroke-linejoin="round" stroke-linecap="round"/><circle cx="214.9" cy="2269.2" r="12" fill="#f84242"/><circle cx="233" cy="2245.9" r="12" fill="#f84242"/><circle cx="262.8" cy="2198" r="12" fill="#f84242"/><circle cx="284.6" cy="2167.5" r="12" fill="#f84242"/><circle cx="304.9" cy="2132.6" r="12" fill="#f84242"/><circle cx="328" cy="2100" r="12" fill="#f84242"/><circle cx="348.5" cy="2065.9" r="12" fill="#f84242"/><circle cx="373.2" cy="2028.1" r="12" fill="#f84242"/><circle cx="400.8" cy="1988.9" r="12" fill="#f84242"/><circle cx="428.4" cy="1949.7" r="12" fill="#f84242"/><circle cx="456" cy="1909" r="12" fill="#f84242"/><circle cx="487.4" cy="1865" r="12" fill="#f84242"/><circle cx="514.6" cy="1830.4" r="12" fill="#f84242"/><circle cx="541.7" cy="1795.8" r="12" fill="#f84242"/><circle cx="571.4" cy="1756.3" r="12" fill="#f84242"/><circle cx="598.5" cy="1721.7" r="12" fill="#f84242"/><circle cx="625.7" cy="1689.6" r="12" fill="#f84242"/><circle cx="652.8" cy="1660" r="12" fill="#f84242"/><circle cx="680" cy="1630.4" r="12" fill="#f84242"/><circle cx="704.7" cy="1605.7" r="12" fill="#f84242"/><circle cx="724.4" cy="1583.5" r="12" fill="#f84242"/><circle cx="746.7" cy="1563.7" r="12" fill="#f84242"/><circle cx="764" cy="1546.4" r="12" fill="#f84242"/><circle cx="781.2" cy="1531.6" r="12" fill="#f84242"/><circle cx="796" cy="1519.3" r="12" fill="#f84242"/><circle cx="808.4" cy="1506.9" r="12" fill="#f84242"/><circle cx="825.7" cy="1494.6" r="12" fill="#f84242"/><path d="M182.6,2356.3 L299,2307 L345,2268 L412,2224 L488,2178 L560,2128 L600,2093.4 L650,2065 L705.7,2025.4 L750,1985 L788.8,1948 L836,1904.5 L880,1860 L920,1815 L968,1760 L1018,1697 L1055,1652 L1095,1613 L1142,1565 L1176,1502" fill="none" stroke="#0066e0" stroke-width="6.5" stroke-linejoin="round" stroke-linecap="round"/><polygon points="345,2253.4 332.5,2275.9 357.5,2275.9" fill="#0066e0"/><polygon points="488,2163.4 475.5,2185.9 500.5,2185.9" fill="#0066e0"/><polygon points="600,2078.8 587.5,2101.3 612.5,2101.3" fill="#0066e0"/><polygon points="705.7,2010.8 693.2,2033.3 718.2,2033.3" fill="#0066e0"/><polygon points="788.8,1933.4 776.3,1955.9 801.3,1955.9" fill="#0066e0"/><polygon points="880,1845.4 867.5,1867.9 892.5,1867.9" fill="#0066e0"/><polygon points="968,1745.4 955.5,1767.9 980.5,1767.9" fill="#0066e0"/><polygon points="1055,1637.4 1042.5,1659.9 1067.5,1659.9" fill="#0066e0"/><polygon points="1142,1550.4 1129.5,1572.9 1154.5,1572.9" fill="#0066e0"/><path d="M182.6,2356.3 L183.3,2354.4 L184.2,2351.8 L185.2,2348.8 L186.4,2345.4 L187.7,2341.8 L189,2338.1 L190.3,2334.5 L191.6,2331 L192.9,2327.8 L194,2325 L195,2322.6 L196.1,2320.5 L197,2318.5 L198,2316.7 L199,2314.9 L199.9,2313.2 L200.9,2311.5 L201.9,2309.8 L202.9,2308 L204,2306 L205.1,2303.9 L206.2,2301.9 L207.3,2299.8 L208.5,2297.7 L209.6,2295.5 L210.8,2293.3 L212,2291.1 L213.3,2288.8 L214.6,2286.4 L216,2284 L217.4,2281.5 L218.8,2279 L220.3,2276.4 L221.8,2273.8 L223.4,2271.1 L225,2268.4 L226.6,2265.6 L228.4,2262.8 L230.1,2259.9 L232,2257 L234,2254 L236,2251 L238.1,2247.9 L240.3,2244.8 L242.6,2241.6 L244.8,2238.4 L247.1,2235.1 L249.4,2231.8 L251.7,2228.4 L254,2225 L256.2,2221.5 L258.5,2218 L260.7,2214.4 L263,2210.8 L265.2,2207.1 L267.5,2203.3 L269.8,2199.6 L272.2,2195.7 L274.6,2191.9 L277,2188 L279.5,2184.1 L282,2180.1 L284.5,2176.2 L287,2172.1 L289.6,2168.1 L292.2,2164 L294.9,2159.8 L297.6,2155.6 L300.3,2151.3 L303,2147 L305.8,2142.6 L308.6,2138.2 L311.4,2133.6 L314.2,2129.1 L317.1,2124.4 L320,2119.8 L323,2115.1 L326,2110.4 L329,2105.7 L332,2101 L335.1,2096.3 L338.2,2091.6 L341.3,2086.9 L344.4,2082.1 L347.6,2077.4 L350.8,2072.6 L354.1,2067.8 L357.4,2062.9 L360.7,2058 L364,2053 L367.4,2048 L370.8,2042.8 L374.2,2037.7 L377.7,2032.4 L381.2,2027.2 L384.8,2021.9 L388.3,2016.7 L391.9,2011.4 L395.4,2006.2 L399,2001 L402.5,1995.9 L406.1,1990.8 L409.6,1985.7 L413.2,1980.6 L416.8,1975.5 L420.3,1970.4 L423.9,1965.3 L427.6,1960.2 L431.3,1955.1 L435,1950 L438.8,1944.8 L442.6,1939.6 L446.4,1934.4 L450.3,1929.2 L454.2,1924 L458.2,1918.8 L462.1,1913.6 L466.1,1908.4 L470,1903.2 L474,1898 L477.9,1892.9 L481.9,1887.7 L485.8,1882.6 L489.8,1877.4 L493.8,1872.3 L497.7,1867.2 L501.7,1862.1 L505.8,1857.1 L509.9,1852 L514,1847 L518.2,1842 L522.4,1837 L526.6,1832.1 L530.9,1827.2 L535.2,1822.3 L539.6,1817.4 L543.9,1812.5 L548.3,1807.7 L552.6,1802.8 L557,1798 L561.4,1793.2 L565.8,1788.3 L570.2,1783.5 L574.7,1778.7 L579.2,1773.9 L583.6,1769.1 L588,1764.4 L592.4,1759.7 L596.7,1755.1 L601,1750.6 L605.2,1746.1 L609.3,1741.8 L613.3,1737.5 L617.3,1733.2 L621.3,1729 L625.3,1724.8 L629.3,1720.6 L633.3,1716.5 L637.3,1712.3 L641.4,1708.1 L645.5,1703.9 L649.6,1699.6 L653.8,1695.3 L657.9,1691.1 L662,1686.8 L666.2,1682.6 L670.4,1678.4 L674.7,1674.3 L679,1670.2 L683.3,1666.3 L687.7,1662.4 L692.1,1658.7 L696.6,1654.9 L701.2,1651.3 L705.7,1647.6 L710.3,1644.1 L714.9,1640.6 L719.5,1637.1 L724,1633.6 L728.6,1630.2 L733.1,1626.8 L737.6,1623.5 L742.1,1620.2 L746.5,1616.9 L751,1613.7 L755.5,1610.5 L760.1,1607.3 L764.7,1604.2 L769.4,1601.1 L774.2,1598.1 L779.1,1595.1 L784,1592.1 L788.9,1589.1 L793.9,1586.2 L799,1583.3 L804.1,1580.4 L809.3,1577.7 L814.6,1575 L820,1572.3 L825.4,1569.8 L831,1567.4 L836.7,1565.1 L842.6,1563 L848.5,1560.9 L854.5,1558.9 L860.5,1556.9 L866.5,1554.9 L872.4,1552.9 L878.3,1550.7 L884,1548.5 L889.5,1546.1 L894.9,1543.6 L900.1,1541 L905.3,1538.4 L910.5,1535.7 L915.7,1533.1 L921.1,1530.6 L926.6,1528.2 L932.3,1525.9 L938.3,1523.8 L944.6,1521.9 L951.2,1520.3 L958,1518.8 L965,1517.4 L972.1,1516 L979.2,1514.7 L986.4,1513.4 L993.5,1512.1 L1000.6,1510.6 L1007.5,1509 L1014.6,1507.2 L1022.2,1505.2 L1030,1503 L1037.9,1500.8 L1045.6,1498.6 L1052.9,1496.4 L1059.8,1494.4 L1065.8,1492.7 L1071,1491.1 L1075,1490" fill="none" stroke="#00a86a" stroke-width="5" stroke-linejoin="round" stroke-linecap="round"/><polygon points="189.9,2349.6 178.4,2328.9 201.4,2328.9" fill="#00a86a"/><polygon points="209.3,2310.2 197.8,2289.5 220.8,2289.5" fill="#00a86a"/><polygon points="231.3,2272.1 219.8,2251.4 242.8,2251.4" fill="#00a86a"/><polygon points="256.1,2235.8 244.6,2215.1 267.6,2215.1" fill="#00a86a"/><polygon points="279.3,2198.4 267.8,2177.7 290.8,2177.7" fill="#00a86a"/><polygon points="302.9,2161.2 291.4,2140.5 314.4,2140.5" fill="#00a86a"/><polygon points="326.3,2124 314.8,2103.3 337.8,2103.3" fill="#00a86a"/><polygon points="350.5,2087.2 339,2066.5 362,2066.5" fill="#00a86a"/><polygon points="375,2050.7 363.5,2030 386.5,2030" fill="#00a86a"/><polygon points="399.6,2014.2 388.1,1993.5 411.1,1993.5" fill="#00a86a"/><polygon points="424.8,1978.2 413.3,1957.5 436.3,1957.5" fill="#00a86a"/><polygon points="450.8,1942.7 439.3,1922 462.3,1922" fill="#00a86a"/><polygon points="477.4,1907.6 465.9,1886.9 488.9,1886.9" fill="#00a86a"/><polygon points="504.4,1872.9 492.9,1852.2 515.9,1852.2" fill="#00a86a"/><polygon points="532.7,1839.2 521.2,1818.5 544.2,1818.5" fill="#00a86a"/><polygon points="562.1,1806.4 550.6,1785.7 573.6,1785.7" fill="#00a86a"/><polygon points="592,1774.2 580.5,1753.5 603.5,1753.5" fill="#00a86a"/><polygon points="622.2,1742.2 610.7,1721.5 633.7,1721.5" fill="#00a86a"/><polygon points="652.7,1710.5 641.2,1689.8 664.2,1689.8" fill="#00a86a"/><polygon points="684.1,1679.7 672.6,1659 695.6,1659" fill="#00a86a"/><polygon points="718.3,1652 706.8,1631.3 729.8,1631.3" fill="#00a86a"/><polygon points="753.7,1625.8 742.2,1605.1 765.2,1605.1" fill="#00a86a"/><polygon points="790.7,1602.1 779.2,1581.4 802.2,1581.4" fill="#00a86a"/><polygon points="829.8,1582 818.3,1561.3 841.3,1561.3" fill="#00a86a"/><polygon points="871.3,1567.3 859.8,1546.6 882.8,1546.6" fill="#00a86a"/><polygon points="911.4,1549.4 899.9,1528.7 922.9,1528.7" fill="#00a86a"/><polygon points="952.5,1534.1 941,1513.4 964,1513.4" fill="#00a86a"/><polygon points="995.7,1525.7 984.2,1505 1007.2,1505" fill="#00a86a"/><polygon points="1038.3,1514.7 1026.8,1494 1049.8,1494" fill="#00a86a"/><polygon points="1075,1504.1 1063.5,1483.4 1086.5,1483.4" fill="#00a86a"/><path d="M182.6,2356.3 L270,2295.3 L339.8,2256 L405.1,2217 L480.7,2170.5 L572.2,2106.6 L630,2068 L687.8,2030.6 L730,1988 L772.1,1943.5 L811.3,1905.7 L857.7,1857.8 L902.2,1815.6 L961.5,1751.4 L1010.9,1687.2 L1047.9,1642.7 L1087.4,1603.2 L1139.3,1551.4 L1173.8,1514.1 L1181,1495" fill="none" stroke="#c878e0" stroke-width="7" stroke-linejoin="round" stroke-linecap="round"/><polygon points="270,2281.3 283.5,2295.3 270,2309.3 256.5,2295.3" fill="#c878e0"/><polygon points="339.8,2242 353.3,2256 339.8,2270 326.3,2256" fill="#c878e0"/><polygon points="405.1,2203 418.6,2217 405.1,2231 391.6,2217" fill="#c878e0"/><polygon points="480.7,2156.5 494.2,2170.5 480.7,2184.5 467.2,2170.5" fill="#c878e0"/><polygon points="572.2,2092.6 585.7,2106.6 572.2,2120.6 558.7,2106.6" fill="#c878e0"/><polygon points="630,2054 643.5,2068 630,2082 616.5,2068" fill="#c878e0"/><polygon points="687.8,2016.6 701.3,2030.6 687.8,2044.6 674.3,2030.6" fill="#c878e0"/><polygon points="730,1974 743.5,1988 730,2002 716.5,1988" fill="#c878e0"/><polygon points="772.1,1929.5 785.6,1943.5 772.1,1957.5 758.6,1943.5" fill="#c878e0"/><polygon points="811.3,1891.7 824.8,1905.7 811.3,1919.7 797.8,1905.7" fill="#c878e0"/><polygon points="857.7,1843.8 871.2,1857.8 857.7,1871.8 844.2,1857.8" fill="#c878e0"/><polygon points="902.2,1801.6 915.7,1815.6 902.2,1829.6 888.7,1815.6" fill="#c878e0"/><polygon points="961.5,1737.4 975,1751.4 961.5,1765.4 948,1751.4" fill="#c878e0"/><polygon points="1010.9,1673.2 1024.4,1687.2 1010.9,1701.2 997.4,1687.2" fill="#c878e0"/><polygon points="1047.9,1628.7 1061.4,1642.7 1047.9,1656.7 1034.4,1642.7" fill="#c878e0"/><polygon points="1087.4,1589.2 1100.9,1603.2 1087.4,1617.2 1073.9,1603.2" fill="#c878e0"/><polygon points="1139.3,1537.4 1152.8,1551.4 1139.3,1565.4 1125.8,1551.4" fill="#c878e0"/><polygon points="1173.8,1500.1 1187.3,1514.1 1173.8,1528.1 1160.3,1514.1" fill="#c878e0"/><polygon points="1181,1481 1194.5,1495 1181,1509 1167.5,1495" fill="#c878e0"/><path d="M182.6,2356.3 L183,2353.9 L183.6,2350.8 L184.2,2347 L184.9,2342.8 L185.7,2338.3 L186.5,2333.8 L187.4,2329.3 L188.2,2325 L189.1,2321.2 L190,2318 L190.9,2315.3 L191.8,2313 L192.7,2311 L193.7,2309.2 L194.7,2307.5 L195.7,2305.9 L196.8,2304.3 L197.8,2302.7 L198.9,2300.9 L200,2299 L201.1,2296.9 L202.2,2294.9 L203.3,2292.8 L204.5,2290.7 L205.6,2288.5 L206.8,2286.3 L208,2284.1 L209.3,2281.8 L210.6,2279.4 L212,2277 L213.4,2274.5 L214.8,2272 L216.3,2269.4 L217.8,2266.8 L219.4,2264.1 L221,2261.4 L222.6,2258.6 L224.4,2255.8 L226.1,2252.9 L228,2250 L230,2247 L232,2244 L234.1,2240.9 L236.3,2237.8 L238.6,2234.6 L240.8,2231.4 L243.1,2228.1 L245.4,2224.8 L247.7,2221.4 L250,2218 L252.2,2214.5 L254.5,2211 L256.7,2207.4 L259,2203.8 L261.2,2200.1 L263.5,2196.3 L265.8,2192.6 L268.2,2188.7 L270.6,2184.9 L273,2181 L275.5,2177.1 L278,2173.1 L280.5,2169.2 L283,2165.1 L285.6,2161.1 L288.2,2157 L290.9,2152.8 L293.6,2148.6 L296.3,2144.3 L299,2140 L301.8,2135.6 L304.6,2131.2 L307.4,2126.6 L310.2,2122.1 L313.1,2117.4 L316,2112.8 L319,2108.1 L322,2103.4 L325,2098.7 L328,2094 L331.1,2089.3 L334.2,2084.6 L337.3,2079.9 L340.4,2075.1 L343.6,2070.4 L346.8,2065.6 L350.1,2060.8 L353.4,2055.9 L356.7,2051 L360,2046 L363.4,2041 L366.8,2035.8 L370.2,2030.7 L373.7,2025.4 L377.2,2020.2 L380.8,2014.9 L384.3,2009.7 L387.9,2004.4 L391.4,1999.2 L395,1994 L398.5,1988.9 L402.1,1983.8 L405.6,1978.7 L409.2,1973.6 L412.8,1968.5 L416.3,1963.4 L419.9,1958.3 L423.6,1953.2 L427.3,1948.1 L431,1943 L434.8,1937.8 L438.6,1932.6 L442.4,1927.4 L446.3,1922.2 L450.2,1917 L454.2,1911.8 L458.1,1906.6 L462.1,1901.4 L466,1896.2 L470,1891 L473.9,1885.9 L477.9,1880.7 L481.8,1875.6 L485.8,1870.4 L489.8,1865.3 L493.7,1860.2 L497.7,1855.1 L501.8,1850.1 L505.9,1845 L510,1840 L514.2,1835 L518.4,1830 L522.6,1825.1 L526.9,1820.2 L531.2,1815.3 L535.6,1810.4 L539.9,1805.5 L544.3,1800.7 L548.6,1795.8 L553,1791 L557.4,1786.2 L561.8,1781.3 L566.2,1776.5 L570.7,1771.7 L575.2,1766.9 L579.6,1762.1 L584,1757.4 L588.4,1752.7 L592.7,1748.1 L597,1743.6 L601.2,1739.1 L605.3,1734.8 L609.3,1730.5 L613.3,1726.2 L617.3,1722 L621.3,1717.8 L625.3,1713.6 L629.3,1709.5 L633.3,1705.3 L637.4,1701.1 L641.5,1696.9 L645.6,1692.6 L649.8,1688.3 L653.9,1684.1 L658,1679.8 L662.2,1675.6 L666.4,1671.4 L670.7,1667.3 L675,1663.2 L679.3,1659.3 L683.7,1655.4 L688.1,1651.7 L692.6,1647.9 L697.2,1644.3 L701.7,1640.6 L706.3,1637.1 L710.9,1633.6 L715.5,1630.1 L720,1626.6 L724.6,1623.2 L729.1,1619.8 L733.6,1616.5 L738.1,1613.2 L742.5,1609.9 L747,1606.7 L751.5,1603.5 L756.1,1600.3 L760.7,1597.2 L765.4,1594.1 L770.2,1591.1 L775.1,1588.1 L780,1585.1 L784.9,1582.1 L789.9,1579.2 L795,1576.3 L800.1,1573.4 L805.3,1570.7 L810.6,1568 L816,1565.3 L821.4,1562.8 L827,1560.4 L832.7,1558.1 L838.6,1556 L844.5,1553.9 L850.5,1551.9 L856.5,1549.9 L862.5,1547.9 L868.4,1545.9 L874.3,1543.7 L880,1541.5 L885.5,1539.1 L890.9,1536.6 L896.1,1534 L901.3,1531.4 L906.5,1528.7 L911.7,1526.1 L917.1,1523.6 L922.6,1521.2 L928.3,1518.9 L934.3,1516.8 L940.6,1514.9 L947.1,1513.3 L953.7,1511.8 L960.6,1510.4 L967.5,1509.1 L974.6,1507.8 L981.7,1506.5 L989,1505.1 L996.2,1503.6 L1003.5,1502 L1011.2,1500.1 L1019.6,1498 L1028.3,1495.8 L1037.2,1493.5 L1046.1,1491.2 L1054.6,1488.9 L1062.4,1486.8 L1069.5,1485 L1075.4,1483.4 L1080,1482.2" fill="none" stroke="#dc9a00" stroke-width="6" stroke-linejoin="round" stroke-linecap="round"/><polygon points="174.6,2320.9 197.1,2308.4 197.1,2333.4" fill="#dc9a00"/><polygon points="195.6,2280.2 218.1,2267.7 218.1,2292.7" fill="#dc9a00"/><polygon points="219.5,2240.9 242,2228.4 242,2253.4" fill="#dc9a00"/><polygon points="245,2202.7 267.5,2190.2 267.5,2215.2" fill="#dc9a00"/><polygon points="269.4,2163.6 291.9,2151.1 291.9,2176.1" fill="#dc9a00"/><polygon points="293.9,2124.7 316.4,2112.2 316.4,2137.2" fill="#dc9a00"/><polygon points="318.7,2085.9 341.2,2073.4 341.2,2098.4" fill="#dc9a00"/><polygon points="344.2,2047.7 366.7,2035.2 366.7,2060.2" fill="#dc9a00"/><polygon points="369.8,2009.5 392.3,1997 392.3,2022" fill="#dc9a00"/><polygon points="395.9,1971.6 418.4,1959.1 418.4,1984.1" fill="#dc9a00"/><polygon points="422.8,1934.3 445.3,1921.8 445.3,1946.8" fill="#dc9a00"/><polygon points="450.4,1897.5 472.9,1885 472.9,1910" fill="#dc9a00"/><polygon points="478.5,1861 501,1848.5 501,1873.5" fill="#dc9a00"/><polygon points="507.7,1825.5 530.2,1813 530.2,1838" fill="#dc9a00"/><polygon points="538.3,1791.1 560.8,1778.6 560.8,1803.6" fill="#dc9a00"/><polygon points="569.5,1757.3 592,1744.8 592,1769.8" fill="#dc9a00"/><polygon points="601,1723.8 623.5,1711.3 623.5,1736.3" fill="#dc9a00"/><polygon points="632.9,1690.7 655.4,1678.2 655.4,1703.2" fill="#dc9a00"/><polygon points="665.7,1658.4 688.2,1645.9 688.2,1670.9" fill="#dc9a00"/><polygon points="701.5,1629.6 724,1617.1 724,1642.1" fill="#dc9a00"/><polygon points="738.5,1602.4 761,1589.9 761,1614.9" fill="#dc9a00"/><polygon points="777.5,1577.9 800,1565.4 800,1590.4" fill="#dc9a00"/><polygon points="818.8,1557.9 841.3,1545.4 841.3,1570.4" fill="#dc9a00"/><polygon points="862.3,1542.7 884.8,1530.2 884.8,1555.2" fill="#dc9a00"/><polygon points="903.8,1523 926.3,1510.5 926.3,1535.5" fill="#dc9a00"/><polygon points="947.8,1510.1 970.3,1497.6 970.3,1522.6" fill="#dc9a00"/><polygon points="992.9,1501 1015.4,1488.5 1015.4,1513.5" fill="#dc9a00"/><polygon points="1037.5,1489.6 1060,1477.1 1060,1502.1" fill="#dc9a00"/><polygon points="1065.4,1482.2 1087.9,1469.7 1087.9,1494.7" fill="#dc9a00"/><path d="M182.6,2356.3 L233.7,2324.3 L315.8,2277.9 L389,2237 L475,2191 L539,2150 L590,2118 L637.8,2097.1 L688.7,2068.8 L712,2040 L756.7,2000.8 L800,1962 L860,1908.3 L900,1862 L943.6,1820 L988.6,1776 L1023.5,1731 L1064.1,1682 L1100,1640 L1140,1597 L1180,1560 L1215,1535 L1245,1512" fill="none" stroke="#00cccc" stroke-width="5" stroke-linejoin="round" stroke-linecap="round"/><polygon points="248.3,2324.3 225.8,2311.8 225.8,2336.8" fill="#00cccc"/><polygon points="330.4,2277.9 307.9,2265.4 307.9,2290.4" fill="#00cccc"/><polygon points="652.4,2097.1 629.9,2084.6 629.9,2109.6" fill="#00cccc"/><polygon points="703.3,2068.8 680.8,2056.3 680.8,2081.3" fill="#00cccc"/><polygon points="874.6,1908.3 852.1,1895.8 852.1,1920.8" fill="#00cccc"/><polygon points="1003.2,1776 980.7,1763.5 980.7,1788.5" fill="#00cccc"/><polygon points="1114.6,1640 1092.1,1627.5 1092.1,1652.5" fill="#00cccc"/><polygon points="1259.6,1512 1237.1,1499.5 1237.1,1524.5" fill="#00cccc"/><path d="M182.6,2356.3 L183,2354.1 L183.4,2351.2 L183.8,2347.8 L184.3,2344 L184.8,2339.9 L185.5,2335.6 L186.4,2331.4 L187.4,2327.3 L188.6,2323.4 L190,2320 L191.6,2317 L193.5,2314.5 L195.5,2312.2 L197.7,2310 L200,2307.8 L202.4,2305.5 L205,2303 L207.7,2300 L210.5,2296.5 L213.4,2292.4 L216.4,2287.5 L219.7,2281.8 L223.1,2275.5 L226.7,2268.8 L230.3,2261.9 L234,2254.9 L237.7,2248 L241.3,2241.5 L244.9,2235.4 L248.3,2229.9 L251.6,2225.1 L255,2220.6 L258.3,2216.6 L261.5,2212.8 L264.8,2209.1 L268,2205.6 L271.1,2202 L274.2,2198.4 L277.3,2194.7 L280.2,2190.7 L283,2186.5 L285.7,2182.3 L288.3,2178 L290.9,2173.7 L293.4,2169.3 L295.9,2165 L298.4,2160.5 L301,2156.1 L303.6,2151.6 L306.4,2147.1 L309.3,2142.6 L312.2,2138 L315.2,2133.5 L318.2,2128.9 L321.2,2124.2 L324.3,2119.6 L327.4,2114.9 L330.6,2110.2 L333.7,2105.4 L336.9,2100.7 L340.1,2096 L343.2,2091.2 L346.4,2086.5 L349.6,2081.8 L352.9,2077 L356.1,2072.2 L359.5,2067.3 L362.9,2062.3 L366.4,2057.2 L370,2052 L373.7,2046.6 L377.5,2041.2 L381.3,2035.6 L385.3,2029.9 L389.3,2024.2 L393.3,2018.4 L397.4,2012.6 L401.6,2006.7 L405.8,2000.9 L410,1995 L414.3,1989.1 L418.8,1983 L423.4,1976.7 L428.1,1970.5 L432.8,1964.2 L437.5,1958.1 L442.1,1952 L446.6,1946.1 L450.9,1940.4 L455,1935 L458.9,1929.9 L462.6,1925.1 L466.3,1920.5 L469.7,1916 L473.2,1911.7 L476.5,1907.4 L479.9,1903.2 L483.2,1898.9 L486.6,1894.5 L490,1890 L493.4,1885.4 L496.8,1880.7 L500,1876 L503.3,1871.2 L506.6,1866.5 L509.9,1861.7 L513.4,1856.9 L516.9,1852.2 L520.6,1847.4 L524.4,1842.7 L528.4,1838 L532.5,1833.4 L536.7,1828.8 L541,1824.2 L545.5,1819.6 L550,1815 L554.6,1810.3 L559.3,1805.6 L564,1800.7 L568.9,1795.8 L573.9,1790.7 L579.2,1785.5 L584.6,1780.1 L590.1,1774.7 L595.6,1769.2 L601.2,1763.8 L606.7,1758.4 L612.1,1753.1 L617.3,1747.9 L622.3,1742.9 L627,1738 L631.6,1733.2 L635.9,1728.5 L640.1,1723.9 L644.3,1719.3 L648.5,1714.9 L652.8,1710.4 L657.1,1706.1 L661.7,1701.8 L666.5,1697.6 L671.5,1693.5 L676.8,1689.5 L682.1,1685.5 L687.6,1681.7 L693.2,1677.9 L698.8,1674.1 L704.4,1670.4 L710,1666.7 L715.6,1663 L721.1,1659.3 L726.5,1655.6 L732,1651.9 L737.3,1648.2 L742.7,1644.5 L748.1,1640.9 L753.6,1637.2 L759,1633.7 L764.5,1630.1 L770.1,1626.6 L775.7,1623.2 L781.5,1619.8 L787.4,1616.4 L793.4,1613.1 L799.4,1609.8 L805.5,1606.6 L811.6,1603.4 L817.5,1600.3 L823.4,1597.2 L829,1594.1 L834.5,1591.1 L839.7,1588.1 L844.7,1585.2 L849.5,1582.2 L854.2,1579.3 L858.8,1576.5 L863.4,1573.7 L868,1571 L872.7,1568.5 L877.5,1566 L882.5,1563.7 L887.7,1561.6 L893,1559.6 L898.5,1557.8 L904,1556.2 L909.6,1554.6 L915.1,1553 L920.7,1551.4 L926.2,1549.9 L931.5,1548.2 L936.8,1546.4 L941.9,1544.5 L947,1542.6 L951.9,1540.6 L956.8,1538.6 L961.7,1536.5 L966.5,1534.5 L971.4,1532.5 L976.2,1530.5 L981.2,1528.6 L986.2,1526.7 L991.3,1524.8 L996.4,1523 L1001.6,1521.1 L1006.7,1519.2 L1011.9,1517.4 L1017.2,1515.6 L1022.4,1513.9 L1027.6,1512.3 L1032.8,1510.8 L1038,1509.4 L1043.2,1508.1 L1048.6,1507 L1054,1505.9 L1059.4,1504.9 L1064.8,1504 L1070.1,1503.2 L1075.3,1502.4 L1080.4,1501.6 L1085.3,1500.8 L1090,1500 L1094.6,1499.2 L1099.3,1498.4 L1104,1497.7 L1108.6,1496.9 L1113,1496.2 L1117.1,1495.6 L1120.9,1495 L1124.2,1494.4 L1127.1,1494 L1129.4,1493.6" fill="none" stroke="#884848" stroke-width="5" stroke-linejoin="round" stroke-linecap="round"/><polygon points="195,2301.7 204.5,2307.2 204.5,2318.3 195,2323.8 185.4,2318.3 185.4,2307.2" fill="#884848"/><polygon points="222.6,2265.4 232.2,2270.9 232.2,2281.9 222.6,2287.4 213.1,2281.9 213.1,2270.9" fill="#884848"/><polygon points="244.5,2224.9 254.1,2230.5 254.1,2241.5 244.5,2247 235,2241.5 235,2230.5" fill="#884848"/><polygon points="273,2188.9 282.5,2194.4 282.5,2205.4 273,2210.9 263.4,2205.4 263.4,2194.4" fill="#884848"/><polygon points="297.9,2150.4 307.5,2155.9 307.5,2166.9 297.9,2172.4 288.4,2166.9 288.4,2155.9" fill="#884848"/><polygon points="322.4,2111.4 331.9,2116.9 331.9,2128 322.4,2133.5 312.9,2128 312.9,2116.9" fill="#884848"/><polygon points="348,2073.2 357.5,2078.7 357.5,2089.7 348,2095.2 338.4,2089.7 338.4,2078.7" fill="#884848"/><polygon points="374,2035.2 383.5,2040.8 383.5,2051.8 374,2057.3 364.4,2051.8 364.4,2040.8" fill="#884848"/><polygon points="400.3,1997.5 409.8,2003 409.8,2014 400.3,2019.6 390.7,2014 390.7,2003" fill="#884848"/><polygon points="427.4,1960.4 437,1965.9 437,1976.9 427.4,1982.4 417.9,1976.9 417.9,1965.9" fill="#884848"/><polygon points="455.2,1923.7 464.7,1929.2 464.7,1940.2 455.2,1945.8 445.7,1940.2 445.7,1929.2" fill="#884848"/><polygon points="483.5,1887.5 493.1,1893 493.1,1904 483.5,1909.5 474,1904 474,1893" fill="#884848"/><polygon points="510.4,1850.1 519.9,1855.6 519.9,1866.6 510.4,1872.1 500.8,1866.6 500.8,1855.6" fill="#884848"/><polygon points="539.6,1814.7 549.2,1820.2 549.2,1831.2 539.6,1836.7 530.1,1831.2 530.1,1820.2" fill="#884848"/><polygon points="571.8,1781.8 581.4,1787.3 581.4,1798.4 571.8,1803.9 562.3,1798.4 562.3,1787.3" fill="#884848"/><polygon points="604.5,1749.5 614.1,1755 614.1,1766 604.5,1771.5 595,1766 595,1755" fill="#884848"/><polygon points="636.7,1716.6 646.3,1722.1 646.3,1733.2 636.7,1738.7 627.2,1733.2 627.2,1722.1" fill="#884848"/><polygon points="669.3,1684.3 678.9,1689.8 678.9,1700.8 669.3,1706.3 659.8,1700.8 659.8,1689.8" fill="#884848"/><polygon points="706.9,1657.7 716.4,1663.3 716.4,1674.3 706.9,1679.8 697.3,1674.3 697.3,1663.3" fill="#884848"/><polygon points="745,1632 754.5,1637.5 754.5,1648.5 745,1654 735.4,1648.5 735.4,1637.5" fill="#884848"/><polygon points="783.9,1607.4 793.4,1612.9 793.4,1623.9 783.9,1629.5 774.3,1623.9 774.3,1612.9" fill="#884848"/><polygon points="824.4,1585.6 833.9,1591.1 833.9,1602.1 824.4,1607.6 814.8,1602.1 814.8,1591.1" fill="#884848"/><polygon points="864,1562.3 873.6,1567.8 873.6,1578.8 864,1584.3 854.5,1578.8 854.5,1567.8" fill="#884848"/><polygon points="906.3,1544.5 915.8,1550 915.8,1561 906.3,1566.5 896.7,1561 896.7,1550" fill="#884848"/><polygon points="950,1530.3 959.5,1535.8 959.5,1546.9 950,1552.4 940.5,1546.9 940.5,1535.8" fill="#884848"/><polygon points="992.7,1513.3 1002.3,1518.8 1002.3,1529.8 992.7,1535.3 983.2,1529.8 983.2,1518.8" fill="#884848"/><polygon points="1036.4,1498.8 1045.9,1504.3 1045.9,1515.4 1036.4,1520.9 1026.8,1515.4 1026.8,1504.3" fill="#884848"/><polygon points="1081.6,1490.4 1091.1,1495.9 1091.1,1506.9 1081.6,1512.4 1072,1506.9 1072,1495.9" fill="#884848"/><polygon points="1127,1483 1136.5,1488.5 1136.5,1499.5 1127,1505 1117.4,1499.5 1117.4,1488.5" fill="#884848"/><polygon points="1129.4,1482.6 1138.9,1488.1 1138.9,1499.1 1129.4,1504.6 1119.9,1499.1 1119.9,1488.1" fill="#884848"/><path d="M182.6,2356.3 L268.6,2330.2 L296.2,2309 L334,2288 L367.4,2270.7 L409.5,2247.5 L447.2,2221.3 L485,2202 L524.2,2182.1 L563.4,2154 L609.4,2125.5 L664.2,2082 L709.5,2046.2 L747.3,2017.8 L769.9,2000.8 L798.3,1972.5 L820.9,1953.6 L849.2,1931 L880,1905 L905,1873 L933.4,1844.6 L965.4,1821.4 L1000.2,1776.4 L1024.9,1751.7 L1040,1731 L1056.9,1711 L1081.6,1686.3 L1104.8,1661.6 L1119.3,1641.1 L1141.1,1613.3 L1168.9,1579.4 L1191.9,1560 L1228.2,1531 L1243.9,1490" fill="none" stroke="#8c8c00" stroke-width="5.5" stroke-linejoin="round" stroke-linecap="round"/><polygon points="268.6,2316.2 272.1,2325.4 281.9,2325.9 274.2,2332 276.8,2341.5 268.6,2336.1 260.4,2341.5 263,2332 255.3,2325.9 265.1,2325.4" fill="#8c8c00"/><polygon points="296.2,2295 299.7,2304.2 309.5,2304.7 301.8,2310.8 304.4,2320.3 296.2,2314.9 288,2320.3 290.6,2310.8 282.9,2304.7 292.7,2304.2" fill="#8c8c00"/><polygon points="334,2274 337.5,2283.2 347.3,2283.7 339.6,2289.8 342.2,2299.3 334,2293.9 325.8,2299.3 328.4,2289.8 320.7,2283.7 330.5,2283.2" fill="#8c8c00"/><polygon points="367.4,2256.7 370.9,2265.9 380.7,2266.4 373,2272.5 375.6,2282 367.4,2276.6 359.2,2282 361.8,2272.5 354.1,2266.4 363.9,2265.9" fill="#8c8c00"/><polygon points="409.5,2233.5 413,2242.7 422.8,2243.2 415.1,2249.3 417.7,2258.8 409.5,2253.4 401.3,2258.8 403.9,2249.3 396.2,2243.2 406,2242.7" fill="#8c8c00"/><polygon points="447.2,2207.3 450.7,2216.5 460.5,2217 452.8,2223.1 455.4,2232.6 447.2,2227.2 439,2232.6 441.6,2223.1 433.9,2217 443.7,2216.5" fill="#8c8c00"/><polygon points="485,2188 488.5,2197.2 498.3,2197.7 490.6,2203.8 493.2,2213.3 485,2207.9 476.8,2213.3 479.4,2203.8 471.7,2197.7 481.5,2197.2" fill="#8c8c00"/><polygon points="524.2,2168.1 527.7,2177.3 537.5,2177.8 529.8,2183.9 532.4,2193.4 524.2,2188 516,2193.4 518.6,2183.9 510.9,2177.8 520.7,2177.3" fill="#8c8c00"/><polygon points="563.4,2140 566.9,2149.2 576.7,2149.7 569,2155.8 571.6,2165.3 563.4,2159.9 555.2,2165.3 557.8,2155.8 550.1,2149.7 559.9,2149.2" fill="#8c8c00"/><polygon points="609.4,2111.5 612.9,2120.7 622.7,2121.2 615,2127.3 617.6,2136.8 609.4,2131.4 601.2,2136.8 603.8,2127.3 596.1,2121.2 605.9,2120.7" fill="#8c8c00"/><polygon points="664.2,2068 667.7,2077.2 677.5,2077.7 669.8,2083.8 672.4,2093.3 664.2,2087.9 656,2093.3 658.6,2083.8 650.9,2077.7 660.7,2077.2" fill="#8c8c00"/><polygon points="709.5,2032.2 713,2041.4 722.8,2041.9 715.1,2048 717.7,2057.5 709.5,2052.1 701.3,2057.5 703.9,2048 696.2,2041.9 706,2041.4" fill="#8c8c00"/><polygon points="747.3,2003.8 750.8,2013 760.6,2013.5 752.9,2019.6 755.5,2029.1 747.3,2023.7 739.1,2029.1 741.7,2019.6 734,2013.5 743.8,2013" fill="#8c8c00"/><polygon points="769.9,1986.8 773.4,1996 783.2,1996.5 775.5,2002.6 778.1,2012.1 769.9,2006.7 761.7,2012.1 764.3,2002.6 756.6,1996.5 766.4,1996" fill="#8c8c00"/><polygon points="798.3,1958.5 801.8,1967.7 811.6,1968.2 803.9,1974.3 806.5,1983.8 798.3,1978.4 790.1,1983.8 792.7,1974.3 785,1968.2 794.8,1967.7" fill="#8c8c00"/><polygon points="820.9,1939.6 824.4,1948.8 834.2,1949.3 826.5,1955.4 829.1,1964.9 820.9,1959.5 812.7,1964.9 815.3,1955.4 807.6,1949.3 817.4,1948.8" fill="#8c8c00"/><polygon points="849.2,1917 852.7,1926.2 862.5,1926.7 854.8,1932.8 857.4,1942.3 849.2,1936.9 841,1942.3 843.6,1932.8 835.9,1926.7 845.7,1926.2" fill="#8c8c00"/><polygon points="880,1891 883.5,1900.2 893.3,1900.7 885.6,1906.8 888.2,1916.3 880,1910.9 871.8,1916.3 874.4,1906.8 866.7,1900.7 876.5,1900.2" fill="#8c8c00"/><polygon points="905,1859 908.5,1868.2 918.3,1868.7 910.6,1874.8 913.2,1884.3 905,1878.9 896.8,1884.3 899.4,1874.8 891.7,1868.7 901.5,1868.2" fill="#8c8c00"/><polygon points="933.4,1830.6 936.9,1839.8 946.7,1840.3 939,1846.4 941.6,1855.9 933.4,1850.5 925.2,1855.9 927.8,1846.4 920.1,1840.3 929.9,1839.8" fill="#8c8c00"/><polygon points="965.4,1807.4 968.9,1816.6 978.7,1817.1 971,1823.2 973.6,1832.7 965.4,1827.3 957.2,1832.7 959.8,1823.2 952.1,1817.1 961.9,1816.6" fill="#8c8c00"/><polygon points="1000.2,1762.4 1003.7,1771.6 1013.5,1772.1 1005.8,1778.2 1008.4,1787.7 1000.2,1782.3 992,1787.7 994.6,1778.2 986.9,1772.1 996.7,1771.6" fill="#8c8c00"/><polygon points="1024.9,1737.7 1028.4,1746.9 1038.2,1747.4 1030.5,1753.5 1033.1,1763 1024.9,1757.6 1016.7,1763 1019.3,1753.5 1011.6,1747.4 1021.4,1746.9" fill="#8c8c00"/><polygon points="1040,1717 1043.5,1726.2 1053.3,1726.7 1045.6,1732.8 1048.2,1742.3 1040,1736.9 1031.8,1742.3 1034.4,1732.8 1026.7,1726.7 1036.5,1726.2" fill="#8c8c00"/><polygon points="1056.9,1697 1060.4,1706.2 1070.2,1706.7 1062.5,1712.8 1065.1,1722.3 1056.9,1716.9 1048.7,1722.3 1051.3,1712.8 1043.6,1706.7 1053.4,1706.2" fill="#8c8c00"/><polygon points="1081.6,1672.3 1085.1,1681.5 1094.9,1682 1087.2,1688.1 1089.8,1697.6 1081.6,1692.2 1073.4,1697.6 1076,1688.1 1068.3,1682 1078.1,1681.5" fill="#8c8c00"/><polygon points="1104.8,1647.6 1108.3,1656.8 1118.1,1657.3 1110.4,1663.4 1113,1672.9 1104.8,1667.5 1096.6,1672.9 1099.2,1663.4 1091.5,1657.3 1101.3,1656.8" fill="#8c8c00"/><polygon points="1119.3,1627.1 1122.8,1636.3 1132.6,1636.8 1124.9,1642.9 1127.5,1652.4 1119.3,1647 1111.1,1652.4 1113.7,1642.9 1106,1636.8 1115.8,1636.3" fill="#8c8c00"/><polygon points="1141.1,1599.3 1144.6,1608.5 1154.4,1609 1146.7,1615.1 1149.3,1624.6 1141.1,1619.2 1132.9,1624.6 1135.5,1615.1 1127.8,1609 1137.6,1608.5" fill="#8c8c00"/><polygon points="1168.9,1565.4 1172.4,1574.6 1182.2,1575.1 1174.5,1581.2 1177.1,1590.7 1168.9,1585.3 1160.7,1590.7 1163.3,1581.2 1155.6,1575.1 1165.4,1574.6" fill="#8c8c00"/><polygon points="1191.9,1546 1195.4,1555.2 1205.2,1555.7 1197.5,1561.8 1200.1,1571.3 1191.9,1565.9 1183.7,1571.3 1186.3,1561.8 1178.6,1555.7 1188.4,1555.2" fill="#8c8c00"/><polygon points="1228.2,1517 1231.7,1526.2 1241.5,1526.7 1233.8,1532.8 1236.4,1542.3 1228.2,1536.9 1220,1542.3 1222.6,1532.8 1214.9,1526.7 1224.7,1526.2" fill="#8c8c00"/><polygon points="1243.9,1476 1247.4,1485.2 1257.2,1485.7 1249.5,1491.8 1252.1,1501.3 1243.9,1495.9 1235.7,1501.3 1238.3,1491.8 1230.6,1485.7 1240.4,1485.2" fill="#8c8c00"/><path d="M182.6,2356.3 L183.3,2355.1 L184.2,2353.7 L185.2,2352.1 L186.4,2350.2 L187.6,2348.2 L189,2345.9 L190.4,2343.6 L191.8,2341.1 L193.2,2338.6 L194.5,2336 L195.8,2333.3 L197,2330.6 L198.1,2327.8 L199.3,2324.8 L200.5,2321.7 L201.8,2318.5 L203.3,2315.1 L204.9,2311.6 L206.8,2307.9 L209,2304 L211.5,2299.8 L214.4,2295.3 L217.5,2290.5 L220.8,2285.5 L224.3,2280.4 L227.8,2275.2 L231.3,2270.1 L234.7,2265.2 L238,2260.5 L241,2256 L243.8,2251.9 L246.5,2248 L249.2,2244.3 L251.7,2240.7 L254.2,2237.1 L256.7,2233.6 L259.2,2230 L261.8,2226.3 L264.4,2222.4 L267.1,2218.3 L269.8,2213.9 L272.6,2209.4 L275.3,2204.8 L278,2200.1 L280.8,2195.3 L283.7,2190.4 L286.6,2185.4 L289.7,2180.4 L292.9,2175.4 L296.2,2170.4 L299.7,2165.4 L303.4,2160.3 L307.2,2155.2 L311.1,2150 L315.1,2144.8 L319.2,2139.5 L323.3,2134.2 L327.4,2128.9 L331.4,2123.5 L335.4,2118.1 L339.3,2112.7 L343.1,2107.3 L346.9,2102 L350.7,2096.6 L354.5,2091.2 L358.4,2085.6 L362.3,2080 L366.4,2074.2 L370.6,2068.2 L375,2062 L379.6,2055.5 L384.3,2048.8 L389.2,2041.9 L394.3,2034.9 L399.4,2027.7 L404.5,2020.5 L409.7,2013.2 L414.8,2006 L420,1998.9 L425,1992 L430.1,1985.1 L435.2,1978.1 L440.5,1971 L445.7,1963.9 L450.9,1956.9 L456.1,1950.1 L461.1,1943.4 L466,1936.9 L470.6,1930.8 L475,1925 L479.1,1919.6 L482.9,1914.6 L486.5,1909.9 L489.9,1905.5 L493.2,1901.2 L496.5,1897 L499.8,1892.9 L503,1888.7 L506.4,1884.4 L510,1880 L513.7,1875.5 L517.3,1871 L521.1,1866.5 L524.8,1862 L528.6,1857.4 L532.4,1852.9 L536.2,1848.3 L540.1,1843.6 L544,1838.8 L548,1834 L552,1829 L556,1823.9 L560.1,1818.7 L564.2,1813.5 L568.3,1808.1 L572.5,1802.8 L576.8,1797.5 L581.1,1792.3 L585.5,1787.1 L590,1782 L594.5,1777 L599.1,1772.2 L603.8,1767.4 L608.5,1762.7 L613.2,1758 L618.1,1753.2 L623,1748.5 L628.1,1743.6 L633.3,1738.7 L638.6,1733.6 L644.1,1728.4 L649.8,1723 L655.6,1717.5 L661.6,1711.9 L667.7,1706.2 L673.8,1700.6 L679.9,1695.1 L685.9,1689.6 L692,1684.2 L697.9,1679 L703.8,1673.9 L709.6,1668.9 L715.4,1664 L721.2,1659.1 L727,1654.3 L732.8,1649.6 L738.5,1644.9 L744.3,1640.3 L750.2,1635.8 L756,1631.4 L761.9,1627 L767.8,1622.7 L773.7,1618.4 L779.7,1614.2 L785.6,1610.1 L791.6,1606.1 L797.5,1602.1 L803.4,1598.3 L809.2,1594.6 L814.9,1591.1 L820.5,1587.7 L826.1,1584.4 L831.6,1581.3 L837,1578.3 L842.4,1575.4 L847.8,1572.6 L853.2,1569.9 L858.7,1567.2 L864.3,1564.6 L870,1562 L875.8,1559.5 L881.7,1557.1 L887.6,1554.8 L893.6,1552.5 L899.7,1550.3 L905.8,1548.2 L911.8,1546.1 L917.9,1544 L924,1542 L930,1540 L936,1538 L942.2,1536.1 L948.3,1534.3 L954.5,1532.5 L960.6,1530.7 L966.7,1528.9 L972.7,1527.2 L978.6,1525.5 L984.4,1523.7 L990,1522 L995.4,1520.3 L1000.7,1518.5 L1005.8,1516.9 L1010.8,1515.2 L1015.8,1513.5 L1020.7,1511.8 L1025.5,1510.1 L1030.3,1508.4 L1035.2,1506.7 L1040,1505 L1045.1,1503.2 L1050.4,1501.2 L1055.9,1499.2 L1061.4,1497.1 L1066.8,1495 L1072,1493.1 L1076.7,1491.3 L1081,1489.6 L1084.6,1488.3 L1087.4,1487.2" fill="none" stroke="#ff6400" stroke-width="4.5" stroke-linejoin="round" stroke-linecap="round"/><polygon points="197.2,2319.9 207.8,2327.7 203.7,2340.2 190.6,2340.2 186.5,2327.7" fill="#ff6400"/><polygon points="218.2,2279.2 228.9,2286.9 224.8,2299.4 211.6,2299.4 207.6,2286.9" fill="#ff6400"/><polygon points="244.2,2241.2 254.8,2248.9 250.7,2261.4 237.6,2261.4 233.5,2248.9" fill="#ff6400"/><polygon points="270.1,2203.2 280.8,2211 276.7,2223.5 263.6,2223.5 259.5,2211" fill="#ff6400"/><polygon points="293.8,2163.8 304.5,2171.5 300.4,2184.1 287.2,2184.1 283.2,2171.5" fill="#ff6400"/><polygon points="321.1,2126.8 331.8,2134.5 327.7,2147.1 314.6,2147.1 310.5,2134.5" fill="#ff6400"/><polygon points="348.4,2089.7 359,2097.5 354.9,2110 341.8,2110 337.7,2097.5" fill="#ff6400"/><polygon points="374.8,2052.1 385.4,2059.8 381.4,2072.4 368.2,2072.4 364.1,2059.8" fill="#ff6400"/><polygon points="401.4,2014.6 412.1,2022.3 408,2034.8 394.8,2034.8 390.8,2022.3" fill="#ff6400"/><polygon points="428.3,1977.3 439,1985 434.9,1997.5 421.7,1997.5 417.7,1985" fill="#ff6400"/><polygon points="455.7,1940.3 466.4,1948.1 462.3,1960.6 449.2,1960.6 445.1,1948.1" fill="#ff6400"/><polygon points="483.5,1903.6 494.1,1911.4 490.1,1923.9 476.9,1923.9 472.8,1911.4" fill="#ff6400"/><polygon points="511.9,1867.5 522.5,1875.2 518.5,1887.7 505.3,1887.7 501.2,1875.2" fill="#ff6400"/><polygon points="541.2,1832 551.9,1839.8 547.8,1852.3 534.6,1852.3 530.6,1839.8" fill="#ff6400"/><polygon points="569.9,1796 580.5,1803.8 576.4,1816.3 563.3,1816.3 559.2,1803.8" fill="#ff6400"/><polygon points="599.9,1761.2 610.5,1768.9 606.5,1781.5 593.3,1781.5 589.2,1768.9" fill="#ff6400"/><polygon points="632.7,1729 643.4,1736.7 639.3,1749.3 626.1,1749.3 622.1,1736.7" fill="#ff6400"/><polygon points="666.2,1697.4 676.8,1705.2 672.8,1717.7 659.6,1717.7 655.5,1705.2" fill="#ff6400"/><polygon points="700.4,1666.7 711,1674.4 707,1686.9 693.8,1686.9 689.7,1674.4" fill="#ff6400"/><polygon points="735.6,1637.1 746.3,1644.8 742.2,1657.4 729,1657.4 724.9,1644.8" fill="#ff6400"/><polygon points="772.2,1609.3 782.9,1617 778.8,1629.6 765.7,1629.6 761.6,1617" fill="#ff6400"/><polygon points="810.4,1583.7 821.1,1591.4 817,1603.9 803.8,1603.9 799.8,1591.4" fill="#ff6400"/><polygon points="850.5,1561 861.1,1568.8 857.1,1581.3 843.9,1581.3 839.8,1568.8" fill="#ff6400"/><polygon points="892.6,1542.7 903.3,1550.4 899.2,1562.9 886,1562.9 882,1550.4" fill="#ff6400"/><polygon points="936.1,1527.8 946.8,1535.5 942.7,1548.1 929.6,1548.1 925.5,1535.5" fill="#ff6400"/><polygon points="980.3,1514.8 990.9,1522.5 986.8,1535 973.7,1535 969.6,1522.5" fill="#ff6400"/><polygon points="1024,1500.5 1034.6,1508.2 1030.6,1520.7 1017.4,1520.7 1013.3,1508.2" fill="#ff6400"/><polygon points="1067.2,1484.7 1077.8,1492.4 1073.8,1505 1060.6,1505 1056.5,1492.4" fill="#ff6400"/><polygon points="1087.4,1477 1098.1,1484.7 1094,1497.3 1080.8,1497.3 1076.7,1484.7" fill="#ff6400"/><path d="M182.6,2356.3 L282.4,2299.6 L360.1,2259 L428.4,2218.4 L505.3,2171.9 L607.6,2108.5 L665,2072 L720.8,2033 L768,1976.3 L819,1928.1 L869.4,1885.4 L914.5,1838.8 L947.9,1799.6 L995.9,1747.3 L1031.4,1705.9 L1064.1,1663.8 L1108.5,1620.5 L1150.8,1578.2 L1194.3,1526.2 L1219.7,1491.1" fill="none" stroke="#3c9ad6" stroke-width="4.8" stroke-linejoin="round" stroke-linecap="round"/><circle cx="282.4" cy="2299.6" r="11.5" fill="#3c9ad6"/><circle cx="280.1" cy="2296.8" r="4.4" fill="url(#hl2)"/><circle cx="360.1" cy="2259" r="11.5" fill="#3c9ad6"/><circle cx="357.8" cy="2256.2" r="4.4" fill="url(#hl2)"/><circle cx="428.4" cy="2218.4" r="11.5" fill="#3c9ad6"/><circle cx="426.1" cy="2215.6" r="4.4" fill="url(#hl2)"/><circle cx="505.3" cy="2171.9" r="11.5" fill="#3c9ad6"/><circle cx="503" cy="2169.1" r="4.4" fill="url(#hl2)"/><circle cx="607.6" cy="2108.5" r="11.5" fill="#3c9ad6"/><circle cx="605.3" cy="2105.7" r="4.4" fill="url(#hl2)"/><circle cx="665" cy="2072" r="11.5" fill="#3c9ad6"/><circle cx="662.7" cy="2069.2" r="4.4" fill="url(#hl2)"/><circle cx="720.8" cy="2033" r="11.5" fill="#3c9ad6"/><circle cx="718.5" cy="2030.2" r="4.4" fill="url(#hl2)"/><circle cx="768" cy="1976.3" r="11.5" fill="#3c9ad6"/><circle cx="765.7" cy="1973.5" r="4.4" fill="url(#hl2)"/><circle cx="819" cy="1928.1" r="11.5" fill="#3c9ad6"/><circle cx="816.7" cy="1925.3" r="4.4" fill="url(#hl2)"/><circle cx="869.4" cy="1885.4" r="11.5" fill="#3c9ad6"/><circle cx="867.1" cy="1882.6" r="4.4" fill="url(#hl2)"/><circle cx="914.5" cy="1838.8" r="11.5" fill="#3c9ad6"/><circle cx="912.2" cy="1836" r="4.4" fill="url(#hl2)"/><circle cx="947.9" cy="1799.6" r="11.5" fill="#3c9ad6"/><circle cx="945.6" cy="1796.8" r="4.4" fill="url(#hl2)"/><circle cx="995.9" cy="1747.3" r="11.5" fill="#3c9ad6"/><circle cx="993.6" cy="1744.5" r="4.4" fill="url(#hl2)"/><circle cx="1031.4" cy="1705.9" r="11.5" fill="#3c9ad6"/><circle cx="1029.1" cy="1703.1" r="4.4" fill="url(#hl2)"/><circle cx="1064.1" cy="1663.8" r="11.5" fill="#3c9ad6"/><circle cx="1061.8" cy="1661" r="4.4" fill="url(#hl2)"/><circle cx="1108.5" cy="1620.5" r="11.5" fill="#3c9ad6"/><circle cx="1106.2" cy="1617.7" r="4.4" fill="url(#hl2)"/><circle cx="1150.8" cy="1578.2" r="11.5" fill="#3c9ad6"/><circle cx="1148.5" cy="1575.4" r="4.4" fill="url(#hl2)"/><circle cx="1194.3" cy="1526.2" r="11.5" fill="#3c9ad6"/><circle cx="1192" cy="1523.4" r="4.4" fill="url(#hl2)"/><circle cx="1219.7" cy="1491.1" r="11.5" fill="#3c9ad6"/><circle cx="1217.4" cy="1488.3" r="4.4" fill="url(#hl2)"/><path d="M182.6,2356.3 L184.7,2352.9 L187.5,2348.6 L190.8,2343.4 L194.5,2337.7 L198.5,2331.5 L202.6,2325 L206.8,2318.4 L210.9,2311.9 L214.9,2305.7 L218.6,2300 L222.1,2294.6 L225.6,2289.2 L229,2283.9 L232.4,2278.7 L235.9,2273.4 L239.3,2268.2 L242.7,2262.9 L246.1,2257.7 L249.5,2252.4 L253,2247 L256.5,2241.6 L259.9,2236.2 L263.4,2230.7 L266.9,2225.2 L270.4,2219.7 L273.9,2214.2 L277.4,2208.7 L280.9,2203.1 L284.5,2197.6 L288,2192 L291.5,2186.4 L295.1,2180.7 L298.6,2175.1 L302.1,2169.4 L305.7,2163.7 L309.2,2158 L312.8,2152.3 L316.5,2146.6 L320.2,2140.9 L323.9,2135.3 L327.7,2129.7 L331.5,2124.2 L335.4,2118.6 L339.4,2113.1 L343.3,2107.6 L347.3,2102.1 L351.3,2096.6 L355.3,2091.1 L359.4,2085.5 L363.4,2080 L367.4,2074.5 L371.5,2069 L375.6,2063.5 L379.7,2058 L383.8,2052.5 L388,2047 L392.1,2041.5 L396.2,2035.9 L400.4,2030.2 L404.5,2024.5 L408.6,2018.7 L412.8,2012.7 L416.9,2006.7 L421.1,2000.6 L425.3,1994.5 L429.4,1988.4 L433.6,1982.4 L437.8,1976.4 L441.9,1970.6 L446,1965 L450.2,1959.5 L454.4,1953.9 L458.7,1948.5 L462.9,1943 L467.2,1937.7 L471.4,1932.6 L475.4,1927.5 L479.3,1922.7 L483.1,1918.1 L486.6,1913.7 L489.8,1909.7 L492.8,1906 L495.5,1902.7 L498.1,1899.5 L500.6,1896.5 L503.1,1893.5 L505.6,1890.5 L508.2,1887.2 L511,1883.8 L514,1880 L517.2,1875.9 L520.5,1871.7 L524,1867.4 L527.5,1862.9 L531,1858.3 L534.7,1853.6 L538.4,1848.8 L542.2,1843.9 L546.1,1839 L550,1834 L554.1,1828.8 L558.4,1823.3 L562.8,1817.6 L567.3,1811.8 L571.9,1806 L576.4,1800.3 L580.8,1794.7 L585,1789.4 L589,1784.5 L592.7,1780 L596,1776.1 L598.9,1772.6 L601.6,1769.4 L604.1,1766.6 L606.5,1763.9 L608.9,1761.3 L611.4,1758.7 L614,1756 L616.8,1753.1 L620,1749.9 L623.5,1746.5 L627.2,1742.9 L631.1,1739.2 L635.1,1735.4 L639.2,1731.6 L643.4,1727.8 L647.6,1724 L651.8,1720.2 L655.9,1716.6 L660,1713 L664,1709.6 L668,1706.2 L672.1,1702.9 L676.1,1699.7 L680.1,1696.4 L684.1,1693.2 L688.2,1690 L692.2,1686.8 L696.2,1683.5 L700.2,1680.2 L704.2,1676.8 L708.2,1673.5 L712.2,1670 L716.1,1666.6 L720.1,1663.2 L724.1,1659.8 L728.1,1656.3 L732,1652.9 L736,1649.4 L740,1646 L744,1642.5 L748,1638.9 L752.1,1635.3 L756.1,1631.7 L760.2,1628.1 L764.2,1624.5 L768.2,1621.1 L772.2,1617.7 L776.1,1614.6 L780,1611.6 L783.8,1608.9 L787.5,1606.4 L791.2,1604 L794.8,1601.8 L798.4,1599.7 L802,1597.7 L805.6,1595.6 L809.4,1593.5 L813.2,1591.3 L817.1,1588.9 L821.1,1586.4 L825.2,1583.8 L829.3,1581.2 L833.5,1578.5 L837.7,1575.9 L842.1,1573.2 L846.4,1570.5 L850.9,1567.9 L855.4,1565.3 L860,1562.8 L864.7,1560.4 L869.3,1558 L874,1555.8 L878.8,1553.5 L883.7,1551.3 L888.7,1549 L893.8,1546.8 L899,1544.6 L904.4,1542.3 L910,1540 L915.9,1537.6 L922,1535.1 L928.4,1532.5 L934.9,1530 L941.5,1527.4 L948.2,1524.9 L954.8,1522.4 L961.3,1520.1 L967.7,1518 L973.8,1516 L979.7,1514.2 L985.4,1512.7 L991,1511.2 L996.5,1509.9 L1002,1508.7 L1007.4,1507.5 L1012.9,1506.4 L1018.5,1505.3 L1024.2,1504.2 L1030,1503 L1036.3,1501.8 L1043.1,1500.5 L1050.2,1499.2 L1057.5,1498 L1064.7,1496.7 L1071.6,1495.6 L1078,1494.5 L1083.7,1493.5 L1088.6,1492.7 L1092.3,1492.1" fill="none" stroke="#14bb14" stroke-width="6" stroke-linejoin="round" stroke-linecap="round"/><rect x="211" y="1364" width="294" height="494" fill="#fdfdfd"/><path d="M215.5,1391.8 L286,1391.8" fill="none" stroke="#555555" stroke-width="5.2" stroke-linejoin="round" stroke-linecap="round"/><rect x="240.6" y="1381.8" width="20" height="20" fill="#555555"/><text x="292.5" y="1403.2" font-size="31.4" fill="#000">1×10^4 test</text><path d="M215.5,1432 L286,1432" fill="none" stroke="#f84242" stroke-width="5.2" stroke-linejoin="round" stroke-linecap="round"/><circle cx="250.6" cy="1432" r="12" fill="#f84242"/><text x="292.5" y="1443.5" font-size="31.4" fill="#000">1×10^4 FEM</text><path d="M215.5,1472.3 L286,1472.3" fill="none" stroke="#0066e0" stroke-width="5.2" stroke-linejoin="round" stroke-linecap="round"/><polygon points="250.6,1456.5 237.1,1480.8 264.1,1480.8" fill="#0066e0"/><text x="292.5" y="1483.7" font-size="31.4" fill="#000">5×10^4 test</text><path d="M215.5,1512.5 L286,1512.5" fill="none" stroke="#00a86a" stroke-width="5.2" stroke-linejoin="round" stroke-linecap="round"/><polygon points="250.6,1529.1 237.1,1504.8 264.1,1504.8" fill="#00a86a"/><text x="292.5" y="1524" font-size="31.4" fill="#000">5×10^4 FEM</text><path d="M215.5,1552.8 L286,1552.8" fill="none" stroke="#c878e0" stroke-width="5.2" stroke-linejoin="round" stroke-linecap="round"/><polygon points="250.6,1538.8 264.1,1552.8 250.6,1566.8 237.1,1552.8" fill="#c878e0"/><text x="292.5" y="1564.2" font-size="31.4" fill="#000">10×10^4 test</text><path d="M215.5,1593 L286,1593" fill="none" stroke="#dc9a00" stroke-width="5.2" stroke-linejoin="round" stroke-linecap="round"/><polygon points="234.8,1593 259.1,1579.5 259.1,1606.5" fill="#dc9a00"/><text x="292.5" y="1604.5" font-size="31.4" fill="#000">10×10^4 FEM</text><path d="M215.5,1633.3 L286,1633.3" fill="none" stroke="#00cccc" stroke-width="5.2" stroke-linejoin="round" stroke-linecap="round"/><polygon points="266.4,1633.3 242.1,1619.8 242.1,1646.8" fill="#00cccc"/><text x="292.5" y="1644.7" font-size="31.4" fill="#000">50×10^4 test</text><path d="M215.5,1673.5 L286,1673.5" fill="none" stroke="#884848" stroke-width="5.2" stroke-linejoin="round" stroke-linecap="round"/><polygon points="250.6,1660.2 262.2,1666.9 262.2,1680.2 250.6,1686.9 239,1680.2 239,1666.9" fill="#884848"/><text x="292.5" y="1685" font-size="31.4" fill="#000">50×10^4 FEM</text><path d="M215.5,1713.8 L286,1713.8" fill="none" stroke="#8c8c00" stroke-width="5.2" stroke-linejoin="round" stroke-linecap="round"/><polygon points="250.6,1701.5 253.6,1709.6 262.3,1710 255.5,1715.4 257.8,1723.8 250.6,1719 243.4,1723.8 245.7,1715.4 238.9,1710 247.6,1709.6" fill="#8c8c00"/><text x="292.5" y="1725.2" font-size="31.4" fill="#000">90×10^4 test</text><path d="M215.5,1754 L286,1754" fill="none" stroke="#ff6400" stroke-width="5.2" stroke-linejoin="round" stroke-linecap="round"/><polygon points="250.6,1741.6 263.4,1750.9 258.5,1765.9 242.7,1765.9 237.8,1750.9" fill="#ff6400"/><text x="292.5" y="1765.5" font-size="31.4" fill="#000">90×10^4 FEM</text><path d="M215.5,1794.3 L286,1794.3" fill="none" stroke="#3c9ad6" stroke-width="5.2" stroke-linejoin="round" stroke-linecap="round"/><circle cx="250.6" cy="1794.3" r="12" fill="#3c9ad6"/><circle cx="248.2" cy="1791.4" r="4.6" fill="url(#hl2)"/><text x="292.5" y="1805.7" font-size="31.4" fill="#000">150×10^4 test</text><path d="M215.5,1834.5 L286,1834.5" fill="none" stroke="#14bb14" stroke-width="5.2" stroke-linejoin="round" stroke-linecap="round"/><path d="M250.6,1822.5 V1846.5" stroke="#14bb14" stroke-width="2.2"/><text x="292.5" y="1846" font-size="31.4" fill="#000">150×10^4 FEM</text><text x="164" y="2376.9" font-size="66" text-anchor="end" fill="#000">0</text><text x="164" y="2155.5" font-size="66" text-anchor="end" fill="#000">20</text><text x="164" y="1934.1" font-size="66" text-anchor="end" fill="#000">40</text><text x="164" y="1712.7" font-size="66" text-anchor="end" fill="#000">60</text><text x="164" y="1491.3" font-size="66" text-anchor="end" fill="#000">80</text><text x="182.6" y="2430" font-size="66" text-anchor="middle" fill="#000">0</text><text x="452.1" y="2430" font-size="66" text-anchor="middle" fill="#000">2</text><text x="721.6" y="2430" font-size="66" text-anchor="middle" fill="#000">4</text><text x="991.1" y="2430" font-size="66" text-anchor="middle" fill="#000">6</text><text x="1260.6" y="2430" font-size="66" text-anchor="middle" fill="#000">8</text><text x="175" y="1544" font-size="62" text-anchor="end" fill="#ff0000">78</text><text transform="translate(73.4,1858.8) rotate(-90)" font-size="65" text-anchor="middle" fill="#000">Load (kN)</text><text x="833.1" y="2495" font-size="64.4" text-anchor="middle" fill="#000">Deflection (mm)</text><text x="704" y="2634" font-size="78" text-anchor="middle" fill="#000"><tspan font-weight="normal">(</tspan>b<tspan font-weight="normal">)</tspan></text><path d="M1269.3,1648.3 L1310,1553" fill="none" stroke="#000" stroke-width="7.2" stroke-linejoin="round" stroke-linecap="butt"/><polygon points="1329.7,1506.9 1298.3,1548 1322.5,1558.9" fill="#000"/><text x="1203" y="1688" font-size="55" font-style="italic" fill="#000">P</text><text transform="translate(1252,1707.6) scale(0.9,1)" font-size="60" fill="#000">max</text>
</svg>
</body></html>
